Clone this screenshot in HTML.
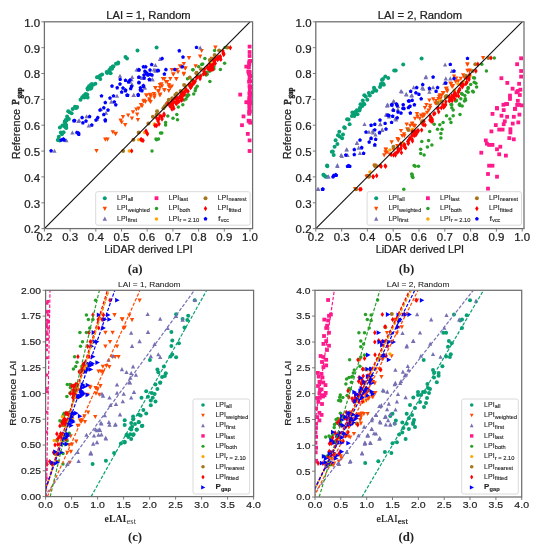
<!DOCTYPE html>
<html><head><meta charset="utf-8"><style>
html,body{margin:0;padding:0;background:#fff;}
body{width:535px;height:550px;overflow:hidden;}
svg{display:block;filter:grayscale(0%);}

</style></head><body>
<svg width="535" height="550" viewBox="0 0 535 550">
<rect width="535" height="550" fill="#fff"/>
<clipPath id="clipa"><rect x="44.4" y="21.8" width="208.2" height="206.8"/></clipPath>
<g clip-path="url(#clipa)">
<circle cx="57.8" cy="140.0" r="2.00" fill="#06a074"/>
<circle cx="60.8" cy="132.5" r="2.00" fill="#06a074"/>
<circle cx="61.9" cy="134.3" r="2.00" fill="#06a074"/>
<circle cx="66.1" cy="125.7" r="2.00" fill="#06a074"/>
<circle cx="65.7" cy="124.5" r="2.00" fill="#06a074"/>
<circle cx="64.9" cy="121.5" r="2.00" fill="#06a074"/>
<circle cx="125.5" cy="57.1" r="2.00" fill="#06a074"/>
<circle cx="127.0" cy="58.6" r="2.00" fill="#06a074"/>
<circle cx="137.5" cy="50.4" r="2.00" fill="#06a074"/>
<circle cx="156.6" cy="47.4" r="2.00" fill="#06a074"/>
<circle cx="118.0" cy="63.5" r="2.00" fill="#06a074"/>
<circle cx="116.0" cy="63.8" r="2.00" fill="#06a074"/>
<circle cx="91.3" cy="87.9" r="2.00" fill="#06a074"/>
<circle cx="100.2" cy="75.6" r="2.00" fill="#06a074"/>
<circle cx="69.6" cy="112.2" r="2.00" fill="#06a074"/>
<circle cx="59.8" cy="140.5" r="2.00" fill="#06a074"/>
<circle cx="102.1" cy="74.4" r="2.00" fill="#06a074"/>
<circle cx="71.6" cy="113.3" r="2.00" fill="#06a074"/>
<circle cx="67.1" cy="116.4" r="2.00" fill="#06a074"/>
<circle cx="84.3" cy="97.6" r="2.00" fill="#06a074"/>
<circle cx="118.2" cy="62.6" r="2.00" fill="#06a074"/>
<circle cx="89.0" cy="86.3" r="2.00" fill="#06a074"/>
<circle cx="66.6" cy="120.5" r="2.00" fill="#06a074"/>
<circle cx="90.4" cy="88.8" r="2.00" fill="#06a074"/>
<circle cx="58.8" cy="136.7" r="2.00" fill="#06a074"/>
<circle cx="80.5" cy="99.7" r="2.00" fill="#06a074"/>
<circle cx="91.3" cy="87.4" r="2.00" fill="#06a074"/>
<circle cx="82.2" cy="97.2" r="2.00" fill="#06a074"/>
<circle cx="64.8" cy="122.2" r="2.00" fill="#06a074"/>
<circle cx="65.1" cy="121.4" r="2.00" fill="#06a074"/>
<circle cx="59.0" cy="140.3" r="2.00" fill="#06a074"/>
<circle cx="64.2" cy="126.1" r="2.00" fill="#06a074"/>
<circle cx="109.3" cy="70.0" r="2.00" fill="#06a074"/>
<circle cx="106.7" cy="72.1" r="2.00" fill="#06a074"/>
<circle cx="97.0" cy="77.2" r="2.00" fill="#06a074"/>
<circle cx="85.6" cy="94.0" r="2.00" fill="#06a074"/>
<circle cx="110.6" cy="73.2" r="2.00" fill="#06a074"/>
<circle cx="87.6" cy="88.2" r="2.00" fill="#06a074"/>
<circle cx="77.1" cy="106.9" r="2.00" fill="#06a074"/>
<circle cx="65.3" cy="127.1" r="2.00" fill="#06a074"/>
<circle cx="76.6" cy="107.7" r="2.00" fill="#06a074"/>
<circle cx="87.7" cy="89.4" r="2.00" fill="#06a074"/>
<circle cx="91.2" cy="86.1" r="2.00" fill="#06a074"/>
<circle cx="62.4" cy="125.6" r="2.00" fill="#06a074"/>
<circle cx="67.6" cy="118.3" r="2.00" fill="#06a074"/>
<circle cx="63.6" cy="132.2" r="2.00" fill="#06a074"/>
<circle cx="65.7" cy="120.1" r="2.00" fill="#06a074"/>
<circle cx="68.2" cy="111.2" r="2.00" fill="#06a074"/>
<circle cx="93.2" cy="84.7" r="2.00" fill="#06a074"/>
<circle cx="107.2" cy="73.0" r="2.00" fill="#06a074"/>
<circle cx="110.7" cy="68.0" r="2.00" fill="#06a074"/>
<circle cx="66.3" cy="128.1" r="2.00" fill="#06a074"/>
<circle cx="112.7" cy="66.6" r="2.00" fill="#06a074"/>
<circle cx="65.3" cy="123.7" r="2.00" fill="#06a074"/>
<circle cx="90.6" cy="85.1" r="2.00" fill="#06a074"/>
<circle cx="75.0" cy="106.7" r="2.00" fill="#06a074"/>
<circle cx="68.9" cy="118.9" r="2.00" fill="#06a074"/>
<circle cx="109.6" cy="71.1" r="2.00" fill="#06a074"/>
<circle cx="87.2" cy="94.4" r="2.00" fill="#06a074"/>
<circle cx="100.3" cy="79.1" r="2.00" fill="#06a074"/>
<circle cx="75.8" cy="107.9" r="2.00" fill="#06a074"/>
<circle cx="59.9" cy="127.5" r="2.00" fill="#06a074"/>
<circle cx="91.9" cy="84.1" r="2.00" fill="#06a074"/>
<circle cx="87.6" cy="97.5" r="2.00" fill="#06a074"/>
<circle cx="72.7" cy="109.0" r="2.00" fill="#06a074"/>
<circle cx="95.4" cy="83.8" r="2.00" fill="#06a074"/>
<circle cx="83.9" cy="95.6" r="2.00" fill="#06a074"/>
<circle cx="112.1" cy="68.8" r="2.00" fill="#06a074"/>
<circle cx="113.4" cy="66.6" r="2.00" fill="#06a074"/>
<circle cx="98.4" cy="77.0" r="2.00" fill="#06a074"/>
<path d="M160.8 77.0H165.1L162.9 81.1Z" fill="#ff4a00"/>
<path d="M163.8 80.0H168.1L165.9 84.1Z" fill="#ff4a00"/>
<path d="M166.7 83.0H171.0L168.8 87.1Z" fill="#ff4a00"/>
<path d="M159.2 82.2H163.6L161.4 86.3Z" fill="#ff4a00"/>
<path d="M157.8 86.0H162.1L159.9 90.1Z" fill="#ff4a00"/>
<path d="M162.2 88.2H166.6L164.4 92.3Z" fill="#ff4a00"/>
<path d="M153.2 86.0H157.6L155.4 90.1Z" fill="#ff4a00"/>
<path d="M156.2 89.7H160.6L158.4 93.8Z" fill="#ff4a00"/>
<path d="M152.4 93.4H156.8L154.6 97.5Z" fill="#ff4a00"/>
<path d="M148.8 94.2H153.1L150.9 98.3Z" fill="#ff4a00"/>
<path d="M144.2 93.4H148.6L146.4 97.5Z" fill="#ff4a00"/>
<path d="M147.2 97.2H151.6L149.4 101.3Z" fill="#ff4a00"/>
<path d="M142.0 98.7H146.3L144.2 102.8Z" fill="#ff4a00"/>
<path d="M166.7 89.0H171.0L168.8 93.1Z" fill="#ff4a00"/>
<path d="M169.7 84.5H174.0L171.8 88.6Z" fill="#ff4a00"/>
<path d="M171.2 72.5H175.5L173.3 76.6Z" fill="#ff4a00"/>
<path d="M174.2 77.0H178.5L176.3 81.1Z" fill="#ff4a00"/>
<path d="M174.9 68.0H179.2L177.1 72.1Z" fill="#ff4a00"/>
<path d="M178.7 65.0H183.0L180.8 69.1Z" fill="#ff4a00"/>
<path d="M183.2 66.5H187.5L185.3 70.6Z" fill="#ff4a00"/>
<path d="M181.7 71.8H186.0L183.8 75.9Z" fill="#ff4a00"/>
<path d="M199.5 48.9H203.8L201.7 53.0Z" fill="#ff4a00"/>
<path d="M198.0 54.6H202.3L200.2 58.7Z" fill="#ff4a00"/>
<path d="M186.8 56.1H191.2L189.0 60.2Z" fill="#ff4a00"/>
<path d="M181.7 62.1H186.0L183.8 66.2Z" fill="#ff4a00"/>
<path d="M193.5 64.3H197.8L195.7 68.4Z" fill="#ff4a00"/>
<path d="M183.2 66.5H187.5L185.3 70.6Z" fill="#ff4a00"/>
<path d="M181.7 72.5H186.0L183.8 76.6Z" fill="#ff4a00"/>
<path d="M169.7 68.0H174.0L171.8 72.1Z" fill="#ff4a00"/>
<path d="M174.2 77.0H178.5L176.3 81.1Z" fill="#ff4a00"/>
<path d="M171.2 72.5H175.5L173.3 76.6Z" fill="#ff4a00"/>
<path d="M162.2 77.0H166.6L164.4 81.1Z" fill="#ff4a00"/>
<path d="M165.2 80.0H169.5L167.3 84.1Z" fill="#ff4a00"/>
<path d="M166.7 84.5H171.0L168.8 88.6Z" fill="#ff4a00"/>
<path d="M157.8 83.0H162.1L159.9 87.1Z" fill="#ff4a00"/>
<path d="M168.2 86.0H172.5L170.3 90.1Z" fill="#ff4a00"/>
<path d="M162.2 88.2H166.6L164.4 92.3Z" fill="#ff4a00"/>
<path d="M153.2 86.0H157.6L155.4 90.1Z" fill="#ff4a00"/>
<path d="M156.2 89.0H160.6L158.4 93.1Z" fill="#ff4a00"/>
<path d="M151.8 91.9H156.1L153.9 96.0Z" fill="#ff4a00"/>
<path d="M144.2 93.4H148.6L146.4 97.5Z" fill="#ff4a00"/>
<path d="M148.0 92.7H152.3L150.2 96.8Z" fill="#ff4a00"/>
<path d="M157.8 93.4H162.1L159.9 97.5Z" fill="#ff4a00"/>
<path d="M141.2 99.4H145.6L143.4 103.5Z" fill="#ff4a00"/>
<path d="M147.2 98.7H151.6L149.4 102.8Z" fill="#ff4a00"/>
<path d="M168.2 77.0H172.5L170.3 81.1Z" fill="#ff4a00"/>
<path d="M213.2 45.6H217.6L215.4 49.7Z" fill="#ff4a00"/>
<path d="M209.5 56.8H213.8L211.7 60.9Z" fill="#ff4a00"/>
<path d="M147.8 93.2H152.1L149.9 97.3Z" fill="#ff4a00"/>
<path d="M152.2 95.4H156.6L154.4 99.5Z" fill="#ff4a00"/>
<path d="M158.2 92.4H162.5L160.3 96.5Z" fill="#ff4a00"/>
<path d="M143.2 99.9H147.6L145.4 104.0Z" fill="#ff4a00"/>
<path d="M138.8 102.9H143.1L140.9 107.0Z" fill="#ff4a00"/>
<path d="M136.5 106.6H140.8L138.7 110.7Z" fill="#ff4a00"/>
<path d="M134.2 107.4H138.6L136.4 111.5Z" fill="#ff4a00"/>
<path d="M135.0 112.6H139.3L137.2 116.7Z" fill="#ff4a00"/>
<path d="M126.0 113.4H130.3L128.2 117.5Z" fill="#ff4a00"/>
<path d="M120.8 114.9H125.2L123.0 119.0Z" fill="#ff4a00"/>
<path d="M129.8 116.4H134.1L131.9 120.5Z" fill="#ff4a00"/>
<path d="M135.8 117.9H140.1L137.9 122.0Z" fill="#ff4a00"/>
<path d="M118.5 118.6H122.9L120.7 122.7Z" fill="#ff4a00"/>
<path d="M123.0 123.1H127.4L125.2 127.2Z" fill="#ff4a00"/>
<path d="M113.3 132.1H117.7L115.5 136.2Z" fill="#ff4a00"/>
<path d="M148.4 99.9H152.8L150.6 104.0Z" fill="#ff4a00"/>
<path d="M103.1 137.6H107.5L105.3 141.7Z" fill="#ff4a00"/>
<path d="M105.3 137.6H109.7L107.5 141.7Z" fill="#ff4a00"/>
<path d="M110.6 130.2H115.0L112.8 134.3Z" fill="#ff4a00"/>
<path d="M113.6 131.7H118.0L115.8 135.8Z" fill="#ff4a00"/>
<path d="M119.5 120.4H123.9L121.7 124.5Z" fill="#ff4a00"/>
<path d="M94.3 148.9H98.7L96.5 153.0Z" fill="#ff4a00"/>
<path d="M139.8 104.2H144.2L142.0 108.3Z" fill="#ff4a00"/>
<path d="M130.8 110.2H135.2L133.0 114.3Z" fill="#ff4a00"/>
<path d="M175.8 70.2H180.2L178.0 74.3Z" fill="#ff4a00"/>
<path d="M177.8 64.2H182.2L180.0 68.3Z" fill="#ff4a00"/>
<path d="M159.8 84.2H164.2L162.0 88.3Z" fill="#ff4a00"/>
<path d="M134.5 71.6H138.8L136.7 67.5Z" fill="#7570b3"/>
<path d="M151.8 71.6H156.1L153.9 67.5Z" fill="#7570b3"/>
<path d="M153.9 72.4H158.2L156.1 68.3Z" fill="#7570b3"/>
<path d="M139.8 79.9H144.1L141.9 75.8Z" fill="#7570b3"/>
<path d="M129.3 81.3H133.7L131.5 77.2Z" fill="#7570b3"/>
<path d="M127.8 83.6H132.2L130.0 79.5Z" fill="#7570b3"/>
<path d="M130.0 86.6H134.3L132.2 82.5Z" fill="#7570b3"/>
<path d="M142.0 89.6H146.3L144.2 85.5Z" fill="#7570b3"/>
<path d="M131.5 97.0H135.8L133.7 92.9Z" fill="#7570b3"/>
<path d="M150.2 81.3H154.6L152.4 77.2Z" fill="#7570b3"/>
<path d="M98.6 111.1H103.0L100.8 107.0Z" fill="#7570b3"/>
<path d="M109.1 103.7H113.5L111.3 99.6Z" fill="#7570b3"/>
<path d="M76.9 122.3H81.2L79.1 118.2Z" fill="#7570b3"/>
<path d="M84.4 118.3H88.8L86.6 114.2Z" fill="#7570b3"/>
<path d="M70.2 134.5H74.6L72.4 130.4Z" fill="#7570b3"/>
<path d="M94.9 120.8H99.2L97.1 116.7Z" fill="#7570b3"/>
<path d="M86.6 127.5H91.0L88.8 123.4Z" fill="#7570b3"/>
<path d="M52.4 152.8H56.6L54.5 148.7Z" fill="#7570b3"/>
<path d="M64.2 142.3H68.6L66.4 138.2Z" fill="#7570b3"/>
<path d="M76.2 123.0H80.6L78.4 118.9Z" fill="#7570b3"/>
<path d="M198.0 49.5H202.3L200.2 45.4Z" fill="#7570b3"/>
<path d="M157.8 60.9H162.1L159.9 56.8Z" fill="#7570b3"/>
<path d="M153.2 67.1H157.6L155.4 63.0Z" fill="#7570b3"/>
<path d="M136.0 71.6H140.3L138.2 67.5Z" fill="#7570b3"/>
<path d="M153.2 72.4H157.6L155.4 68.3Z" fill="#7570b3"/>
<path d="M150.2 81.3H154.6L152.4 77.2Z" fill="#7570b3"/>
<path d="M130.0 79.1H134.3L132.2 75.0Z" fill="#7570b3"/>
<path d="M141.2 79.8H145.6L143.4 75.7Z" fill="#7570b3"/>
<path d="M142.8 89.6H147.1L144.9 85.5Z" fill="#7570b3"/>
<path d="M131.5 97.0H135.8L133.7 92.9Z" fill="#7570b3"/>
<path d="M127.0 83.6H131.3L129.2 79.5Z" fill="#7570b3"/>
<path d="M114.8 97.8H119.2L117.0 93.7Z" fill="#7570b3"/>
<path d="M103.8 114.8H108.2L106.0 110.7Z" fill="#7570b3"/>
<path d="M117.8 77.8H122.2L120.0 73.7Z" fill="#7570b3"/>
<rect x="238.3" y="92.7" width="3.8" height="3.8" fill="#ff1a8c"/>
<rect x="241.6" y="114.5" width="3.8" height="3.8" fill="#ff1a8c"/>
<rect x="240.1" y="123.3" width="3.8" height="3.8" fill="#ff1a8c"/>
<rect x="244.4" y="64.7" width="3.8" height="3.8" fill="#ff1a8c"/>
<rect x="244.4" y="100.3" width="3.8" height="3.8" fill="#ff1a8c"/>
<rect x="245.9" y="132.0" width="3.8" height="3.8" fill="#ff1a8c"/>
<rect x="247.7" y="138.5" width="3.8" height="3.8" fill="#ff1a8c"/>
<rect x="247.7" y="149.1" width="3.8" height="3.8" fill="#ff1a8c"/>
<rect x="247.7" y="44.7" width="3.8" height="3.8" fill="#ff1a8c"/>
<rect x="247.7" y="50.1" width="3.8" height="3.8" fill="#ff1a8c"/>
<rect x="247.7" y="54.1" width="3.8" height="3.8" fill="#ff1a8c"/>
<rect x="247.9" y="84.9" width="3.8" height="3.8" fill="#ff1a8c"/>
<rect x="248.3" y="59.0" width="3.8" height="3.8" fill="#ff1a8c"/>
<rect x="247.8" y="108.9" width="3.8" height="3.8" fill="#ff1a8c"/>
<rect x="247.6" y="104.6" width="3.8" height="3.8" fill="#ff1a8c"/>
<rect x="247.0" y="70.8" width="3.8" height="3.8" fill="#ff1a8c"/>
<rect x="246.4" y="69.6" width="3.8" height="3.8" fill="#ff1a8c"/>
<rect x="246.7" y="118.8" width="3.8" height="3.8" fill="#ff1a8c"/>
<rect x="247.2" y="79.9" width="3.8" height="3.8" fill="#ff1a8c"/>
<rect x="247.8" y="119.0" width="3.8" height="3.8" fill="#ff1a8c"/>
<rect x="248.4" y="120.8" width="3.8" height="3.8" fill="#ff1a8c"/>
<rect x="247.7" y="91.5" width="3.8" height="3.8" fill="#ff1a8c"/>
<rect x="247.6" y="105.6" width="3.8" height="3.8" fill="#ff1a8c"/>
<rect x="248.4" y="85.4" width="3.8" height="3.8" fill="#ff1a8c"/>
<rect x="247.7" y="84.4" width="3.8" height="3.8" fill="#ff1a8c"/>
<rect x="247.3" y="62.5" width="3.8" height="3.8" fill="#ff1a8c"/>
<rect x="248.5" y="91.3" width="3.8" height="3.8" fill="#ff1a8c"/>
<rect x="248.3" y="74.2" width="3.8" height="3.8" fill="#ff1a8c"/>
<rect x="247.3" y="101.4" width="3.8" height="3.8" fill="#ff1a8c"/>
<rect x="247.4" y="98.4" width="3.8" height="3.8" fill="#ff1a8c"/>
<rect x="248.6" y="79.4" width="3.8" height="3.8" fill="#ff1a8c"/>
<rect x="247.5" y="71.1" width="3.8" height="3.8" fill="#ff1a8c"/>
<rect x="247.2" y="71.7" width="3.8" height="3.8" fill="#ff1a8c"/>
<rect x="247.3" y="111.9" width="3.8" height="3.8" fill="#ff1a8c"/>
<rect x="247.9" y="88.8" width="3.8" height="3.8" fill="#ff1a8c"/>
<rect x="246.8" y="100.3" width="3.8" height="3.8" fill="#ff1a8c"/>
<rect x="247.3" y="119.6" width="3.8" height="3.8" fill="#ff1a8c"/>
<rect x="248.1" y="98.3" width="3.8" height="3.8" fill="#ff1a8c"/>
<rect x="247.7" y="69.9" width="3.8" height="3.8" fill="#ff1a8c"/>
<rect x="248.0" y="84.4" width="3.8" height="3.8" fill="#ff1a8c"/>
<rect x="247.6" y="110.3" width="3.8" height="3.8" fill="#ff1a8c"/>
<rect x="247.0" y="65.3" width="3.8" height="3.8" fill="#ff1a8c"/>
<rect x="247.4" y="109.4" width="3.8" height="3.8" fill="#ff1a8c"/>
<rect x="247.7" y="91.6" width="3.8" height="3.8" fill="#ff1a8c"/>
<rect x="247.4" y="61.1" width="3.8" height="3.8" fill="#ff1a8c"/>
<rect x="247.5" y="59.4" width="3.8" height="3.8" fill="#ff1a8c"/>
<rect x="247.7" y="74.0" width="3.8" height="3.8" fill="#ff1a8c"/>
<rect x="248.1" y="94.4" width="3.8" height="3.8" fill="#ff1a8c"/>
<rect x="247.4" y="95.9" width="3.8" height="3.8" fill="#ff1a8c"/>
<rect x="248.3" y="101.5" width="3.8" height="3.8" fill="#ff1a8c"/>
<rect x="247.6" y="78.0" width="3.8" height="3.8" fill="#ff1a8c"/>
<circle cx="156.0" cy="139.0" r="1.75" fill="#28a028"/>
<circle cx="158.5" cy="139.0" r="1.75" fill="#28a028"/>
<circle cx="160.5" cy="133.0" r="1.75" fill="#28a028"/>
<circle cx="192.8" cy="69.8" r="1.75" fill="#28a028"/>
<circle cx="187.5" cy="78.8" r="1.75" fill="#28a028"/>
<circle cx="197.2" cy="86.3" r="1.75" fill="#28a028"/>
<circle cx="195.7" cy="88.5" r="1.75" fill="#28a028"/>
<circle cx="187.5" cy="95.2" r="1.75" fill="#28a028"/>
<circle cx="201.7" cy="64.6" r="1.75" fill="#28a028"/>
<circle cx="198.7" cy="66.8" r="1.75" fill="#28a028"/>
<circle cx="203.2" cy="74.3" r="1.75" fill="#28a028"/>
<circle cx="214.6" cy="50.4" r="1.75" fill="#28a028"/>
<circle cx="204.9" cy="58.6" r="1.75" fill="#28a028"/>
<circle cx="202.7" cy="63.9" r="1.75" fill="#28a028"/>
<circle cx="193.0" cy="69.8" r="1.75" fill="#28a028"/>
<circle cx="213.9" cy="66.8" r="1.75" fill="#28a028"/>
<circle cx="213.9" cy="69.1" r="1.75" fill="#28a028"/>
<circle cx="207.2" cy="74.3" r="1.75" fill="#28a028"/>
<circle cx="195.2" cy="90.8" r="1.75" fill="#28a028"/>
<circle cx="187.0" cy="95.2" r="1.75" fill="#28a028"/>
<circle cx="225.1" cy="47.4" r="1.75" fill="#28a028"/>
<circle cx="152.0" cy="150.9" r="1.75" fill="#28a028"/>
<circle cx="156.6" cy="139.8" r="1.75" fill="#28a028"/>
<circle cx="161.8" cy="133.1" r="1.75" fill="#28a028"/>
<circle cx="165.6" cy="124.9" r="1.75" fill="#28a028"/>
<circle cx="165.6" cy="122.6" r="1.75" fill="#28a028"/>
<circle cx="167.8" cy="115.9" r="1.75" fill="#28a028"/>
<circle cx="173.0" cy="118.2" r="1.75" fill="#28a028"/>
<circle cx="177.5" cy="119.7" r="1.75" fill="#28a028"/>
<circle cx="176.8" cy="114.4" r="1.75" fill="#28a028"/>
<circle cx="178.3" cy="107.0" r="1.75" fill="#28a028"/>
<circle cx="182.8" cy="104.7" r="1.75" fill="#28a028"/>
<circle cx="187.2" cy="96.5" r="1.75" fill="#28a028"/>
<circle cx="188.7" cy="95.0" r="1.75" fill="#28a028"/>
<circle cx="192.0" cy="80.0" r="1.75" fill="#28a028"/>
<circle cx="199.0" cy="76.0" r="1.75" fill="#28a028"/>
<circle cx="184.0" cy="100.0" r="1.75" fill="#28a028"/>
<circle cx="224.6" cy="63.3" r="1.75" fill="#28a028"/>
<circle cx="209.9" cy="81.6" r="1.75" fill="#28a028"/>
<circle cx="220.4" cy="69.6" r="1.75" fill="#28a028"/>
<circle cx="209.5" cy="71.3" r="1.75" fill="#28a028"/>
<circle cx="206.5" cy="72.3" r="1.75" fill="#28a028"/>
<circle cx="193.7" cy="94.1" r="1.75" fill="#28a028"/>
<circle cx="206.2" cy="75.0" r="1.75" fill="#28a028"/>
<circle cx="186.0" cy="98.9" r="1.75" fill="#28a028"/>
<circle cx="129.3" cy="150.9" r="1.75" fill="#ffa500"/>
<circle cx="138.7" cy="139.8" r="1.75" fill="#ffa500"/>
<circle cx="144.6" cy="132.4" r="1.75" fill="#ffa500"/>
<circle cx="154.4" cy="124.1" r="1.75" fill="#ffa500"/>
<circle cx="210.3" cy="60.7" r="1.75" fill="#ffa500"/>
<circle cx="191.4" cy="81.7" r="1.75" fill="#ffa500"/>
<circle cx="213.4" cy="58.4" r="1.75" fill="#ffa500"/>
<circle cx="210.2" cy="60.6" r="1.75" fill="#ffa500"/>
<circle cx="184.3" cy="89.8" r="1.75" fill="#ffa500"/>
<circle cx="210.1" cy="63.0" r="1.75" fill="#ffa500"/>
<circle cx="215.2" cy="58.5" r="1.75" fill="#ffa500"/>
<circle cx="186.0" cy="85.9" r="1.75" fill="#ffa500"/>
<circle cx="123.1" cy="150.9" r="2.00" fill="#a6761d"/>
<circle cx="133.4" cy="139.8" r="2.00" fill="#a6761d"/>
<circle cx="138.7" cy="132.4" r="2.00" fill="#a6761d"/>
<circle cx="148.4" cy="123.4" r="2.00" fill="#a6761d"/>
<circle cx="152.9" cy="116.7" r="2.00" fill="#a6761d"/>
<circle cx="156.6" cy="114.4" r="2.00" fill="#a6761d"/>
<circle cx="164.8" cy="106.2" r="2.00" fill="#a6761d"/>
<circle cx="167.8" cy="102.5" r="2.00" fill="#a6761d"/>
<circle cx="175.3" cy="95.0" r="2.00" fill="#a6761d"/>
<circle cx="219.1" cy="50.4" r="2.00" fill="#a6761d"/>
<circle cx="227.3" cy="47.4" r="2.00" fill="#a6761d"/>
<circle cx="176.7" cy="93.6" r="2.00" fill="#a6761d"/>
<circle cx="201.1" cy="69.2" r="2.00" fill="#a6761d"/>
<circle cx="209.9" cy="60.0" r="2.00" fill="#a6761d"/>
<circle cx="212.2" cy="59.1" r="2.00" fill="#a6761d"/>
<circle cx="166.5" cy="103.9" r="2.00" fill="#a6761d"/>
<circle cx="157.1" cy="111.2" r="2.00" fill="#a6761d"/>
<circle cx="196.4" cy="73.2" r="2.00" fill="#a6761d"/>
<circle cx="168.8" cy="99.7" r="2.00" fill="#a6761d"/>
<circle cx="189.7" cy="77.4" r="2.00" fill="#a6761d"/>
<circle cx="214.6" cy="55.1" r="2.00" fill="#a6761d"/>
<circle cx="180.6" cy="91.1" r="2.00" fill="#a6761d"/>
<circle cx="172.2" cy="98.3" r="2.00" fill="#a6761d"/>
<circle cx="184.1" cy="85.0" r="2.00" fill="#a6761d"/>
<circle cx="196.6" cy="72.7" r="2.00" fill="#a6761d"/>
<circle cx="163.4" cy="108.2" r="2.00" fill="#a6761d"/>
<path d="M156.5 115.3L158.2 118.0L156.5 120.7L154.8 118.0Z" fill="#ff0000"/>
<path d="M158.0 118.3L159.8 121.0L158.0 123.7L156.2 121.0Z" fill="#ff0000"/>
<path d="M160.0 113.3L161.8 116.0L160.0 118.7L158.2 116.0Z" fill="#ff0000"/>
<path d="M162.0 116.3L163.8 119.0L162.0 121.7L160.2 119.0Z" fill="#ff0000"/>
<path d="M164.0 111.3L165.8 114.0L164.0 116.7L162.2 114.0Z" fill="#ff0000"/>
<path d="M159.0 121.3L160.8 124.0L159.0 126.7L157.2 124.0Z" fill="#ff0000"/>
<path d="M155.0 122.8L156.8 125.5L155.0 128.2L153.2 125.5Z" fill="#ff0000"/>
<path d="M146.0 128.3L147.8 131.0L146.0 133.7L144.2 131.0Z" fill="#ff0000"/>
<path d="M147.5 131.3L149.2 134.0L147.5 136.7L145.8 134.0Z" fill="#ff0000"/>
<path d="M141.0 136.8L142.8 139.5L141.0 142.2L139.2 139.5Z" fill="#ff0000"/>
<path d="M143.0 137.8L144.8 140.5L143.0 143.2L141.2 140.5Z" fill="#ff0000"/>
<path d="M170.0 103.3L171.8 106.0L170.0 108.7L168.2 106.0Z" fill="#ff0000"/>
<path d="M172.0 106.3L173.8 109.0L172.0 111.7L170.2 109.0Z" fill="#ff0000"/>
<path d="M168.0 101.3L169.8 104.0L168.0 106.7L166.2 104.0Z" fill="#ff0000"/>
<path d="M230.3 45.1L232.1 47.7L230.3 50.4L228.6 47.7Z" fill="#ff0000"/>
<path d="M222.9 48.5L224.7 51.1L222.9 53.8L221.2 51.1Z" fill="#ff0000"/>
<path d="M219.9 54.5L221.7 57.1L219.9 59.8L218.2 57.1Z" fill="#ff0000"/>
<path d="M216.1 56.0L217.8 58.6L216.1 61.2L214.3 58.6Z" fill="#ff0000"/>
<path d="M131.7 148.2L133.4 150.9L131.7 153.6L129.9 150.9Z" fill="#ff0000"/>
<path d="M141.7 137.2L143.4 139.8L141.7 142.5L139.9 139.8Z" fill="#ff0000"/>
<path d="M146.9 130.4L148.7 133.1L146.9 135.8L145.2 133.1Z" fill="#ff0000"/>
<path d="M156.6 122.9L158.3 125.6L156.6 128.2L154.8 125.6Z" fill="#ff0000"/>
<path d="M158.8 116.2L160.6 118.9L158.8 121.6L157.1 118.9Z" fill="#ff0000"/>
<path d="M161.8 114.0L163.6 116.7L161.8 119.4L160.1 116.7Z" fill="#ff0000"/>
<path d="M164.1 112.5L165.8 115.2L164.1 117.9L162.3 115.2Z" fill="#ff0000"/>
<path d="M170.8 103.5L172.6 106.2L170.8 108.9L169.1 106.2Z" fill="#ff0000"/>
<path d="M173.8 105.8L175.6 108.4L173.8 111.1L172.1 108.4Z" fill="#ff0000"/>
<path d="M176.0 100.5L177.8 103.2L176.0 105.9L174.2 103.2Z" fill="#ff0000"/>
<path d="M181.3 97.5L183.1 100.2L181.3 102.9L179.6 100.2Z" fill="#ff0000"/>
<path d="M182.8 93.0L184.6 95.7L182.8 98.4L181.1 95.7Z" fill="#ff0000"/>
<path d="M184.3 91.5L186.1 94.2L184.3 96.9L182.6 94.2Z" fill="#ff0000"/>
<path d="M209.8 62.0L211.5 64.7L209.8 67.3L208.0 64.7Z" fill="#ff0000"/>
<path d="M177.4 97.4L179.1 100.1L177.4 102.7L175.6 100.1Z" fill="#ff0000"/>
<path d="M178.9 98.7L180.7 101.4L178.9 104.0L177.2 101.4Z" fill="#ff0000"/>
<path d="M178.3 98.3L180.0 101.0L178.3 103.6L176.5 101.0Z" fill="#ff0000"/>
<path d="M173.7 99.1L175.5 101.8L173.7 104.4L172.0 101.8Z" fill="#ff0000"/>
<path d="M217.9 54.8L219.7 57.5L217.9 60.1L216.2 57.5Z" fill="#ff0000"/>
<path d="M184.2 89.4L186.0 92.1L184.2 94.7L182.5 92.1Z" fill="#ff0000"/>
<path d="M187.0 88.2L188.7 90.9L187.0 93.5L185.2 90.9Z" fill="#ff0000"/>
<path d="M214.6 59.4L216.4 62.1L214.6 64.7L212.9 62.1Z" fill="#ff0000"/>
<path d="M203.7 71.3L205.4 73.9L203.7 76.6L201.9 73.9Z" fill="#ff0000"/>
<path d="M180.6 94.6L182.4 97.3L180.6 99.9L178.9 97.3Z" fill="#ff0000"/>
<path d="M193.3 80.7L195.0 83.4L193.3 86.0L191.5 83.4Z" fill="#ff0000"/>
<path d="M217.5 56.8L219.3 59.5L217.5 62.1L215.8 59.5Z" fill="#ff0000"/>
<path d="M190.6 84.4L192.3 87.1L190.6 89.7L188.8 87.1Z" fill="#ff0000"/>
<path d="M208.2 66.1L210.0 68.8L208.2 71.4L206.5 68.8Z" fill="#ff0000"/>
<path d="M176.0 99.7L177.7 102.4L176.0 105.0L174.2 102.4Z" fill="#ff0000"/>
<path d="M211.1 67.1L212.8 69.8L211.1 72.4L209.3 69.8Z" fill="#ff0000"/>
<path d="M212.4 63.2L214.2 65.9L212.4 68.5L210.7 65.9Z" fill="#ff0000"/>
<path d="M214.5 60.1L216.3 62.7L214.5 65.4L212.8 62.7Z" fill="#ff0000"/>
<path d="M204.7 66.5L206.4 69.1L204.7 71.8L202.9 69.1Z" fill="#ff0000"/>
<path d="M190.5 84.9L192.3 87.5L190.5 90.2L188.8 87.5Z" fill="#ff0000"/>
<path d="M171.8 99.0L173.6 101.7L171.8 104.3L170.1 101.7Z" fill="#ff0000"/>
<path d="M196.6 75.1L198.4 77.8L196.6 80.4L194.9 77.8Z" fill="#ff0000"/>
<path d="M211.7 64.5L213.4 67.2L211.7 69.8L209.9 67.2Z" fill="#ff0000"/>
<path d="M181.2 94.8L183.0 97.5L181.2 100.1L179.5 97.5Z" fill="#ff0000"/>
<path d="M184.4 89.9L186.1 92.6L184.4 95.2L182.6 92.6Z" fill="#ff0000"/>
<path d="M197.3 73.9L199.0 76.5L197.3 79.2L195.5 76.5Z" fill="#ff0000"/>
<path d="M209.9 63.8L211.7 66.5L209.9 69.1L208.2 66.5Z" fill="#ff0000"/>
<path d="M217.6 55.5L219.3 58.2L217.6 60.8L215.8 58.2Z" fill="#ff0000"/>
<path d="M177.7 98.3L179.4 100.9L177.7 103.6L175.9 100.9Z" fill="#ff0000"/>
<path d="M182.4 96.7L184.2 99.4L182.4 102.0L180.7 99.4Z" fill="#ff0000"/>
<path d="M213.3 61.6L215.0 64.3L213.3 66.9L211.5 64.3Z" fill="#ff0000"/>
<path d="M204.0 69.0L205.7 71.6L204.0 74.3L202.2 71.6Z" fill="#ff0000"/>
<path d="M207.7 64.5L209.4 67.1L207.7 69.8L205.9 67.1Z" fill="#ff0000"/>
<path d="M223.5 50.8L225.3 53.4L223.5 56.1L221.8 53.4Z" fill="#ff0000"/>
<path d="M220.3 53.7L222.1 56.4L220.3 59.0L218.6 56.4Z" fill="#ff0000"/>
<path d="M214.2 57.9L216.0 60.6L214.2 63.2L212.5 60.6Z" fill="#ff0000"/>
<path d="M212.0 62.7L213.7 65.4L212.0 68.0L210.2 65.4Z" fill="#ff0000"/>
<path d="M190.3 82.0L192.0 84.7L190.3 87.3L188.5 84.7Z" fill="#ff0000"/>
<path d="M205.7 71.0L207.4 73.7L205.7 76.3L203.9 73.7Z" fill="#ff0000"/>
<path d="M181.2 95.5L183.0 98.2L181.2 100.8L179.5 98.2Z" fill="#ff0000"/>
<path d="M212.0 64.6L213.7 67.3L212.0 69.9L210.2 67.3Z" fill="#ff0000"/>
<path d="M210.3 63.2L212.1 65.9L210.3 68.5L208.6 65.9Z" fill="#ff0000"/>
<path d="M209.4 66.1L211.1 68.8L209.4 71.4L207.6 68.8Z" fill="#ff0000"/>
<path d="M194.0 80.4L195.7 83.0L194.0 85.7L192.2 83.0Z" fill="#ff0000"/>
<path d="M190.1 83.7L191.9 86.3L190.1 89.0L188.4 86.3Z" fill="#ff0000"/>
<path d="M192.4 81.5L194.2 84.2L192.4 86.8L190.7 84.2Z" fill="#ff0000"/>
<path d="M170.8 101.3L172.6 104.0L170.8 106.6L169.1 104.0Z" fill="#ff0000"/>
<path d="M214.0 57.6L215.8 60.2L214.0 62.9L212.3 60.2Z" fill="#ff0000"/>
<path d="M200.1 76.0L201.8 78.7L200.1 81.3L198.3 78.7Z" fill="#ff0000"/>
<path d="M190.8 83.4L192.6 86.0L190.8 88.7L189.1 86.0Z" fill="#ff0000"/>
<path d="M199.8 75.2L201.6 77.8L199.8 80.5L198.1 77.8Z" fill="#ff0000"/>
<path d="M209.9 66.6L211.6 69.2L209.9 71.9L208.1 69.2Z" fill="#ff0000"/>
<path d="M189.0 82.2L190.7 84.8L189.0 87.5L187.2 84.8Z" fill="#ff0000"/>
<path d="M213.9 59.0L215.7 61.6L213.9 64.3L212.2 61.6Z" fill="#ff0000"/>
<path d="M219.6 55.1L221.4 57.8L219.6 60.4L217.9 57.8Z" fill="#ff0000"/>
<path d="M191.4 84.0L193.2 86.6L191.4 89.3L189.7 86.6Z" fill="#ff0000"/>
<path d="M177.3 96.6L179.1 99.3L177.3 101.9L175.6 99.3Z" fill="#ff0000"/>
<path d="M212.0 64.5L213.7 67.2L212.0 69.8L210.2 67.2Z" fill="#ff0000"/>
<path d="M223.6 51.2L225.4 53.9L223.6 56.5L221.9 53.9Z" fill="#ff0000"/>
<path d="M177.0 95.3L178.8 97.9L177.0 100.6L175.3 97.9Z" fill="#ff0000"/>
<path d="M207.5 65.2L209.2 67.8L207.5 70.5L205.7 67.8Z" fill="#ff0000"/>
<path d="M215.2 60.8L217.0 63.5L215.2 66.1L213.5 63.5Z" fill="#ff0000"/>
<path d="M220.0 55.4L221.7 58.0L220.0 60.7L218.2 58.0Z" fill="#ff0000"/>
<path d="M175.0 95.9L176.8 98.5L175.0 101.2L173.3 98.5Z" fill="#ff0000"/>
<path d="M176.6 100.8L178.3 103.5L176.6 106.1L174.8 103.5Z" fill="#ff0000"/>
<path d="M223.7 51.9L225.5 54.5L223.7 57.2L222.0 54.5Z" fill="#ff0000"/>
<path d="M177.9 99.5L179.6 102.1L177.9 104.8L176.1 102.1Z" fill="#ff0000"/>
<path d="M179.4 94.5L181.1 97.2L179.4 99.8L177.6 97.2Z" fill="#ff0000"/>
<path d="M200.8 73.2L202.5 75.9L200.8 78.5L199.0 75.9Z" fill="#ff0000"/>
<path d="M193.1 79.3L194.8 82.0L193.1 84.6L191.3 82.0Z" fill="#ff0000"/>
<path d="M212.9 66.6L214.7 69.2L212.9 71.9L211.2 69.2Z" fill="#ff0000"/>
<path d="M180.3 94.0L182.1 96.6L180.3 99.3L178.6 96.6Z" fill="#ff0000"/>
<path d="M220.8 56.8L222.5 59.5L220.8 62.1L219.0 59.5Z" fill="#ff0000"/>
<path d="M181.3 92.1L183.0 94.7L181.3 97.4L179.5 94.7Z" fill="#ff0000"/>
<path d="M211.6 63.2L213.3 65.9L211.6 68.5L209.8 65.9Z" fill="#ff0000"/>
<path d="M172.3 99.1L174.0 101.8L172.3 104.4L170.5 101.8Z" fill="#ff0000"/>
<path d="M195.2 78.6L197.0 81.2L195.2 83.9L193.5 81.2Z" fill="#ff0000"/>
<path d="M173.0 103.6L174.8 106.3L173.0 108.9L171.3 106.3Z" fill="#ff0000"/>
<path d="M185.8 86.3L187.6 88.9L185.8 91.6L184.1 88.9Z" fill="#ff0000"/>
<path d="M188.1 88.7L189.8 91.3L188.1 94.0L186.3 91.3Z" fill="#ff0000"/>
<path d="M209.1 66.0L210.9 68.7L209.1 71.3L207.4 68.7Z" fill="#ff0000"/>
<path d="M193.6 78.9L195.3 81.6L193.6 84.2L191.8 81.6Z" fill="#ff0000"/>
<path d="M172.8 100.9L174.6 103.5L172.8 106.2L171.1 103.5Z" fill="#ff0000"/>
<path d="M223.1 50.4L224.8 53.1L223.1 55.7L221.3 53.1Z" fill="#ff0000"/>
<path d="M217.8 56.6L219.5 59.2L217.8 61.9L216.0 59.2Z" fill="#ff0000"/>
<path d="M218.8 54.6L220.5 57.3L218.8 59.9L217.0 57.3Z" fill="#ff0000"/>
<path d="M182.7 90.3L184.4 93.0L182.7 95.6L180.9 93.0Z" fill="#ff0000"/>
<path d="M191.1 82.9L192.8 85.6L191.1 88.2L189.3 85.6Z" fill="#ff0000"/>
<path d="M181.4 91.2L183.2 93.8L181.4 96.5L179.7 93.8Z" fill="#ff0000"/>
<polygon points="138.9,67.8 140.8,69.2 140.1,71.5 137.7,71.5 137.0,69.2" fill="#0000ff"/>
<polygon points="143.4,64.8 145.3,66.2 144.6,68.5 142.2,68.5 141.5,66.2" fill="#0000ff"/>
<polygon points="144.9,69.2 146.8,70.7 146.1,73.0 143.7,73.0 143.0,70.7" fill="#0000ff"/>
<polygon points="146.4,71.5 148.3,73.0 147.6,75.3 145.2,75.3 144.5,73.0" fill="#0000ff"/>
<polygon points="147.9,73.0 149.8,74.5 149.1,76.8 146.7,76.8 146.0,74.5" fill="#0000ff"/>
<polygon points="150.2,72.2 152.1,73.7 151.4,76.0 149.0,76.0 148.3,73.7" fill="#0000ff"/>
<polygon points="157.6,68.5 159.5,70.0 158.8,72.3 156.4,72.3 155.7,70.0" fill="#0000ff"/>
<polygon points="144.2,76.0 146.1,77.5 145.4,79.8 143.0,79.8 142.3,77.5" fill="#0000ff"/>
<polygon points="138.9,75.2 140.8,76.7 140.1,79.0 137.7,79.0 137.0,76.7" fill="#0000ff"/>
<polygon points="128.5,79.8 130.4,81.2 129.7,83.5 127.3,83.5 126.6,81.2" fill="#0000ff"/>
<polygon points="130.7,86.5 132.6,87.9 131.9,90.2 129.5,90.2 128.8,87.9" fill="#0000ff"/>
<polygon points="138.9,80.5 140.8,81.9 140.1,84.2 137.7,84.2 137.0,81.9" fill="#0000ff"/>
<polygon points="140.4,85.8 142.3,87.2 141.6,89.5 139.2,89.5 138.5,87.2" fill="#0000ff"/>
<polygon points="141.9,88.8 143.8,90.2 143.1,92.5 140.7,92.5 140.0,90.2" fill="#0000ff"/>
<polygon points="143.4,83.5 145.3,84.9 144.6,87.2 142.2,87.2 141.5,84.9" fill="#0000ff"/>
<polygon points="125.5,88.0 127.4,89.4 126.7,91.7 124.3,91.7 123.6,89.4" fill="#0000ff"/>
<polygon points="127.0,93.2 128.9,94.6 128.2,96.9 125.8,96.9 125.1,94.6" fill="#0000ff"/>
<polygon points="138.2,92.5 140.1,93.9 139.4,96.2 137.0,96.2 136.3,93.9" fill="#0000ff"/>
<polygon points="149.4,77.5 151.3,78.9 150.6,81.2 148.2,81.2 147.5,78.9" fill="#0000ff"/>
<polygon points="120.2,77.4 122.1,78.8 121.4,81.1 119.0,81.1 118.3,78.8" fill="#0000ff"/>
<polygon points="117.2,85.7 119.1,87.1 118.4,89.4 116.0,89.4 115.3,87.1" fill="#0000ff"/>
<polygon points="121.7,90.0 123.6,91.5 122.9,93.8 120.5,93.8 119.8,91.5" fill="#0000ff"/>
<polygon points="113.5,93.9 115.4,95.3 114.7,97.6 112.3,97.6 111.6,95.3" fill="#0000ff"/>
<polygon points="101.5,93.9 103.4,95.3 102.7,97.6 100.3,97.6 99.6,95.3" fill="#0000ff"/>
<polygon points="105.3,100.5 107.2,102.0 106.5,104.3 104.1,104.3 103.4,102.0" fill="#0000ff"/>
<polygon points="114.3,99.9 116.2,101.3 115.5,103.6 113.1,103.6 112.4,101.3" fill="#0000ff"/>
<polygon points="115.8,102.8 117.7,104.2 117.0,106.5 114.6,106.5 113.9,104.2" fill="#0000ff"/>
<polygon points="103.8,105.8 105.7,107.2 105.0,109.5 102.6,109.5 101.9,107.2" fill="#0000ff"/>
<polygon points="103.8,112.5 105.7,114.0 105.0,116.3 102.6,116.3 101.9,114.0" fill="#0000ff"/>
<polygon points="105.3,117.8 107.2,119.2 106.5,121.5 104.1,121.5 103.4,119.2" fill="#0000ff"/>
<polygon points="97.8,115.5 99.7,116.9 99.0,119.2 96.6,119.2 95.9,116.9" fill="#0000ff"/>
<polygon points="89.6,114.5 91.5,115.9 90.8,118.2 88.4,118.2 87.7,115.9" fill="#0000ff"/>
<polygon points="82.1,115.5 84.0,116.9 83.3,119.2 80.9,119.2 80.2,116.9" fill="#0000ff"/>
<polygon points="74.6,118.5 76.5,119.9 75.8,122.2 73.4,122.2 72.7,119.9" fill="#0000ff"/>
<polygon points="82.9,120.8 84.8,122.2 84.1,124.5 81.7,124.5 81.0,122.2" fill="#0000ff"/>
<polygon points="91.8,123.0 93.7,124.4 93.0,126.7 90.6,126.7 89.9,124.4" fill="#0000ff"/>
<polygon points="78.4,131.1 80.3,132.6 79.6,134.9 77.2,134.9 76.5,132.6" fill="#0000ff"/>
<polygon points="63.4,137.1 65.3,138.6 64.6,140.9 62.2,140.9 61.5,138.6" fill="#0000ff"/>
<polygon points="61.2,137.9 63.1,139.4 62.4,141.7 60.0,141.7 59.3,139.4" fill="#0000ff"/>
<polygon points="64.2,137.9 66.1,139.4 65.4,141.7 63.0,141.7 62.3,139.4" fill="#0000ff"/>
<polygon points="51.1,148.8 53.0,150.2 52.3,152.5 49.9,152.5 49.2,150.2" fill="#0000ff"/>
<polygon points="76.9,130.4 78.8,131.9 78.1,134.2 75.7,134.2 75.0,131.9" fill="#0000ff"/>
<polygon points="78.8,132.2 80.7,133.7 80.0,136.0 77.6,136.0 76.9,133.7" fill="#0000ff"/>
<polygon points="73.9,118.7 75.8,120.1 75.1,122.4 72.7,122.4 72.0,120.1" fill="#0000ff"/>
<polygon points="105.3,118.7 107.2,120.1 106.5,122.4 104.1,122.4 103.4,120.1" fill="#0000ff"/>
<polygon points="179.3,48.7 181.2,50.1 180.5,52.4 178.1,52.4 177.4,50.1" fill="#0000ff"/>
<polygon points="183.0,55.1 184.9,56.5 184.2,58.8 181.8,58.8 181.1,56.5" fill="#0000ff"/>
<polygon points="196.5,45.4 198.4,46.8 197.7,49.1 195.3,49.1 194.6,46.8" fill="#0000ff"/>
<polygon points="162.1,56.6 164.0,58.0 163.3,60.3 160.9,60.3 160.2,58.0" fill="#0000ff"/>
<polygon points="151.7,62.5 153.6,64.0 152.9,66.3 150.5,66.3 149.8,64.0" fill="#0000ff"/>
<polygon points="145.7,64.8 147.6,66.2 146.9,68.5 144.5,68.5 143.8,66.2" fill="#0000ff"/>
<polygon points="165.9,67.5 167.8,68.9 167.1,71.2 164.7,71.2 164.0,68.9" fill="#0000ff"/>
<polygon points="164.4,72.0 166.3,73.4 165.6,75.7 163.2,75.7 162.5,73.4" fill="#0000ff"/>
<polygon points="182.3,64.8 184.2,66.2 183.5,68.5 181.1,68.5 180.4,66.2" fill="#0000ff"/>
<polygon points="174.8,67.5 176.7,68.9 176.0,71.2 173.6,71.2 172.9,68.9" fill="#0000ff"/>
<polygon points="146.4,70.8 148.3,72.2 147.6,74.5 145.2,74.5 144.5,72.2" fill="#0000ff"/>
<polygon points="147.9,72.2 149.8,73.7 149.1,76.0 146.7,76.0 146.0,73.7" fill="#0000ff"/>
<polygon points="139.0,67.8 140.9,69.2 140.2,71.5 137.8,71.5 137.1,69.2" fill="#0000ff"/>
<polygon points="158.4,68.5 160.3,70.0 159.6,72.3 157.2,72.3 156.5,70.0" fill="#0000ff"/>
<polygon points="149.4,77.5 151.3,78.9 150.6,81.2 148.2,81.2 147.5,78.9" fill="#0000ff"/>
<polygon points="139.0,75.2 140.9,76.7 140.2,79.0 137.8,79.0 137.1,76.7" fill="#0000ff"/>
<polygon points="125.5,78.2 127.4,79.7 126.7,82.0 124.3,82.0 123.6,79.7" fill="#0000ff"/>
<polygon points="131.5,84.2 133.4,85.7 132.7,88.0 130.3,88.0 129.6,85.7" fill="#0000ff"/>
<polygon points="139.0,80.5 140.9,81.9 140.2,84.2 137.8,84.2 137.1,81.9" fill="#0000ff"/>
<polygon points="143.4,84.2 145.3,85.7 144.6,88.0 142.2,88.0 141.5,85.7" fill="#0000ff"/>
<polygon points="140.4,88.0 142.3,89.4 141.6,91.7 139.2,91.7 138.5,89.4" fill="#0000ff"/>
<polygon points="125.5,88.8 127.4,90.2 126.7,92.5 124.3,92.5 123.6,90.2" fill="#0000ff"/>
<polygon points="127.7,93.2 129.6,94.6 128.9,96.9 126.5,96.9 125.8,94.6" fill="#0000ff"/>
<polygon points="138.2,93.2 140.1,94.6 139.4,96.9 137.0,96.9 136.3,94.6" fill="#0000ff"/>
<polygon points="150.0,68.0 151.9,69.4 151.2,71.7 148.8,71.7 148.1,69.4" fill="#0000ff"/>
<polygon points="152.0,73.0 153.9,74.4 153.2,76.7 150.8,76.7 150.1,74.4" fill="#0000ff"/>
<polygon points="144.0,73.0 145.9,74.4 145.2,76.7 142.8,76.7 142.1,74.4" fill="#0000ff"/>
<polygon points="130.0,78.0 131.9,79.4 131.2,81.7 128.8,81.7 128.1,79.4" fill="#0000ff"/>
<polygon points="120.0,82.0 121.9,83.4 121.2,85.7 118.8,85.7 118.1,83.4" fill="#0000ff"/>
<polygon points="110.0,96.0 111.9,97.4 111.2,99.7 108.8,99.7 108.1,97.4" fill="#0000ff"/>
<polygon points="123.0,86.0 124.9,87.4 124.2,89.7 121.8,89.7 121.1,87.4" fill="#0000ff"/>
<polygon points="108.0,108.0 109.9,109.4 109.2,111.7 106.8,111.7 106.1,109.4" fill="#0000ff"/>
<polygon points="96.0,118.0 97.9,119.4 97.2,121.7 94.8,121.7 94.1,119.4" fill="#0000ff"/>
<polygon points="86.0,119.0 87.9,120.4 87.2,122.7 84.8,122.7 84.1,120.4" fill="#0000ff"/>
<polygon points="100.0,108.0 101.9,109.4 101.2,111.7 98.8,111.7 98.1,109.4" fill="#0000ff"/>
<polygon points="112.0,84.0 113.9,85.4 113.2,87.7 110.8,87.7 110.1,85.4" fill="#0000ff"/>
<line x1="44.4" y1="228.6" x2="250.0" y2="21.8" stroke="#111" stroke-width="1.15"/>
</g>
<rect x="44.4" y="21.8" width="208.2" height="206.8" fill="none" stroke="#6e6e6e" stroke-width="1.25"/>
<line x1="44.4" y1="228.6" x2="44.4" y2="231.6" stroke="#6e6e6e" stroke-width="0.9"/>
<text x="44.4" y="241.1" font-family="Liberation Sans" font-size="10" text-anchor="middle" fill="#222" textLength="15.90" lengthAdjust="spacingAndGlyphs" stroke="#222" stroke-width="0.22">0.2</text>
<line x1="70.1" y1="228.6" x2="70.1" y2="231.6" stroke="#6e6e6e" stroke-width="0.9"/>
<text x="70.1" y="241.1" font-family="Liberation Sans" font-size="10" text-anchor="middle" fill="#222" textLength="15.90" lengthAdjust="spacingAndGlyphs" stroke="#222" stroke-width="0.22">0.3</text>
<line x1="95.8" y1="228.6" x2="95.8" y2="231.6" stroke="#6e6e6e" stroke-width="0.9"/>
<text x="95.8" y="241.1" font-family="Liberation Sans" font-size="10" text-anchor="middle" fill="#222" textLength="15.90" lengthAdjust="spacingAndGlyphs" stroke="#222" stroke-width="0.22">0.4</text>
<line x1="121.5" y1="228.6" x2="121.5" y2="231.6" stroke="#6e6e6e" stroke-width="0.9"/>
<text x="121.5" y="241.1" font-family="Liberation Sans" font-size="10" text-anchor="middle" fill="#222" textLength="15.90" lengthAdjust="spacingAndGlyphs" stroke="#222" stroke-width="0.22">0.5</text>
<line x1="147.2" y1="228.6" x2="147.2" y2="231.6" stroke="#6e6e6e" stroke-width="0.9"/>
<text x="147.2" y="241.1" font-family="Liberation Sans" font-size="10" text-anchor="middle" fill="#222" textLength="15.90" lengthAdjust="spacingAndGlyphs" stroke="#222" stroke-width="0.22">0.6</text>
<line x1="172.9" y1="228.6" x2="172.9" y2="231.6" stroke="#6e6e6e" stroke-width="0.9"/>
<text x="172.9" y="241.1" font-family="Liberation Sans" font-size="10" text-anchor="middle" fill="#222" textLength="15.90" lengthAdjust="spacingAndGlyphs" stroke="#222" stroke-width="0.22">0.7</text>
<line x1="198.6" y1="228.6" x2="198.6" y2="231.6" stroke="#6e6e6e" stroke-width="0.9"/>
<text x="198.6" y="241.1" font-family="Liberation Sans" font-size="10" text-anchor="middle" fill="#222" textLength="15.90" lengthAdjust="spacingAndGlyphs" stroke="#222" stroke-width="0.22">0.8</text>
<line x1="224.3" y1="228.6" x2="224.3" y2="231.6" stroke="#6e6e6e" stroke-width="0.9"/>
<text x="224.3" y="241.1" font-family="Liberation Sans" font-size="10" text-anchor="middle" fill="#222" textLength="15.90" lengthAdjust="spacingAndGlyphs" stroke="#222" stroke-width="0.22">0.9</text>
<line x1="250.0" y1="228.6" x2="250.0" y2="231.6" stroke="#6e6e6e" stroke-width="0.9"/>
<text x="250.0" y="241.1" font-family="Liberation Sans" font-size="10" text-anchor="middle" fill="#222" textLength="15.90" lengthAdjust="spacingAndGlyphs" stroke="#222" stroke-width="0.22">1.0</text>
<line x1="41.4" y1="228.6" x2="44.4" y2="228.6" stroke="#6e6e6e" stroke-width="0.9"/>
<text x="40.1" y="233.4" font-family="Liberation Sans" font-size="10" text-anchor="end" fill="#222" textLength="15.90" lengthAdjust="spacingAndGlyphs" stroke="#222" stroke-width="0.22">0.2</text>
<line x1="41.4" y1="202.8" x2="44.4" y2="202.8" stroke="#6e6e6e" stroke-width="0.9"/>
<text x="40.1" y="207.6" font-family="Liberation Sans" font-size="10" text-anchor="end" fill="#222" textLength="15.90" lengthAdjust="spacingAndGlyphs" stroke="#222" stroke-width="0.22">0.3</text>
<line x1="41.4" y1="176.9" x2="44.4" y2="176.9" stroke="#6e6e6e" stroke-width="0.9"/>
<text x="40.1" y="181.7" font-family="Liberation Sans" font-size="10" text-anchor="end" fill="#222" textLength="15.90" lengthAdjust="spacingAndGlyphs" stroke="#222" stroke-width="0.22">0.4</text>
<line x1="41.4" y1="151.1" x2="44.4" y2="151.1" stroke="#6e6e6e" stroke-width="0.9"/>
<text x="40.1" y="155.9" font-family="Liberation Sans" font-size="10" text-anchor="end" fill="#222" textLength="15.90" lengthAdjust="spacingAndGlyphs" stroke="#222" stroke-width="0.22">0.5</text>
<line x1="41.4" y1="125.2" x2="44.4" y2="125.2" stroke="#6e6e6e" stroke-width="0.9"/>
<text x="40.1" y="130.0" font-family="Liberation Sans" font-size="10" text-anchor="end" fill="#222" textLength="15.90" lengthAdjust="spacingAndGlyphs" stroke="#222" stroke-width="0.22">0.6</text>
<line x1="41.4" y1="99.4" x2="44.4" y2="99.4" stroke="#6e6e6e" stroke-width="0.9"/>
<text x="40.1" y="104.2" font-family="Liberation Sans" font-size="10" text-anchor="end" fill="#222" textLength="15.90" lengthAdjust="spacingAndGlyphs" stroke="#222" stroke-width="0.22">0.7</text>
<line x1="41.4" y1="73.5" x2="44.4" y2="73.5" stroke="#6e6e6e" stroke-width="0.9"/>
<text x="40.1" y="78.3" font-family="Liberation Sans" font-size="10" text-anchor="end" fill="#222" textLength="15.90" lengthAdjust="spacingAndGlyphs" stroke="#222" stroke-width="0.22">0.8</text>
<line x1="41.4" y1="47.7" x2="44.4" y2="47.7" stroke="#6e6e6e" stroke-width="0.9"/>
<text x="40.1" y="52.5" font-family="Liberation Sans" font-size="10" text-anchor="end" fill="#222" textLength="15.90" lengthAdjust="spacingAndGlyphs" stroke="#222" stroke-width="0.22">0.9</text>
<line x1="41.4" y1="21.8" x2="44.4" y2="21.8" stroke="#6e6e6e" stroke-width="0.9"/>
<text x="40.1" y="26.6" font-family="Liberation Sans" font-size="10" text-anchor="end" fill="#222" textLength="15.90" lengthAdjust="spacingAndGlyphs" stroke="#222" stroke-width="0.22">1.0</text>
<text x="148.5" y="18.5" font-family="Liberation Sans" font-size="10" text-anchor="middle" fill="#222" textLength="84.45" lengthAdjust="spacingAndGlyphs" stroke="#222" stroke-width="0.22">LAI = 1, Random</text>
<text x="148.5" y="253.0" font-family="Liberation Sans" font-size="10" text-anchor="middle" fill="#222" textLength="88.38" lengthAdjust="spacingAndGlyphs" stroke="#222" stroke-width="0.22">LiDAR derived LPI</text>
<g transform="translate(19.7,159.5) rotate(-90)">
<text x="0.3" y="0.0" font-family="Liberation Sans" font-size="10" fill="#222" textLength="50.36" lengthAdjust="spacingAndGlyphs" stroke="#222" stroke-width="0.22">Reference</text>
<text x="54.7" y="-0.3" font-family="Liberation Serif" font-weight="bold" font-size="10" fill="#222" stroke="#222" stroke-width="0.45" textLength="5.6" lengthAdjust="spacingAndGlyphs">P</text>
<text x="60.9" y="1.9" font-family="Liberation Serif" font-weight="bold" font-size="7.4" fill="#222" stroke="#222" stroke-width="0.35" textLength="11.1" lengthAdjust="spacingAndGlyphs">gap</text>
</g>
<text x="135.1" y="273.3" font-family="Liberation Serif" font-size="12.8" text-anchor="middle" font-weight="bold" fill="#222">(a)</text>
<rect x="95.7" y="191.7" width="154.4" height="33.5" rx="2" ry="2" fill="#fff" fill-opacity="0.85" stroke="#d0d0d0" stroke-width="0.8"/>
<circle cx="104.8" cy="198.2" r="2.00" fill="#06a074"/>
<text x="117.0" y="200.0" font-family="Liberation Sans" font-size="7.2" fill="#222" textLength="10.48" lengthAdjust="spacingAndGlyphs" stroke="#222" stroke-width="0.1">LPI</text>
<text x="127.7" y="201.4" font-family="Liberation Sans" font-size="4.8" fill="#222" textLength="5.61" lengthAdjust="spacingAndGlyphs" stroke="#222" stroke-width="0.1">all</text>
<path d="M102.6 206.8H107.0L104.8 210.9Z" fill="#ff4a00"/>
<text x="117.0" y="210.4" font-family="Liberation Sans" font-size="7.2" fill="#222" textLength="10.48" lengthAdjust="spacingAndGlyphs" stroke="#222" stroke-width="0.1">LPI</text>
<text x="127.7" y="211.8" font-family="Liberation Sans" font-size="4.8" fill="#222" textLength="22.18" lengthAdjust="spacingAndGlyphs" stroke="#222" stroke-width="0.1">weighted</text>
<path d="M102.6 220.7H107.0L104.8 216.6Z" fill="#7570b3"/>
<text x="117.0" y="220.7" font-family="Liberation Sans" font-size="7.2" fill="#222" textLength="10.48" lengthAdjust="spacingAndGlyphs" stroke="#222" stroke-width="0.1">LPI</text>
<text x="127.7" y="222.1" font-family="Liberation Sans" font-size="4.8" fill="#222" textLength="9.38" lengthAdjust="spacingAndGlyphs" stroke="#222" stroke-width="0.1">first</text>
<rect x="154.6" y="196.3" width="3.8" height="3.8" fill="#ff1a8c"/>
<text x="168.7" y="200.0" font-family="Liberation Sans" font-size="7.2" fill="#222" textLength="10.48" lengthAdjust="spacingAndGlyphs" stroke="#222" stroke-width="0.1">LPI</text>
<text x="179.4" y="201.4" font-family="Liberation Sans" font-size="4.8" fill="#222" textLength="8.66" lengthAdjust="spacingAndGlyphs" stroke="#222" stroke-width="0.1">last</text>
<circle cx="156.5" cy="208.6" r="1.75" fill="#28a028"/>
<text x="168.7" y="210.4" font-family="Liberation Sans" font-size="7.2" fill="#222" textLength="10.48" lengthAdjust="spacingAndGlyphs" stroke="#222" stroke-width="0.1">LPI</text>
<text x="179.4" y="211.8" font-family="Liberation Sans" font-size="4.8" fill="#222" textLength="10.91" lengthAdjust="spacingAndGlyphs" stroke="#222" stroke-width="0.1">both</text>
<circle cx="156.5" cy="218.9" r="1.75" fill="#ffa500"/>
<text x="168.7" y="220.7" font-family="Liberation Sans" font-size="7.2" fill="#222" textLength="10.48" lengthAdjust="spacingAndGlyphs" stroke="#222" stroke-width="0.1">LPI</text>
<text x="179.4" y="222.1" font-family="Liberation Sans" font-size="4.8" fill="#222" textLength="19.74" lengthAdjust="spacingAndGlyphs" stroke="#222" stroke-width="0.1">r = 2.10</text>
<circle cx="205.5" cy="198.2" r="2.00" fill="#a6761d"/>
<text x="217.7" y="200.0" font-family="Liberation Sans" font-size="7.2" fill="#222" textLength="10.48" lengthAdjust="spacingAndGlyphs" stroke="#222" stroke-width="0.1">LPI</text>
<text x="228.4" y="201.4" font-family="Liberation Sans" font-size="4.8" fill="#222" textLength="18.14" lengthAdjust="spacingAndGlyphs" stroke="#222" stroke-width="0.1">nearest</text>
<path d="M205.5 205.9L207.2 208.6L205.5 211.2L203.8 208.6Z" fill="#ff0000"/>
<text x="217.7" y="210.4" font-family="Liberation Sans" font-size="7.2" fill="#222" textLength="10.48" lengthAdjust="spacingAndGlyphs" stroke="#222" stroke-width="0.1">LPI</text>
<text x="228.4" y="211.8" font-family="Liberation Sans" font-size="4.8" fill="#222" textLength="12.79" lengthAdjust="spacingAndGlyphs" stroke="#222" stroke-width="0.1">fitted</text>
<polygon points="205.5,216.8 207.4,218.3 206.7,220.6 204.3,220.6 203.6,218.3" fill="#0000ff"/>
<text x="218.1" y="220.7" font-family="Liberation Sans" font-size="7.2" fill="#222" textLength="2.53" lengthAdjust="spacingAndGlyphs" stroke="#222" stroke-width="0.1">f</text>
<text x="220.8" y="222.1" font-family="Liberation Sans" font-size="4.8" fill="#222" textLength="8.12" lengthAdjust="spacingAndGlyphs" stroke="#222" stroke-width="0.1">vcc</text>
<clipPath id="clipb"><rect x="315.8" y="21.8" width="208.2" height="206.8"/></clipPath>
<g clip-path="url(#clipb)">
<circle cx="347.1" cy="119.2" r="2.00" fill="#06a074"/>
<circle cx="353.9" cy="114.7" r="2.00" fill="#06a074"/>
<circle cx="356.9" cy="110.3" r="2.00" fill="#06a074"/>
<circle cx="355.4" cy="113.2" r="2.00" fill="#06a074"/>
<circle cx="359.8" cy="108.0" r="2.00" fill="#06a074"/>
<circle cx="364.3" cy="104.3" r="2.00" fill="#06a074"/>
<circle cx="362.8" cy="100.5" r="2.00" fill="#06a074"/>
<circle cx="367.3" cy="99.8" r="2.00" fill="#06a074"/>
<circle cx="364.3" cy="95.3" r="2.00" fill="#06a074"/>
<circle cx="368.8" cy="93.1" r="2.00" fill="#06a074"/>
<circle cx="372.5" cy="92.3" r="2.00" fill="#06a074"/>
<circle cx="374.0" cy="87.8" r="2.00" fill="#06a074"/>
<circle cx="376.3" cy="90.8" r="2.00" fill="#06a074"/>
<circle cx="380.0" cy="87.1" r="2.00" fill="#06a074"/>
<circle cx="383.8" cy="84.8" r="2.00" fill="#06a074"/>
<circle cx="383.0" cy="78.9" r="2.00" fill="#06a074"/>
<circle cx="388.2" cy="78.1" r="2.00" fill="#06a074"/>
<circle cx="385.3" cy="76.6" r="2.00" fill="#06a074"/>
<circle cx="394.2" cy="70.6" r="2.00" fill="#06a074"/>
<circle cx="363.6" cy="103.7" r="2.00" fill="#06a074"/>
<circle cx="359.9" cy="108.4" r="2.00" fill="#06a074"/>
<circle cx="355.2" cy="112.1" r="2.00" fill="#06a074"/>
<circle cx="354.3" cy="115.9" r="2.00" fill="#06a074"/>
<circle cx="348.6" cy="119.6" r="2.00" fill="#06a074"/>
<circle cx="349.6" cy="124.3" r="2.00" fill="#06a074"/>
<circle cx="344.9" cy="128.0" r="2.00" fill="#06a074"/>
<circle cx="339.3" cy="131.8" r="2.00" fill="#06a074"/>
<circle cx="343.0" cy="134.6" r="2.00" fill="#06a074"/>
<circle cx="342.1" cy="138.3" r="2.00" fill="#06a074"/>
<circle cx="335.6" cy="140.2" r="2.00" fill="#06a074"/>
<circle cx="337.4" cy="143.9" r="2.00" fill="#06a074"/>
<circle cx="334.6" cy="146.7" r="2.00" fill="#06a074"/>
<circle cx="332.8" cy="151.4" r="2.00" fill="#06a074"/>
<circle cx="333.7" cy="155.1" r="2.00" fill="#06a074"/>
<circle cx="327.1" cy="165.4" r="2.00" fill="#06a074"/>
<circle cx="323.4" cy="174.8" r="2.00" fill="#06a074"/>
<circle cx="325.3" cy="176.6" r="2.00" fill="#06a074"/>
<circle cx="403.2" cy="64.4" r="2.00" fill="#06a074"/>
<circle cx="421.6" cy="58.4" r="2.00" fill="#06a074"/>
<circle cx="395.7" cy="70.4" r="2.00" fill="#06a074"/>
<circle cx="327.3" cy="166.3" r="2.00" fill="#06a074"/>
<circle cx="324.0" cy="175.3" r="2.00" fill="#06a074"/>
<circle cx="326.2" cy="176.8" r="2.00" fill="#06a074"/>
<circle cx="339.7" cy="136.6" r="2.00" fill="#06a074"/>
<circle cx="338.0" cy="135.3" r="2.00" fill="#06a074"/>
<circle cx="374.5" cy="89.0" r="2.00" fill="#06a074"/>
<circle cx="362.3" cy="105.9" r="2.00" fill="#06a074"/>
<circle cx="357.5" cy="114.2" r="2.00" fill="#06a074"/>
<circle cx="380.8" cy="85.0" r="2.00" fill="#06a074"/>
<circle cx="365.8" cy="96.6" r="2.00" fill="#06a074"/>
<circle cx="361.3" cy="104.6" r="2.00" fill="#06a074"/>
<circle cx="374.6" cy="90.1" r="2.00" fill="#06a074"/>
<circle cx="355.7" cy="112.6" r="2.00" fill="#06a074"/>
<circle cx="359.5" cy="110.4" r="2.00" fill="#06a074"/>
<circle cx="380.9" cy="84.0" r="2.00" fill="#06a074"/>
<circle cx="383.0" cy="83.4" r="2.00" fill="#06a074"/>
<circle cx="352.4" cy="112.6" r="2.00" fill="#06a074"/>
<circle cx="331.8" cy="151.8" r="2.00" fill="#06a074"/>
<circle cx="381.9" cy="79.9" r="2.00" fill="#06a074"/>
<circle cx="360.5" cy="104.2" r="2.00" fill="#06a074"/>
<circle cx="369.8" cy="95.4" r="2.00" fill="#06a074"/>
<circle cx="351.9" cy="115.9" r="2.00" fill="#06a074"/>
<circle cx="344.2" cy="127.2" r="2.00" fill="#06a074"/>
<path d="M383.9 147.7H388.1L386.0 151.8Z" fill="#ff4a00"/>
<path d="M382.1 153.3H386.3L384.2 157.4Z" fill="#ff4a00"/>
<path d="M389.5 140.3H393.8L391.6 144.4Z" fill="#ff4a00"/>
<path d="M387.7 152.4H391.9L389.8 156.5Z" fill="#ff4a00"/>
<path d="M398.9 129.0H403.1L401.0 133.1Z" fill="#ff4a00"/>
<path d="M404.5 122.5H408.8L406.6 126.6Z" fill="#ff4a00"/>
<path d="M410.1 121.6H414.3L412.2 125.7Z" fill="#ff4a00"/>
<path d="M395.1 144.0H399.3L397.2 148.1Z" fill="#ff4a00"/>
<path d="M391.4 147.7H395.6L393.5 151.8Z" fill="#ff4a00"/>
<path d="M372.7 163.6H376.9L374.8 167.7Z" fill="#ff4a00"/>
<path d="M365.2 173.9H369.4L367.3 178.0Z" fill="#ff4a00"/>
<path d="M353.1 187.0H357.3L355.2 191.1Z" fill="#ff4a00"/>
<path d="M465.4 62.6H469.6L467.5 66.7Z" fill="#ff4a00"/>
<path d="M467.6 68.6H471.8L469.7 72.7Z" fill="#ff4a00"/>
<path d="M451.9 74.5H456.1L454.0 78.6Z" fill="#ff4a00"/>
<path d="M458.7 76.8H462.9L460.8 80.9Z" fill="#ff4a00"/>
<path d="M462.4 76.0H466.6L464.5 80.1Z" fill="#ff4a00"/>
<path d="M449.0 82.0H453.2L451.1 86.1Z" fill="#ff4a00"/>
<path d="M444.5 86.5H448.8L446.6 90.6Z" fill="#ff4a00"/>
<path d="M445.2 89.5H449.4L447.3 93.6Z" fill="#ff4a00"/>
<path d="M440.7 91.0H444.9L442.8 95.1Z" fill="#ff4a00"/>
<path d="M437.7 93.2H441.9L439.8 97.3Z" fill="#ff4a00"/>
<path d="M436.2 97.0H440.4L438.3 101.1Z" fill="#ff4a00"/>
<path d="M427.2 98.5H431.5L429.4 102.6Z" fill="#ff4a00"/>
<path d="M424.2 102.9H428.5L426.4 107.0Z" fill="#ff4a00"/>
<path d="M428.0 105.9H432.2L430.1 110.0Z" fill="#ff4a00"/>
<path d="M433.2 101.4H437.5L435.4 105.5Z" fill="#ff4a00"/>
<path d="M422.8 105.9H427.0L424.9 110.0Z" fill="#ff4a00"/>
<path d="M481.0 56.1H485.2L483.1 60.2Z" fill="#ff4a00"/>
<path d="M465.2 62.4H469.5L467.4 66.5Z" fill="#ff4a00"/>
<path d="M467.2 69.2H471.5L469.4 73.3Z" fill="#ff4a00"/>
<path d="M372.2 164.5H376.5L374.4 168.6Z" fill="#ff4a00"/>
<path d="M364.5 175.0H368.8L366.6 179.1Z" fill="#ff4a00"/>
<path d="M353.2 187.4H357.5L355.4 191.5Z" fill="#ff4a00"/>
<path d="M419.7 121.7H424.0L421.9 125.8Z" fill="#ff4a00"/>
<path d="M465.3 68.7H469.6L467.4 72.8Z" fill="#ff4a00"/>
<path d="M408.1 123.7H412.4L410.2 127.8Z" fill="#ff4a00"/>
<path d="M417.6 116.7H421.9L419.7 120.8Z" fill="#ff4a00"/>
<path d="M410.0 122.3H414.3L412.2 126.4Z" fill="#ff4a00"/>
<path d="M428.0 103.8H432.3L430.1 107.9Z" fill="#ff4a00"/>
<path d="M461.0 73.3H465.3L463.1 77.3Z" fill="#ff4a00"/>
<path d="M454.1 76.6H458.4L456.2 80.7Z" fill="#ff4a00"/>
<path d="M412.7 124.1H417.0L414.9 128.1Z" fill="#ff4a00"/>
<path d="M401.9 132.3H406.2L404.0 136.4Z" fill="#ff4a00"/>
<path d="M456.1 79.3H460.4L458.2 83.4Z" fill="#ff4a00"/>
<path d="M421.4 112.5H425.7L423.6 116.6Z" fill="#ff4a00"/>
<path d="M437.0 94.8H441.3L439.2 98.9Z" fill="#ff4a00"/>
<path d="M383.5 147.6H387.8L385.7 151.7Z" fill="#ff4a00"/>
<path d="M453.6 80.0H457.9L455.8 84.1Z" fill="#ff4a00"/>
<path d="M405.1 127.5H409.4L407.2 131.6Z" fill="#ff4a00"/>
<path d="M422.2 113.2H426.5L424.4 117.3Z" fill="#ff4a00"/>
<path d="M396.1 138.5H400.4L398.2 142.6Z" fill="#ff4a00"/>
<path d="M412.9 116.7H417.2L415.0 120.8Z" fill="#ff4a00"/>
<path d="M450.8 83.9H455.1L453.0 88.0Z" fill="#ff4a00"/>
<path d="M448.2 81.4H452.5L450.4 85.4Z" fill="#ff4a00"/>
<path d="M418.9 113.4H423.2L421.0 117.5Z" fill="#ff4a00"/>
<path d="M445.0 88.5H449.3L447.1 92.5Z" fill="#ff4a00"/>
<path d="M414.8 112.1H419.1L417.0 116.2Z" fill="#ff4a00"/>
<path d="M411.5 123.4H415.8L413.6 127.5Z" fill="#ff4a00"/>
<path d="M426.5 108.6H430.8L428.7 112.7Z" fill="#ff4a00"/>
<path d="M396.1 137.9H400.4L398.2 142.0Z" fill="#ff4a00"/>
<path d="M405.6 127.4H409.9L407.7 131.5Z" fill="#ff4a00"/>
<path d="M439.5 93.7H443.8L441.6 97.7Z" fill="#ff4a00"/>
<path d="M443.9 87.0H448.2L446.1 91.1Z" fill="#ff4a00"/>
<path d="M383.4 150.3H387.7L385.5 154.4Z" fill="#ff4a00"/>
<path d="M441.4 91.0H445.7L443.6 95.1Z" fill="#ff4a00"/>
<path d="M450.0 84.9H454.3L452.1 89.0Z" fill="#ff4a00"/>
<path d="M415.3 114.8H419.6L417.5 118.9Z" fill="#ff4a00"/>
<path d="M384.8 150.7H389.1L386.9 154.8Z" fill="#ff4a00"/>
<path d="M438.4 96.7H442.7L440.5 100.7Z" fill="#ff4a00"/>
<path d="M400.0 134.1H404.3L402.2 138.1Z" fill="#ff4a00"/>
<path d="M433.9 99.0H438.2L436.0 103.1Z" fill="#ff4a00"/>
<path d="M412.6 124.0H416.9L414.7 128.1Z" fill="#ff4a00"/>
<path d="M431.1 97.3H435.4L433.3 101.4Z" fill="#ff4a00"/>
<path d="M402.2 134.1H406.5L404.3 138.2Z" fill="#ff4a00"/>
<path d="M420.7 114.8H425.0L422.8 118.8Z" fill="#ff4a00"/>
<path d="M424.9 110.7H429.2L427.1 114.7Z" fill="#ff4a00"/>
<path d="M434.3 101.6H438.6L436.5 105.7Z" fill="#ff4a00"/>
<path d="M395.3 136.9H399.6L397.5 140.9Z" fill="#ff4a00"/>
<path d="M385.6 106.7H389.8L387.7 102.6Z" fill="#7570b3"/>
<path d="M392.1 103.9H396.3L394.2 99.8Z" fill="#7570b3"/>
<path d="M391.2 111.3H395.4L393.3 107.2Z" fill="#7570b3"/>
<path d="M395.8 111.3H400.0L397.9 107.2Z" fill="#7570b3"/>
<path d="M384.6 116.9H388.8L386.7 112.8Z" fill="#7570b3"/>
<path d="M394.0 121.6H398.2L396.1 117.5Z" fill="#7570b3"/>
<path d="M366.9 133.8H371.1L369.0 129.7Z" fill="#7570b3"/>
<path d="M370.6 132.8H374.8L372.7 128.7Z" fill="#7570b3"/>
<path d="M373.4 136.6H377.6L375.5 132.5Z" fill="#7570b3"/>
<path d="M378.1 126.3H382.3L380.2 122.2Z" fill="#7570b3"/>
<path d="M379.9 131.9H384.1L382.0 127.8Z" fill="#7570b3"/>
<path d="M368.7 140.3H372.9L370.8 136.2Z" fill="#7570b3"/>
<path d="M354.7 145.0H358.9L356.8 140.9Z" fill="#7570b3"/>
<path d="M356.6 149.7H360.8L358.7 145.6Z" fill="#7570b3"/>
<path d="M344.4 151.5H348.6L346.5 147.4Z" fill="#7570b3"/>
<path d="M345.4 157.1H349.6L347.5 153.0Z" fill="#7570b3"/>
<path d="M339.8 158.1H344.0L341.9 154.0Z" fill="#7570b3"/>
<path d="M399.6 93.6H403.8L401.7 89.5Z" fill="#7570b3"/>
<path d="M404.2 96.4H408.5L406.4 92.3Z" fill="#7570b3"/>
<path d="M409.9 97.3H414.1L412.0 93.2Z" fill="#7570b3"/>
<path d="M420.1 89.8H424.3L422.2 85.7Z" fill="#7570b3"/>
<path d="M427.6 90.8H431.8L429.7 86.7Z" fill="#7570b3"/>
<path d="M423.9 78.6H428.1L426.0 74.5Z" fill="#7570b3"/>
<path d="M385.4 107.3H389.6L387.5 103.2Z" fill="#7570b3"/>
<path d="M391.4 103.1H395.6L393.5 99.0Z" fill="#7570b3"/>
<path d="M383.9 116.5H388.1L386.0 112.4Z" fill="#7570b3"/>
<path d="M390.6 111.3H394.8L392.7 107.2Z" fill="#7570b3"/>
<path d="M315.7 191.1H319.9L317.8 187.0Z" fill="#7570b3"/>
<path d="M326.0 178.4H330.2L328.1 174.3Z" fill="#7570b3"/>
<path d="M335.2 167.2H339.5L337.4 163.1Z" fill="#7570b3"/>
<path d="M339.1 156.9H343.3L341.2 152.8Z" fill="#7570b3"/>
<path d="M344.7 151.3H348.9L346.8 147.2Z" fill="#7570b3"/>
<path d="M355.0 144.8H359.2L357.1 140.7Z" fill="#7570b3"/>
<path d="M357.8 155.1H362.0L359.9 151.0Z" fill="#7570b3"/>
<path d="M362.4 126.1H366.6L364.5 122.0Z" fill="#7570b3"/>
<path d="M370.9 134.5H375.1L373.0 130.4Z" fill="#7570b3"/>
<path d="M378.2 126.1H382.5L380.4 122.0Z" fill="#7570b3"/>
<path d="M380.2 131.7H384.4L382.3 127.6Z" fill="#7570b3"/>
<path d="M386.7 118.6H390.9L388.8 114.5Z" fill="#7570b3"/>
<path d="M393.2 120.5H397.5L395.4 116.4Z" fill="#7570b3"/>
<path d="M391.4 103.7H395.6L393.5 99.6Z" fill="#7570b3"/>
<path d="M384.9 107.4H389.1L387.0 103.3Z" fill="#7570b3"/>
<path d="M372.7 146.7H376.9L374.8 142.6Z" fill="#7570b3"/>
<path d="M443.0 66.5H447.2L445.1 62.4Z" fill="#7570b3"/>
<path d="M449.7 72.9H453.9L451.8 68.8Z" fill="#7570b3"/>
<path d="M423.5 79.3H427.8L425.6 75.2Z" fill="#7570b3"/>
<path d="M443.7 80.4H447.9L445.8 76.3Z" fill="#7570b3"/>
<path d="M448.2 80.4H452.4L450.3 76.3Z" fill="#7570b3"/>
<path d="M442.2 84.9H446.4L444.3 80.8Z" fill="#7570b3"/>
<path d="M411.6 89.3H415.8L413.7 85.2Z" fill="#7570b3"/>
<path d="M421.2 90.8H425.5L423.4 86.7Z" fill="#7570b3"/>
<path d="M431.0 89.3H435.2L433.1 85.2Z" fill="#7570b3"/>
<path d="M398.9 93.1H403.1L401.0 89.0Z" fill="#7570b3"/>
<path d="M404.1 96.1H408.3L406.2 92.0Z" fill="#7570b3"/>
<path d="M409.2 97.6H413.5L411.4 93.5Z" fill="#7570b3"/>
<path d="M427.2 93.8H431.5L429.4 89.7Z" fill="#7570b3"/>
<path d="M395.9 108.0H400.1L398.0 103.9Z" fill="#7570b3"/>
<path d="M335.2 168.1H339.5L337.4 164.0Z" fill="#7570b3"/>
<path d="M326.4 178.6H330.6L328.5 174.5Z" fill="#7570b3"/>
<path d="M316.2 191.0H320.5L318.4 186.9Z" fill="#7570b3"/>
<rect x="519.2" y="56.4" width="3.8" height="3.8" fill="#ff1a8c"/>
<rect x="515.2" y="62.3" width="3.8" height="3.8" fill="#ff1a8c"/>
<rect x="519.2" y="69.1" width="3.8" height="3.8" fill="#ff1a8c"/>
<rect x="519.2" y="74.7" width="3.8" height="3.8" fill="#ff1a8c"/>
<rect x="499.5" y="76.3" width="3.8" height="3.8" fill="#ff1a8c"/>
<rect x="505.4" y="81.0" width="3.8" height="3.8" fill="#ff1a8c"/>
<rect x="517.2" y="81.9" width="3.8" height="3.8" fill="#ff1a8c"/>
<rect x="510.7" y="86.8" width="3.8" height="3.8" fill="#ff1a8c"/>
<rect x="515.9" y="89.1" width="3.8" height="3.8" fill="#ff1a8c"/>
<rect x="518.5" y="87.8" width="3.8" height="3.8" fill="#ff1a8c"/>
<rect x="514.6" y="90.4" width="3.8" height="3.8" fill="#ff1a8c"/>
<rect x="517.9" y="93.1" width="3.8" height="3.8" fill="#ff1a8c"/>
<rect x="508.1" y="93.7" width="3.8" height="3.8" fill="#ff1a8c"/>
<rect x="508.1" y="97.0" width="3.8" height="3.8" fill="#ff1a8c"/>
<rect x="515.9" y="98.9" width="3.8" height="3.8" fill="#ff1a8c"/>
<rect x="504.1" y="102.2" width="3.8" height="3.8" fill="#ff1a8c"/>
<rect x="501.5" y="102.9" width="3.8" height="3.8" fill="#ff1a8c"/>
<rect x="517.2" y="102.9" width="3.8" height="3.8" fill="#ff1a8c"/>
<rect x="519.8" y="103.5" width="3.8" height="3.8" fill="#ff1a8c"/>
<rect x="495.0" y="106.1" width="3.8" height="3.8" fill="#ff1a8c"/>
<rect x="513.3" y="106.8" width="3.8" height="3.8" fill="#ff1a8c"/>
<rect x="505.2" y="102.1" width="3.8" height="3.8" fill="#ff1a8c"/>
<rect x="515.3" y="103.0" width="3.8" height="3.8" fill="#ff1a8c"/>
<rect x="495.1" y="106.6" width="3.8" height="3.8" fill="#ff1a8c"/>
<rect x="501.8" y="108.2" width="3.8" height="3.8" fill="#ff1a8c"/>
<rect x="513.0" y="107.1" width="3.8" height="3.8" fill="#ff1a8c"/>
<rect x="490.6" y="112.0" width="3.8" height="3.8" fill="#ff1a8c"/>
<rect x="499.6" y="113.8" width="3.8" height="3.8" fill="#ff1a8c"/>
<rect x="505.2" y="114.9" width="3.8" height="3.8" fill="#ff1a8c"/>
<rect x="511.9" y="114.9" width="3.8" height="3.8" fill="#ff1a8c"/>
<rect x="517.5" y="112.7" width="3.8" height="3.8" fill="#ff1a8c"/>
<rect x="502.9" y="119.4" width="3.8" height="3.8" fill="#ff1a8c"/>
<rect x="493.9" y="123.2" width="3.8" height="3.8" fill="#ff1a8c"/>
<rect x="510.8" y="121.7" width="3.8" height="3.8" fill="#ff1a8c"/>
<rect x="516.4" y="120.5" width="3.8" height="3.8" fill="#ff1a8c"/>
<rect x="501.8" y="122.3" width="3.8" height="3.8" fill="#ff1a8c"/>
<rect x="497.3" y="127.7" width="3.8" height="3.8" fill="#ff1a8c"/>
<rect x="500.7" y="127.7" width="3.8" height="3.8" fill="#ff1a8c"/>
<rect x="508.5" y="127.3" width="3.8" height="3.8" fill="#ff1a8c"/>
<rect x="489.5" y="129.5" width="3.8" height="3.8" fill="#ff1a8c"/>
<rect x="508.5" y="130.6" width="3.8" height="3.8" fill="#ff1a8c"/>
<rect x="507.4" y="136.2" width="3.8" height="3.8" fill="#ff1a8c"/>
<rect x="511.9" y="137.4" width="3.8" height="3.8" fill="#ff1a8c"/>
<rect x="483.9" y="138.5" width="3.8" height="3.8" fill="#ff1a8c"/>
<rect x="485.0" y="141.8" width="3.8" height="3.8" fill="#ff1a8c"/>
<rect x="487.2" y="143.0" width="3.8" height="3.8" fill="#ff1a8c"/>
<rect x="490.6" y="143.0" width="3.8" height="3.8" fill="#ff1a8c"/>
<rect x="498.4" y="144.8" width="3.8" height="3.8" fill="#ff1a8c"/>
<rect x="495.1" y="147.4" width="3.8" height="3.8" fill="#ff1a8c"/>
<rect x="479.4" y="150.8" width="3.8" height="3.8" fill="#ff1a8c"/>
<rect x="497.3" y="152.4" width="3.8" height="3.8" fill="#ff1a8c"/>
<rect x="504.0" y="153.7" width="3.8" height="3.8" fill="#ff1a8c"/>
<rect x="487.2" y="163.8" width="3.8" height="3.8" fill="#ff1a8c"/>
<rect x="490.6" y="163.8" width="3.8" height="3.8" fill="#ff1a8c"/>
<rect x="486.1" y="172.1" width="3.8" height="3.8" fill="#ff1a8c"/>
<rect x="495.1" y="174.8" width="3.8" height="3.8" fill="#ff1a8c"/>
<rect x="486.1" y="186.7" width="3.8" height="3.8" fill="#ff1a8c"/>
<circle cx="403.8" cy="189.3" r="1.75" fill="#28a028"/>
<circle cx="412.2" cy="174.8" r="1.75" fill="#28a028"/>
<circle cx="412.2" cy="176.6" r="1.75" fill="#28a028"/>
<circle cx="414.1" cy="165.4" r="1.75" fill="#28a028"/>
<circle cx="473.5" cy="77.8" r="1.75" fill="#28a028"/>
<circle cx="468.2" cy="87.5" r="1.75" fill="#28a028"/>
<circle cx="472.7" cy="91.3" r="1.75" fill="#28a028"/>
<circle cx="466.7" cy="91.3" r="1.75" fill="#28a028"/>
<circle cx="462.3" cy="94.3" r="1.75" fill="#28a028"/>
<circle cx="460.8" cy="98.8" r="1.75" fill="#28a028"/>
<circle cx="456.3" cy="100.3" r="1.75" fill="#28a028"/>
<circle cx="465.3" cy="98.8" r="1.75" fill="#28a028"/>
<circle cx="451.8" cy="104.7" r="1.75" fill="#28a028"/>
<circle cx="459.3" cy="104.7" r="1.75" fill="#28a028"/>
<circle cx="451.8" cy="107.7" r="1.75" fill="#28a028"/>
<circle cx="474.2" cy="82.3" r="1.75" fill="#28a028"/>
<circle cx="494.3" cy="57.9" r="1.75" fill="#28a028"/>
<circle cx="481.8" cy="64.2" r="1.75" fill="#28a028"/>
<circle cx="486.4" cy="71.0" r="1.75" fill="#28a028"/>
<circle cx="474.6" cy="77.9" r="1.75" fill="#28a028"/>
<circle cx="475.9" cy="83.2" r="1.75" fill="#28a028"/>
<circle cx="470.7" cy="84.5" r="1.75" fill="#28a028"/>
<circle cx="476.6" cy="87.1" r="1.75" fill="#28a028"/>
<circle cx="468.1" cy="88.4" r="1.75" fill="#28a028"/>
<circle cx="473.3" cy="92.1" r="1.75" fill="#28a028"/>
<circle cx="468.1" cy="92.3" r="1.75" fill="#28a028"/>
<circle cx="461.5" cy="93.6" r="1.75" fill="#28a028"/>
<circle cx="464.8" cy="95.6" r="1.75" fill="#28a028"/>
<circle cx="465.5" cy="100.2" r="1.75" fill="#28a028"/>
<circle cx="456.3" cy="100.8" r="1.75" fill="#28a028"/>
<circle cx="459.6" cy="104.1" r="1.75" fill="#28a028"/>
<circle cx="462.2" cy="106.1" r="1.75" fill="#28a028"/>
<circle cx="455.5" cy="101.1" r="1.75" fill="#28a028"/>
<circle cx="464.4" cy="101.1" r="1.75" fill="#28a028"/>
<circle cx="451.0" cy="104.5" r="1.75" fill="#28a028"/>
<circle cx="460.0" cy="105.6" r="1.75" fill="#28a028"/>
<circle cx="453.2" cy="110.1" r="1.75" fill="#28a028"/>
<circle cx="446.5" cy="115.7" r="1.75" fill="#28a028"/>
<circle cx="453.2" cy="115.7" r="1.75" fill="#28a028"/>
<circle cx="460.0" cy="114.6" r="1.75" fill="#28a028"/>
<circle cx="449.9" cy="119.1" r="1.75" fill="#28a028"/>
<circle cx="451.0" cy="122.4" r="1.75" fill="#28a028"/>
<circle cx="443.1" cy="122.4" r="1.75" fill="#28a028"/>
<circle cx="434.2" cy="124.2" r="1.75" fill="#28a028"/>
<circle cx="439.8" cy="124.7" r="1.75" fill="#28a028"/>
<circle cx="437.5" cy="129.2" r="1.75" fill="#28a028"/>
<circle cx="442.0" cy="129.2" r="1.75" fill="#28a028"/>
<circle cx="429.7" cy="131.4" r="1.75" fill="#28a028"/>
<circle cx="440.9" cy="133.6" r="1.75" fill="#28a028"/>
<circle cx="440.9" cy="138.1" r="1.75" fill="#28a028"/>
<circle cx="428.6" cy="140.4" r="1.75" fill="#28a028"/>
<circle cx="421.8" cy="141.5" r="1.75" fill="#28a028"/>
<circle cx="431.9" cy="144.9" r="1.75" fill="#28a028"/>
<circle cx="427.4" cy="147.1" r="1.75" fill="#28a028"/>
<circle cx="420.7" cy="149.3" r="1.75" fill="#28a028"/>
<circle cx="420.7" cy="153.4" r="1.75" fill="#28a028"/>
<circle cx="424.1" cy="155.0" r="1.75" fill="#28a028"/>
<circle cx="415.1" cy="166.2" r="1.75" fill="#28a028"/>
<circle cx="418.5" cy="166.2" r="1.75" fill="#28a028"/>
<circle cx="411.7" cy="174.0" r="1.75" fill="#28a028"/>
<circle cx="412.9" cy="177.4" r="1.75" fill="#28a028"/>
<circle cx="370.0" cy="172.0" r="1.75" fill="#ffa500"/>
<circle cx="390.0" cy="150.0" r="1.75" fill="#ffa500"/>
<circle cx="412.0" cy="130.0" r="1.75" fill="#ffa500"/>
<circle cx="458.0" cy="84.0" r="1.75" fill="#ffa500"/>
<circle cx="470.0" cy="76.0" r="1.75" fill="#ffa500"/>
<circle cx="463.1" cy="81.4" r="1.75" fill="#ffa500"/>
<circle cx="445.5" cy="96.4" r="1.75" fill="#ffa500"/>
<circle cx="402.6" cy="143.0" r="1.75" fill="#ffa500"/>
<circle cx="446.2" cy="97.8" r="1.75" fill="#ffa500"/>
<circle cx="439.9" cy="100.6" r="1.75" fill="#ffa500"/>
<circle cx="454.4" cy="90.3" r="1.75" fill="#ffa500"/>
<circle cx="412.8" cy="129.3" r="1.75" fill="#ffa500"/>
<circle cx="466.3" cy="76.0" r="1.75" fill="#ffa500"/>
<circle cx="374.8" cy="165.4" r="2.00" fill="#a6761d"/>
<circle cx="369.2" cy="175.7" r="2.00" fill="#a6761d"/>
<circle cx="356.1" cy="189.3" r="2.00" fill="#a6761d"/>
<circle cx="393.5" cy="146.7" r="2.00" fill="#a6761d"/>
<circle cx="408.5" cy="129.9" r="2.00" fill="#a6761d"/>
<circle cx="488.4" cy="57.9" r="2.00" fill="#a6761d"/>
<circle cx="475.3" cy="64.2" r="2.00" fill="#a6761d"/>
<circle cx="472.7" cy="71.0" r="2.00" fill="#a6761d"/>
<circle cx="376.7" cy="166.3" r="2.00" fill="#a6761d"/>
<circle cx="368.8" cy="176.8" r="2.00" fill="#a6761d"/>
<circle cx="445.7" cy="96.9" r="2.00" fill="#a6761d"/>
<circle cx="446.5" cy="95.9" r="2.00" fill="#a6761d"/>
<circle cx="437.9" cy="103.0" r="2.00" fill="#a6761d"/>
<circle cx="466.0" cy="75.7" r="2.00" fill="#a6761d"/>
<circle cx="441.9" cy="101.5" r="2.00" fill="#a6761d"/>
<circle cx="422.2" cy="121.2" r="2.00" fill="#a6761d"/>
<path d="M359.9 186.7L361.6 189.3L359.9 192.0L358.1 189.3Z" fill="#ff0000"/>
<path d="M373.0 173.9L374.8 176.6L373.0 179.2L371.2 176.6Z" fill="#ff0000"/>
<path d="M376.7 173.0L378.4 175.7L376.7 178.3L374.9 175.7Z" fill="#ff0000"/>
<path d="M380.4 163.2L382.1 165.8L380.4 168.5L378.6 165.8Z" fill="#ff0000"/>
<path d="M385.1 163.2L386.9 165.8L385.1 168.5L383.4 165.8Z" fill="#ff0000"/>
<path d="M393.5 152.4L395.2 155.1L393.5 157.8L391.8 155.1Z" fill="#ff0000"/>
<path d="M397.2 149.7L398.9 152.3L397.2 155.0L395.4 152.3Z" fill="#ff0000"/>
<path d="M401.0 145.9L402.8 148.6L401.0 151.2L399.2 148.6Z" fill="#ff0000"/>
<path d="M404.7 142.2L406.4 144.9L404.7 147.6L402.9 144.9Z" fill="#ff0000"/>
<path d="M408.5 140.3L410.2 143.0L408.5 145.7L406.8 143.0Z" fill="#ff0000"/>
<path d="M412.2 136.7L413.9 139.3L412.2 142.0L410.4 139.3Z" fill="#ff0000"/>
<path d="M414.1 132.8L415.9 135.5L414.1 138.2L412.4 135.5Z" fill="#ff0000"/>
<path d="M466.7 79.6L468.4 82.3L466.7 85.0L464.9 82.3Z" fill="#ff0000"/>
<path d="M462.3 84.1L464.1 86.8L462.3 89.5L460.6 86.8Z" fill="#ff0000"/>
<path d="M459.3 87.1L461.1 89.8L459.3 92.5L457.6 89.8Z" fill="#ff0000"/>
<path d="M454.8 90.1L456.6 92.8L454.8 95.5L453.1 92.8Z" fill="#ff0000"/>
<path d="M451.8 93.1L453.6 95.8L451.8 98.5L450.1 95.8Z" fill="#ff0000"/>
<path d="M450.3 96.1L452.1 98.8L450.3 101.5L448.6 98.8Z" fill="#ff0000"/>
<path d="M445.8 99.0L447.6 101.7L445.8 104.4L444.1 101.7Z" fill="#ff0000"/>
<path d="M442.8 102.0L444.6 104.7L442.8 107.4L441.1 104.7Z" fill="#ff0000"/>
<path d="M441.3 105.0L443.1 107.7L441.3 110.4L439.6 107.7Z" fill="#ff0000"/>
<path d="M437.6 105.8L439.4 108.5L437.6 111.2L435.9 108.5Z" fill="#ff0000"/>
<path d="M491.0 55.2L492.8 57.9L491.0 60.5L489.2 57.9Z" fill="#ff0000"/>
<path d="M477.9 61.6L479.6 64.2L477.9 66.9L476.1 64.2Z" fill="#ff0000"/>
<path d="M475.9 68.3L477.6 71.0L475.9 73.7L474.1 71.0Z" fill="#ff0000"/>
<path d="M381.2 163.7L382.9 166.3L381.2 169.0L379.4 166.3Z" fill="#ff0000"/>
<path d="M385.7 163.7L387.4 166.3L385.7 169.0L383.9 166.3Z" fill="#ff0000"/>
<path d="M373.3 174.2L375.1 176.8L373.3 179.5L371.6 176.8Z" fill="#ff0000"/>
<path d="M361.0 186.5L362.8 189.2L361.0 191.8L359.2 189.2Z" fill="#ff0000"/>
<path d="M454.4 90.9L456.1 93.6L454.4 96.2L452.6 93.6Z" fill="#ff0000"/>
<path d="M421.7 127.4L423.4 130.1L421.7 132.7L419.9 130.1Z" fill="#ff0000"/>
<path d="M401.4 150.0L403.2 152.7L401.4 155.3L399.7 152.7Z" fill="#ff0000"/>
<path d="M405.7 145.2L407.4 147.9L405.7 150.5L403.9 147.9Z" fill="#ff0000"/>
<path d="M407.8 138.7L409.5 141.4L407.8 144.0L406.0 141.4Z" fill="#ff0000"/>
<path d="M417.8 129.0L419.6 131.7L417.8 134.3L416.1 131.7Z" fill="#ff0000"/>
<path d="M431.2 118.6L432.9 121.3L431.2 123.9L429.4 121.3Z" fill="#ff0000"/>
<path d="M469.0 77.0L470.7 79.6L469.0 82.3L467.2 79.6Z" fill="#ff0000"/>
<path d="M414.4 129.8L416.1 132.4L414.4 135.1L412.6 132.4Z" fill="#ff0000"/>
<path d="M466.8 79.7L468.6 82.4L466.8 85.0L465.1 82.4Z" fill="#ff0000"/>
<path d="M449.2 98.1L451.0 100.8L449.2 103.4L447.5 100.8Z" fill="#ff0000"/>
<path d="M462.0 82.4L463.8 85.0L462.0 87.7L460.3 85.0Z" fill="#ff0000"/>
<path d="M423.9 118.7L425.7 121.3L423.9 124.0L422.2 121.3Z" fill="#ff0000"/>
<path d="M391.2 152.0L392.9 154.7L391.2 157.3L389.4 154.7Z" fill="#ff0000"/>
<path d="M458.2 89.6L460.0 92.2L458.2 94.9L456.5 92.2Z" fill="#ff0000"/>
<path d="M411.9 132.7L413.7 135.4L411.9 138.0L410.2 135.4Z" fill="#ff0000"/>
<path d="M404.1 142.0L405.9 144.6L404.1 147.3L402.4 144.6Z" fill="#ff0000"/>
<path d="M458.8 88.0L460.5 90.7L458.8 93.3L457.0 90.7Z" fill="#ff0000"/>
<path d="M449.9 97.8L451.6 100.5L449.9 103.1L448.1 100.5Z" fill="#ff0000"/>
<path d="M409.7 136.0L411.4 138.6L409.7 141.3L407.9 138.6Z" fill="#ff0000"/>
<path d="M415.2 132.3L416.9 135.0L415.2 137.6L413.4 135.0Z" fill="#ff0000"/>
<path d="M469.0 75.2L470.8 77.9L469.0 80.5L467.3 77.9Z" fill="#ff0000"/>
<path d="M414.3 131.3L416.0 133.9L414.3 136.6L412.5 133.9Z" fill="#ff0000"/>
<path d="M449.3 94.6L451.1 97.3L449.3 99.9L447.6 97.3Z" fill="#ff0000"/>
<path d="M404.5 144.5L406.2 147.1L404.5 149.8L402.7 147.1Z" fill="#ff0000"/>
<path d="M459.8 86.5L461.5 89.1L459.8 91.8L458.0 89.1Z" fill="#ff0000"/>
<path d="M401.4 143.3L403.1 146.0L401.4 148.6L399.6 146.0Z" fill="#ff0000"/>
<path d="M434.7 110.8L436.5 113.5L434.7 116.1L433.0 113.5Z" fill="#ff0000"/>
<path d="M395.2 150.7L396.9 153.4L395.2 156.0L393.4 153.4Z" fill="#ff0000"/>
<path d="M438.7 109.2L440.5 111.8L438.7 114.5L437.0 111.8Z" fill="#ff0000"/>
<path d="M460.6 82.1L462.4 84.7L460.6 87.4L458.9 84.7Z" fill="#ff0000"/>
<path d="M398.3 145.8L400.1 148.4L398.3 151.1L396.6 148.4Z" fill="#ff0000"/>
<path d="M414.7 130.8L416.5 133.4L414.7 136.1L413.0 133.4Z" fill="#ff0000"/>
<path d="M458.5 93.5L460.3 96.2L458.5 98.8L456.8 96.2Z" fill="#ff0000"/>
<path d="M443.8 104.7L445.5 107.3L443.8 110.0L442.0 107.3Z" fill="#ff0000"/>
<path d="M418.2 127.9L420.0 130.6L418.2 133.2L416.5 130.6Z" fill="#ff0000"/>
<path d="M445.2 102.7L447.0 105.3L445.2 108.0L443.5 105.3Z" fill="#ff0000"/>
<path d="M432.4 118.6L434.1 121.3L432.4 123.9L430.6 121.3Z" fill="#ff0000"/>
<path d="M463.4 82.3L465.2 85.0L463.4 87.6L461.7 85.0Z" fill="#ff0000"/>
<path d="M416.3 129.3L418.0 131.9L416.3 134.6L414.5 131.9Z" fill="#ff0000"/>
<path d="M456.4 92.6L458.2 95.2L456.4 97.9L454.7 95.2Z" fill="#ff0000"/>
<path d="M445.6 101.9L447.3 104.5L445.6 107.2L443.8 104.5Z" fill="#ff0000"/>
<path d="M454.4 93.4L456.2 96.1L454.4 98.7L452.7 96.1Z" fill="#ff0000"/>
<path d="M423.2 122.0L424.9 124.7L423.2 127.3L421.4 124.7Z" fill="#ff0000"/>
<path d="M454.5 96.1L456.3 98.8L454.5 101.4L452.8 98.8Z" fill="#ff0000"/>
<path d="M452.1 98.1L453.9 100.7L452.1 103.4L450.4 100.7Z" fill="#ff0000"/>
<path d="M425.1 122.5L426.9 125.1L425.1 127.8L423.4 125.1Z" fill="#ff0000"/>
<path d="M395.5 152.5L397.2 155.1L395.5 157.8L393.7 155.1Z" fill="#ff0000"/>
<path d="M469.7 72.0L471.5 74.6L469.7 77.3L468.0 74.6Z" fill="#ff0000"/>
<path d="M452.1 95.6L453.9 98.2L452.1 100.9L450.4 98.2Z" fill="#ff0000"/>
<path d="M409.2 136.7L410.9 139.4L409.2 142.0L407.4 139.4Z" fill="#ff0000"/>
<path d="M453.3 93.9L455.1 96.6L453.3 99.2L451.6 96.6Z" fill="#ff0000"/>
<path d="M416.3 131.6L418.0 134.3L416.3 136.9L414.5 134.3Z" fill="#ff0000"/>
<path d="M430.9 114.7L432.6 117.3L430.9 120.0L429.1 117.3Z" fill="#ff0000"/>
<path d="M461.6 80.9L463.3 83.5L461.6 86.2L459.8 83.5Z" fill="#ff0000"/>
<path d="M429.9 117.3L431.7 119.9L429.9 122.6L428.2 119.9Z" fill="#ff0000"/>
<path d="M415.4 129.2L417.2 131.9L415.4 134.5L413.7 131.9Z" fill="#ff0000"/>
<path d="M417.4 128.3L419.1 130.9L417.4 133.6L415.6 130.9Z" fill="#ff0000"/>
<path d="M398.2 146.8L399.9 149.5L398.2 152.1L396.4 149.5Z" fill="#ff0000"/>
<path d="M410.2 135.4L412.0 138.0L410.2 140.7L408.5 138.0Z" fill="#ff0000"/>
<path d="M412.3 128.9L414.0 131.5L412.3 134.2L410.5 131.5Z" fill="#ff0000"/>
<path d="M408.2 141.0L409.9 143.6L408.2 146.3L406.4 143.6Z" fill="#ff0000"/>
<path d="M398.0 149.0L399.8 151.6L398.0 154.3L396.3 151.6Z" fill="#ff0000"/>
<path d="M432.2 116.6L434.0 119.3L432.2 121.9L430.5 119.3Z" fill="#ff0000"/>
<path d="M412.5 138.4L414.2 141.1L412.5 143.7L410.7 141.1Z" fill="#ff0000"/>
<path d="M453.5 92.8L455.3 95.5L453.5 98.1L451.8 95.5Z" fill="#ff0000"/>
<path d="M466.6 75.6L468.4 78.2L466.6 80.9L464.9 78.2Z" fill="#ff0000"/>
<path d="M414.0 130.3L415.8 133.0L414.0 135.6L412.3 133.0Z" fill="#ff0000"/>
<path d="M438.4 105.2L440.1 107.9L438.4 110.5L436.6 107.9Z" fill="#ff0000"/>
<path d="M433.8 111.4L435.5 114.1L433.8 116.7L432.0 114.1Z" fill="#ff0000"/>
<path d="M398.8 147.8L400.6 150.4L398.8 153.1L397.1 150.4Z" fill="#ff0000"/>
<path d="M400.6 141.3L402.3 144.0L400.6 146.6L398.8 144.0Z" fill="#ff0000"/>
<path d="M465.9 81.1L467.7 83.8L465.9 86.4L464.2 83.8Z" fill="#ff0000"/>
<path d="M429.9 113.0L431.7 115.6L429.9 118.3L428.2 115.6Z" fill="#ff0000"/>
<path d="M459.3 87.7L461.0 90.3L459.3 93.0L457.5 90.3Z" fill="#ff0000"/>
<polygon points="392.0,103.0 393.9,104.4 393.2,106.7 390.8,106.7 390.1,104.4" fill="#0000ff"/>
<polygon points="389.0,113.5 390.9,114.9 390.2,117.2 387.8,117.2 387.1,114.9" fill="#0000ff"/>
<polygon points="392.7,114.2 394.6,115.6 393.9,117.9 391.5,117.9 390.8,115.6" fill="#0000ff"/>
<polygon points="322.5,187.2 324.4,188.7 323.7,191.0 321.3,191.0 320.6,188.7" fill="#0000ff"/>
<polygon points="333.7,173.6 335.6,175.1 334.9,177.4 332.5,177.4 331.8,175.1" fill="#0000ff"/>
<polygon points="335.6,172.8 337.5,174.2 336.8,176.5 334.4,176.5 333.7,174.2" fill="#0000ff"/>
<polygon points="348.6,163.8 350.5,165.2 349.8,167.5 347.4,167.5 346.7,165.2" fill="#0000ff"/>
<polygon points="354.3,152.5 356.2,154.0 355.5,156.3 353.1,156.3 352.4,154.0" fill="#0000ff"/>
<polygon points="354.3,147.4 356.2,148.9 355.5,151.2 353.1,151.2 352.4,148.9" fill="#0000ff"/>
<polygon points="361.7,145.6 363.6,147.1 362.9,149.4 360.5,149.4 359.8,147.1" fill="#0000ff"/>
<polygon points="363.6,151.2 365.5,152.7 364.8,155.0 362.4,155.0 361.7,152.7" fill="#0000ff"/>
<polygon points="345.8,153.0 347.7,154.5 347.0,156.8 344.6,156.8 343.9,154.5" fill="#0000ff"/>
<polygon points="369.2,140.0 371.1,141.5 370.4,143.8 368.0,143.8 367.3,141.5" fill="#0000ff"/>
<polygon points="374.8,142.8 376.7,144.3 376.0,146.6 373.6,146.6 372.9,144.3" fill="#0000ff"/>
<polygon points="371.1,136.2 373.0,137.7 372.3,140.0 369.9,140.0 369.2,137.7" fill="#0000ff"/>
<polygon points="375.7,137.2 377.6,138.7 376.9,141.0 374.5,141.0 373.8,138.7" fill="#0000ff"/>
<polygon points="374.8,127.9 376.7,129.3 376.0,131.6 373.6,131.6 372.9,129.3" fill="#0000ff"/>
<polygon points="371.1,123.2 373.0,124.6 372.3,126.9 369.9,126.9 369.2,124.6" fill="#0000ff"/>
<polygon points="374.8,122.2 376.7,123.7 376.0,126.0 373.6,126.0 372.9,123.7" fill="#0000ff"/>
<polygon points="379.5,130.6 381.4,132.1 380.7,134.4 378.3,134.4 377.6,132.1" fill="#0000ff"/>
<polygon points="386.0,127.0 387.9,128.4 387.2,130.7 384.8,130.7 384.1,128.4" fill="#0000ff"/>
<polygon points="385.1,121.4 387.0,122.8 386.3,125.1 383.9,125.1 383.2,122.8" fill="#0000ff"/>
<polygon points="387.9,113.0 389.8,114.4 389.1,116.7 386.7,116.7 386.0,114.4" fill="#0000ff"/>
<polygon points="391.6,120.4 393.5,121.8 392.8,124.1 390.4,124.1 389.7,121.8" fill="#0000ff"/>
<polygon points="397.2,115.8 399.1,117.2 398.4,119.5 396.0,119.5 395.3,117.2" fill="#0000ff"/>
<polygon points="401.0,111.0 402.9,112.5 402.2,114.8 399.8,114.8 399.1,112.5" fill="#0000ff"/>
<polygon points="393.5,108.2 395.4,109.7 394.7,112.0 392.3,112.0 391.6,109.7" fill="#0000ff"/>
<polygon points="402.9,106.4 404.8,107.8 404.1,110.1 401.7,110.1 401.0,107.8" fill="#0000ff"/>
<polygon points="408.5,105.5 410.4,106.9 409.7,109.2 407.3,109.2 406.6,106.9" fill="#0000ff"/>
<polygon points="410.3,111.0 412.2,112.5 411.5,114.8 409.1,114.8 408.4,112.5" fill="#0000ff"/>
<polygon points="391.6,102.7 393.5,104.1 392.8,106.4 390.4,106.4 389.7,104.1" fill="#0000ff"/>
<polygon points="397.2,103.5 399.1,105.0 398.4,107.3 396.0,107.3 395.3,105.0" fill="#0000ff"/>
<polygon points="408.5,98.9 410.4,100.3 409.7,102.6 407.3,102.6 406.6,100.3" fill="#0000ff"/>
<polygon points="467.5,56.4 469.4,57.8 468.7,60.1 466.3,60.1 465.6,57.8" fill="#0000ff"/>
<polygon points="450.3,62.4 452.2,63.8 451.5,66.1 449.1,66.1 448.4,63.8" fill="#0000ff"/>
<polygon points="454.0,69.0 455.9,70.5 455.2,72.8 452.8,72.8 452.1,70.5" fill="#0000ff"/>
<polygon points="454.0,76.5 455.9,78.0 455.2,80.3 452.8,80.3 452.1,78.0" fill="#0000ff"/>
<polygon points="433.1,75.0 435.0,76.5 434.3,78.8 431.9,78.8 431.2,76.5" fill="#0000ff"/>
<polygon points="422.7,82.5 424.6,84.0 423.9,86.3 421.5,86.3 420.8,84.0" fill="#0000ff"/>
<polygon points="416.7,85.5 418.6,86.9 417.9,89.2 415.5,89.2 414.8,86.9" fill="#0000ff"/>
<polygon points="429.4,86.2 431.3,87.7 430.6,90.0 428.2,90.0 427.5,87.7" fill="#0000ff"/>
<polygon points="437.6,85.5 439.5,86.9 438.8,89.2 436.4,89.2 435.7,86.9" fill="#0000ff"/>
<polygon points="445.8,81.0 447.7,82.5 447.0,84.8 444.6,84.8 443.9,82.5" fill="#0000ff"/>
<polygon points="436.1,89.2 438.0,90.7 437.3,93.0 434.9,93.0 434.2,90.7" fill="#0000ff"/>
<polygon points="410.7,89.2 412.6,90.7 411.9,93.0 409.5,93.0 408.8,90.7" fill="#0000ff"/>
<polygon points="415.9,90.8 417.8,92.2 417.1,94.5 414.7,94.5 414.0,92.2" fill="#0000ff"/>
<polygon points="418.9,92.2 420.8,93.7 420.1,96.0 417.7,96.0 417.0,93.7" fill="#0000ff"/>
<polygon points="421.2,96.8 423.1,98.2 422.4,100.5 420.0,100.5 419.3,98.2" fill="#0000ff"/>
<polygon points="409.2,99.0 411.1,100.4 410.4,102.7 408.0,102.7 407.3,100.4" fill="#0000ff"/>
<polygon points="412.2,98.2 414.1,99.7 413.4,102.0 411.0,102.0 410.3,99.7" fill="#0000ff"/>
<polygon points="414.4,102.7 416.3,104.1 415.6,106.4 413.2,106.4 412.5,104.1" fill="#0000ff"/>
<polygon points="396.5,102.0 398.4,103.4 397.7,105.7 395.3,105.7 394.6,103.4" fill="#0000ff"/>
<polygon points="403.2,102.7 405.1,104.1 404.4,106.4 402.0,106.4 401.3,104.1" fill="#0000ff"/>
<polygon points="410.0,104.2 411.9,105.6 411.2,107.9 408.8,107.9 408.1,105.6" fill="#0000ff"/>
<polygon points="404.0,106.5 405.9,107.9 405.2,110.2 402.8,110.2 402.1,107.9" fill="#0000ff"/>
<polygon points="347.5,164.2 349.4,165.7 348.7,168.0 346.3,168.0 345.6,165.7" fill="#0000ff"/>
<polygon points="349.8,164.2 351.7,165.7 351.0,168.0 348.6,168.0 347.9,165.7" fill="#0000ff"/>
<polygon points="333.0,174.8 334.9,176.2 334.2,178.5 331.8,178.5 331.1,176.2" fill="#0000ff"/>
<polygon points="336.3,173.2 338.2,174.7 337.5,177.0 335.1,177.0 334.4,174.7" fill="#0000ff"/>
<polygon points="322.9,187.1 324.8,188.6 324.1,190.9 321.7,190.9 321.0,188.6" fill="#0000ff"/>
<polygon points="380.0,118.0 381.9,119.4 381.2,121.7 378.8,121.7 378.1,119.4" fill="#0000ff"/>
<polygon points="398.0,110.0 399.9,111.4 399.2,113.7 396.8,113.7 396.1,111.4" fill="#0000ff"/>
<polygon points="366.0,129.9 367.9,131.4 367.2,133.7 364.8,133.7 364.1,131.4" fill="#0000ff"/>
<polygon points="360.0,137.9 361.9,139.4 361.2,141.7 358.8,141.7 358.1,139.4" fill="#0000ff"/>
<line x1="315.8" y1="228.6" x2="522.2" y2="21.8" stroke="#111" stroke-width="1.15"/>
</g>
<rect x="315.8" y="21.8" width="208.2" height="206.8" fill="none" stroke="#6e6e6e" stroke-width="1.25"/>
<line x1="315.8" y1="228.6" x2="315.8" y2="231.6" stroke="#6e6e6e" stroke-width="0.9"/>
<text x="315.8" y="241.1" font-family="Liberation Sans" font-size="10" text-anchor="middle" fill="#222" textLength="15.90" lengthAdjust="spacingAndGlyphs" stroke="#222" stroke-width="0.22">0.2</text>
<line x1="341.6" y1="228.6" x2="341.6" y2="231.6" stroke="#6e6e6e" stroke-width="0.9"/>
<text x="341.6" y="241.1" font-family="Liberation Sans" font-size="10" text-anchor="middle" fill="#222" textLength="15.90" lengthAdjust="spacingAndGlyphs" stroke="#222" stroke-width="0.22">0.3</text>
<line x1="367.4" y1="228.6" x2="367.4" y2="231.6" stroke="#6e6e6e" stroke-width="0.9"/>
<text x="367.4" y="241.1" font-family="Liberation Sans" font-size="10" text-anchor="middle" fill="#222" textLength="15.90" lengthAdjust="spacingAndGlyphs" stroke="#222" stroke-width="0.22">0.4</text>
<line x1="393.2" y1="228.6" x2="393.2" y2="231.6" stroke="#6e6e6e" stroke-width="0.9"/>
<text x="393.2" y="241.1" font-family="Liberation Sans" font-size="10" text-anchor="middle" fill="#222" textLength="15.90" lengthAdjust="spacingAndGlyphs" stroke="#222" stroke-width="0.22">0.5</text>
<line x1="419.0" y1="228.6" x2="419.0" y2="231.6" stroke="#6e6e6e" stroke-width="0.9"/>
<text x="419.0" y="241.1" font-family="Liberation Sans" font-size="10" text-anchor="middle" fill="#222" textLength="15.90" lengthAdjust="spacingAndGlyphs" stroke="#222" stroke-width="0.22">0.6</text>
<line x1="444.8" y1="228.6" x2="444.8" y2="231.6" stroke="#6e6e6e" stroke-width="0.9"/>
<text x="444.8" y="241.1" font-family="Liberation Sans" font-size="10" text-anchor="middle" fill="#222" textLength="15.90" lengthAdjust="spacingAndGlyphs" stroke="#222" stroke-width="0.22">0.7</text>
<line x1="470.6" y1="228.6" x2="470.6" y2="231.6" stroke="#6e6e6e" stroke-width="0.9"/>
<text x="470.6" y="241.1" font-family="Liberation Sans" font-size="10" text-anchor="middle" fill="#222" textLength="15.90" lengthAdjust="spacingAndGlyphs" stroke="#222" stroke-width="0.22">0.8</text>
<line x1="496.4" y1="228.6" x2="496.4" y2="231.6" stroke="#6e6e6e" stroke-width="0.9"/>
<text x="496.4" y="241.1" font-family="Liberation Sans" font-size="10" text-anchor="middle" fill="#222" textLength="15.90" lengthAdjust="spacingAndGlyphs" stroke="#222" stroke-width="0.22">0.9</text>
<line x1="522.2" y1="228.6" x2="522.2" y2="231.6" stroke="#6e6e6e" stroke-width="0.9"/>
<text x="522.2" y="241.1" font-family="Liberation Sans" font-size="10" text-anchor="middle" fill="#222" textLength="15.90" lengthAdjust="spacingAndGlyphs" stroke="#222" stroke-width="0.22">1.0</text>
<line x1="312.8" y1="228.6" x2="315.8" y2="228.6" stroke="#6e6e6e" stroke-width="0.9"/>
<text x="311.5" y="233.4" font-family="Liberation Sans" font-size="10" text-anchor="end" fill="#222" textLength="15.90" lengthAdjust="spacingAndGlyphs" stroke="#222" stroke-width="0.22">0.2</text>
<line x1="312.8" y1="202.8" x2="315.8" y2="202.8" stroke="#6e6e6e" stroke-width="0.9"/>
<text x="311.5" y="207.6" font-family="Liberation Sans" font-size="10" text-anchor="end" fill="#222" textLength="15.90" lengthAdjust="spacingAndGlyphs" stroke="#222" stroke-width="0.22">0.3</text>
<line x1="312.8" y1="176.9" x2="315.8" y2="176.9" stroke="#6e6e6e" stroke-width="0.9"/>
<text x="311.5" y="181.7" font-family="Liberation Sans" font-size="10" text-anchor="end" fill="#222" textLength="15.90" lengthAdjust="spacingAndGlyphs" stroke="#222" stroke-width="0.22">0.4</text>
<line x1="312.8" y1="151.1" x2="315.8" y2="151.1" stroke="#6e6e6e" stroke-width="0.9"/>
<text x="311.5" y="155.9" font-family="Liberation Sans" font-size="10" text-anchor="end" fill="#222" textLength="15.90" lengthAdjust="spacingAndGlyphs" stroke="#222" stroke-width="0.22">0.5</text>
<line x1="312.8" y1="125.2" x2="315.8" y2="125.2" stroke="#6e6e6e" stroke-width="0.9"/>
<text x="311.5" y="130.0" font-family="Liberation Sans" font-size="10" text-anchor="end" fill="#222" textLength="15.90" lengthAdjust="spacingAndGlyphs" stroke="#222" stroke-width="0.22">0.6</text>
<line x1="312.8" y1="99.4" x2="315.8" y2="99.4" stroke="#6e6e6e" stroke-width="0.9"/>
<text x="311.5" y="104.2" font-family="Liberation Sans" font-size="10" text-anchor="end" fill="#222" textLength="15.90" lengthAdjust="spacingAndGlyphs" stroke="#222" stroke-width="0.22">0.7</text>
<line x1="312.8" y1="73.5" x2="315.8" y2="73.5" stroke="#6e6e6e" stroke-width="0.9"/>
<text x="311.5" y="78.3" font-family="Liberation Sans" font-size="10" text-anchor="end" fill="#222" textLength="15.90" lengthAdjust="spacingAndGlyphs" stroke="#222" stroke-width="0.22">0.8</text>
<line x1="312.8" y1="47.7" x2="315.8" y2="47.7" stroke="#6e6e6e" stroke-width="0.9"/>
<text x="311.5" y="52.5" font-family="Liberation Sans" font-size="10" text-anchor="end" fill="#222" textLength="15.90" lengthAdjust="spacingAndGlyphs" stroke="#222" stroke-width="0.22">0.9</text>
<line x1="312.8" y1="21.8" x2="315.8" y2="21.8" stroke="#6e6e6e" stroke-width="0.9"/>
<text x="311.5" y="26.6" font-family="Liberation Sans" font-size="10" text-anchor="end" fill="#222" textLength="15.90" lengthAdjust="spacingAndGlyphs" stroke="#222" stroke-width="0.22">1.0</text>
<text x="419.9" y="18.5" font-family="Liberation Sans" font-size="10" text-anchor="middle" fill="#222" textLength="84.45" lengthAdjust="spacingAndGlyphs" stroke="#222" stroke-width="0.22">LAI = 2, Random</text>
<text x="419.9" y="253.0" font-family="Liberation Sans" font-size="10" text-anchor="middle" fill="#222" textLength="88.38" lengthAdjust="spacingAndGlyphs" stroke="#222" stroke-width="0.22">LiDAR derived LPI</text>
<g transform="translate(291.1,159.5) rotate(-90)">
<text x="0.3" y="0.0" font-family="Liberation Sans" font-size="10" fill="#222" textLength="50.36" lengthAdjust="spacingAndGlyphs" stroke="#222" stroke-width="0.22">Reference</text>
<text x="54.7" y="-0.3" font-family="Liberation Serif" font-weight="bold" font-size="10" fill="#222" stroke="#222" stroke-width="0.45" textLength="5.6" lengthAdjust="spacingAndGlyphs">P</text>
<text x="60.9" y="1.9" font-family="Liberation Serif" font-weight="bold" font-size="7.4" fill="#222" stroke="#222" stroke-width="0.35" textLength="11.1" lengthAdjust="spacingAndGlyphs">gap</text>
</g>
<text x="406.5" y="273.3" font-family="Liberation Serif" font-size="12.8" text-anchor="middle" font-weight="bold" fill="#222">(b)</text>
<rect x="367.1" y="191.7" width="154.4" height="33.5" rx="2" ry="2" fill="#fff" fill-opacity="0.85" stroke="#d0d0d0" stroke-width="0.8"/>
<circle cx="376.2" cy="198.2" r="2.00" fill="#06a074"/>
<text x="388.4" y="200.0" font-family="Liberation Sans" font-size="7.2" fill="#222" textLength="10.48" lengthAdjust="spacingAndGlyphs" stroke="#222" stroke-width="0.1">LPI</text>
<text x="399.1" y="201.4" font-family="Liberation Sans" font-size="4.8" fill="#222" textLength="5.61" lengthAdjust="spacingAndGlyphs" stroke="#222" stroke-width="0.1">all</text>
<path d="M374.1 206.8H378.3L376.2 210.9Z" fill="#ff4a00"/>
<text x="388.4" y="210.4" font-family="Liberation Sans" font-size="7.2" fill="#222" textLength="10.48" lengthAdjust="spacingAndGlyphs" stroke="#222" stroke-width="0.1">LPI</text>
<text x="399.1" y="211.8" font-family="Liberation Sans" font-size="4.8" fill="#222" textLength="22.18" lengthAdjust="spacingAndGlyphs" stroke="#222" stroke-width="0.1">weighted</text>
<path d="M374.1 220.7H378.3L376.2 216.6Z" fill="#7570b3"/>
<text x="388.4" y="220.7" font-family="Liberation Sans" font-size="7.2" fill="#222" textLength="10.48" lengthAdjust="spacingAndGlyphs" stroke="#222" stroke-width="0.1">LPI</text>
<text x="399.1" y="222.1" font-family="Liberation Sans" font-size="4.8" fill="#222" textLength="9.38" lengthAdjust="spacingAndGlyphs" stroke="#222" stroke-width="0.1">first</text>
<rect x="426.0" y="196.3" width="3.8" height="3.8" fill="#ff1a8c"/>
<text x="440.1" y="200.0" font-family="Liberation Sans" font-size="7.2" fill="#222" textLength="10.48" lengthAdjust="spacingAndGlyphs" stroke="#222" stroke-width="0.1">LPI</text>
<text x="450.8" y="201.4" font-family="Liberation Sans" font-size="4.8" fill="#222" textLength="8.66" lengthAdjust="spacingAndGlyphs" stroke="#222" stroke-width="0.1">last</text>
<circle cx="427.9" cy="208.6" r="1.75" fill="#28a028"/>
<text x="440.1" y="210.4" font-family="Liberation Sans" font-size="7.2" fill="#222" textLength="10.48" lengthAdjust="spacingAndGlyphs" stroke="#222" stroke-width="0.1">LPI</text>
<text x="450.8" y="211.8" font-family="Liberation Sans" font-size="4.8" fill="#222" textLength="10.91" lengthAdjust="spacingAndGlyphs" stroke="#222" stroke-width="0.1">both</text>
<circle cx="427.9" cy="218.9" r="1.75" fill="#ffa500"/>
<text x="440.1" y="220.7" font-family="Liberation Sans" font-size="7.2" fill="#222" textLength="10.48" lengthAdjust="spacingAndGlyphs" stroke="#222" stroke-width="0.1">LPI</text>
<text x="450.8" y="222.1" font-family="Liberation Sans" font-size="4.8" fill="#222" textLength="19.74" lengthAdjust="spacingAndGlyphs" stroke="#222" stroke-width="0.1">r = 2.10</text>
<circle cx="476.9" cy="198.2" r="2.00" fill="#a6761d"/>
<text x="489.1" y="200.0" font-family="Liberation Sans" font-size="7.2" fill="#222" textLength="10.48" lengthAdjust="spacingAndGlyphs" stroke="#222" stroke-width="0.1">LPI</text>
<text x="499.8" y="201.4" font-family="Liberation Sans" font-size="4.8" fill="#222" textLength="18.14" lengthAdjust="spacingAndGlyphs" stroke="#222" stroke-width="0.1">nearest</text>
<path d="M476.9 205.9L478.6 208.6L476.9 211.2L475.1 208.6Z" fill="#ff0000"/>
<text x="489.1" y="210.4" font-family="Liberation Sans" font-size="7.2" fill="#222" textLength="10.48" lengthAdjust="spacingAndGlyphs" stroke="#222" stroke-width="0.1">LPI</text>
<text x="499.8" y="211.8" font-family="Liberation Sans" font-size="4.8" fill="#222" textLength="12.79" lengthAdjust="spacingAndGlyphs" stroke="#222" stroke-width="0.1">fitted</text>
<polygon points="476.9,216.8 478.8,218.3 478.1,220.6 475.7,220.6 475.0,218.3" fill="#0000ff"/>
<text x="489.5" y="220.7" font-family="Liberation Sans" font-size="7.2" fill="#222" textLength="2.53" lengthAdjust="spacingAndGlyphs" stroke="#222" stroke-width="0.1">f</text>
<text x="492.2" y="222.1" font-family="Liberation Sans" font-size="4.8" fill="#222" textLength="8.12" lengthAdjust="spacingAndGlyphs" stroke="#222" stroke-width="0.1">vcc</text>
<clipPath id="clipc"><rect x="45.6" y="290.3" width="208.0" height="206.3"/></clipPath>
<g clip-path="url(#clipc)">
<circle cx="194.8" cy="300.3" r="2.00" fill="#06a074"/>
<circle cx="176.1" cy="314.3" r="2.00" fill="#06a074"/>
<circle cx="188.2" cy="315.8" r="2.00" fill="#06a074"/>
<circle cx="182.6" cy="319.0" r="2.00" fill="#06a074"/>
<circle cx="187.3" cy="319.9" r="2.00" fill="#06a074"/>
<circle cx="184.5" cy="327.4" r="2.00" fill="#06a074"/>
<circle cx="171.4" cy="332.1" r="2.00" fill="#06a074"/>
<circle cx="172.3" cy="340.5" r="2.00" fill="#06a074"/>
<circle cx="171.4" cy="346.1" r="2.00" fill="#06a074"/>
<circle cx="178.9" cy="343.3" r="2.00" fill="#06a074"/>
<circle cx="172.3" cy="354.5" r="2.00" fill="#06a074"/>
<circle cx="170.5" cy="356.4" r="2.00" fill="#06a074"/>
<circle cx="176.1" cy="357.3" r="2.00" fill="#06a074"/>
<circle cx="149.9" cy="360.1" r="2.00" fill="#06a074"/>
<circle cx="163.9" cy="366.6" r="2.00" fill="#06a074"/>
<circle cx="157.4" cy="369.4" r="2.00" fill="#06a074"/>
<circle cx="158.3" cy="372.2" r="2.00" fill="#06a074"/>
<circle cx="165.8" cy="373.2" r="2.00" fill="#06a074"/>
<circle cx="164.9" cy="376.0" r="2.00" fill="#06a074"/>
<circle cx="162.1" cy="376.9" r="2.00" fill="#06a074"/>
<circle cx="160.2" cy="382.5" r="2.00" fill="#06a074"/>
<circle cx="155.5" cy="384.4" r="2.00" fill="#06a074"/>
<circle cx="157.4" cy="389.1" r="2.00" fill="#06a074"/>
<circle cx="160.2" cy="382.8" r="2.00" fill="#06a074"/>
<circle cx="146.2" cy="391.2" r="2.00" fill="#06a074"/>
<circle cx="151.8" cy="393.1" r="2.00" fill="#06a074"/>
<circle cx="154.6" cy="394.0" r="2.00" fill="#06a074"/>
<circle cx="148.0" cy="396.8" r="2.00" fill="#06a074"/>
<circle cx="141.5" cy="397.8" r="2.00" fill="#06a074"/>
<circle cx="152.7" cy="397.8" r="2.00" fill="#06a074"/>
<circle cx="150.8" cy="400.6" r="2.00" fill="#06a074"/>
<circle cx="155.5" cy="401.5" r="2.00" fill="#06a074"/>
<circle cx="150.8" cy="405.2" r="2.00" fill="#06a074"/>
<circle cx="143.4" cy="409.9" r="2.00" fill="#06a074"/>
<circle cx="146.2" cy="413.6" r="2.00" fill="#06a074"/>
<circle cx="138.7" cy="414.6" r="2.00" fill="#06a074"/>
<circle cx="140.6" cy="415.5" r="2.00" fill="#06a074"/>
<circle cx="133.1" cy="416.4" r="2.00" fill="#06a074"/>
<circle cx="124.7" cy="420.2" r="2.00" fill="#06a074"/>
<circle cx="133.1" cy="419.3" r="2.00" fill="#06a074"/>
<circle cx="138.7" cy="422.1" r="2.00" fill="#06a074"/>
<circle cx="131.2" cy="423.0" r="2.00" fill="#06a074"/>
<circle cx="135.0" cy="423.9" r="2.00" fill="#06a074"/>
<circle cx="124.7" cy="424.9" r="2.00" fill="#06a074"/>
<circle cx="142.4" cy="425.8" r="2.00" fill="#06a074"/>
<circle cx="132.1" cy="426.7" r="2.00" fill="#06a074"/>
<circle cx="131.2" cy="429.5" r="2.00" fill="#06a074"/>
<circle cx="136.8" cy="429.5" r="2.00" fill="#06a074"/>
<circle cx="130.3" cy="434.2" r="2.00" fill="#06a074"/>
<circle cx="133.1" cy="435.1" r="2.00" fill="#06a074"/>
<circle cx="126.5" cy="435.1" r="2.00" fill="#06a074"/>
<circle cx="128.4" cy="437.0" r="2.00" fill="#06a074"/>
<circle cx="131.2" cy="438.9" r="2.00" fill="#06a074"/>
<circle cx="124.7" cy="441.7" r="2.00" fill="#06a074"/>
<circle cx="120.9" cy="443.6" r="2.00" fill="#06a074"/>
<circle cx="124.6" cy="442.4" r="2.00" fill="#06a074"/>
<circle cx="114.1" cy="452.9" r="2.00" fill="#06a074"/>
<circle cx="105.9" cy="460.7" r="2.00" fill="#06a074"/>
<circle cx="92.6" cy="464.1" r="2.00" fill="#06a074"/>
<circle cx="126.9" cy="435.0" r="2.00" fill="#06a074"/>
<circle cx="133.6" cy="434.2" r="2.00" fill="#06a074"/>
<circle cx="130.6" cy="428.2" r="2.00" fill="#06a074"/>
<circle cx="136.6" cy="429.7" r="2.00" fill="#06a074"/>
<circle cx="141.8" cy="426.0" r="2.00" fill="#06a074"/>
<circle cx="138.8" cy="422.2" r="2.00" fill="#06a074"/>
<path d="M137.4 298.5H141.8L139.6 302.6Z" fill="#ff4a00"/>
<path d="M127.2 313.4H131.5L129.3 317.5Z" fill="#ff4a00"/>
<path d="M119.8 317.2H124.1L121.9 321.3Z" fill="#ff4a00"/>
<path d="M129.9 318.1H134.2L132.1 322.2Z" fill="#ff4a00"/>
<path d="M122.5 325.6H126.9L124.7 329.7Z" fill="#ff4a00"/>
<path d="M112.3 313.1H116.7L114.5 317.2Z" fill="#ff4a00"/>
<path d="M120.2 317.6H124.6L122.4 321.7Z" fill="#ff4a00"/>
<path d="M121.5 326.2H125.9L123.7 330.3Z" fill="#ff4a00"/>
<path d="M103.2 330.7H107.6L105.4 334.8Z" fill="#ff4a00"/>
<path d="M110.4 330.7H114.8L112.6 334.8Z" fill="#ff4a00"/>
<path d="M107.8 339.9H112.2L110.0 344.0Z" fill="#ff4a00"/>
<path d="M103.2 344.5H107.6L105.4 348.6Z" fill="#ff4a00"/>
<path d="M114.9 344.5H119.2L117.1 348.6Z" fill="#ff4a00"/>
<path d="M110.4 354.9H114.8L112.6 359.0Z" fill="#ff4a00"/>
<path d="M113.0 354.9H117.4L115.2 359.0Z" fill="#ff4a00"/>
<path d="M116.3 354.9H120.7L118.5 359.0Z" fill="#ff4a00"/>
<path d="M100.8 370.1H105.1L103.0 374.2Z" fill="#ff4a00"/>
<path d="M100.7 364.7H105.0L102.9 368.8Z" fill="#ff4a00"/>
<path d="M96.4 369.6H100.7L98.6 373.7Z" fill="#ff4a00"/>
<path d="M99.0 369.6H103.3L101.2 373.7Z" fill="#ff4a00"/>
<path d="M104.3 363.9H108.6L106.4 368.0Z" fill="#ff4a00"/>
<path d="M107.2 364.9H111.5L109.3 369.0Z" fill="#ff4a00"/>
<path d="M95.5 387.6H99.8L97.6 391.7Z" fill="#ff4a00"/>
<path d="M98.3 384.1H102.6L100.4 388.2Z" fill="#ff4a00"/>
<path d="M97.1 392.7H101.4L99.3 396.8Z" fill="#ff4a00"/>
<path d="M93.8 391.6H98.1L96.0 395.7Z" fill="#ff4a00"/>
<path d="M88.3 385.4H92.6L90.4 389.5Z" fill="#ff4a00"/>
<path d="M93.4 386.1H97.7L95.5 390.1Z" fill="#ff4a00"/>
<path d="M85.4 392.8H89.7L87.5 396.9Z" fill="#ff4a00"/>
<path d="M94.7 386.7H99.0L96.9 390.8Z" fill="#ff4a00"/>
<path d="M87.4 384.8H91.7L89.6 388.9Z" fill="#ff4a00"/>
<path d="M78.9 419.9H83.2L81.1 424.0Z" fill="#ff4a00"/>
<path d="M82.3 414.3H86.6L84.4 418.4Z" fill="#ff4a00"/>
<path d="M86.0 410.6H90.3L88.1 414.7Z" fill="#ff4a00"/>
<path d="M79.9 418.3H84.2L82.1 422.3Z" fill="#ff4a00"/>
<path d="M93.1 415.0H97.4L95.3 419.1Z" fill="#ff4a00"/>
<path d="M77.9 418.4H82.2L80.1 422.5Z" fill="#ff4a00"/>
<path d="M82.8 420.1H87.1L85.0 424.1Z" fill="#ff4a00"/>
<path d="M75.5 423.7H79.8L77.6 427.8Z" fill="#ff4a00"/>
<path d="M68.5 434.2H72.8L70.7 438.3Z" fill="#ff4a00"/>
<path d="M66.8 443.1H71.1L69.0 447.2Z" fill="#ff4a00"/>
<path d="M64.5 438.4H68.8L66.7 442.5Z" fill="#ff4a00"/>
<path d="M69.8 442.6H74.1L72.0 446.7Z" fill="#ff4a00"/>
<path d="M63.5 437.4H67.8L65.7 441.5Z" fill="#ff4a00"/>
<path d="M74.1 439.6H78.4L76.3 443.7Z" fill="#ff4a00"/>
<path d="M65.2 450.7H69.5L67.3 454.7Z" fill="#ff4a00"/>
<path d="M68.8 449.8H73.1L70.9 453.9Z" fill="#ff4a00"/>
<path d="M56.1 459.9H60.4L58.3 464.0Z" fill="#ff4a00"/>
<path d="M67.6 460.7H71.9L69.7 464.8Z" fill="#ff4a00"/>
<path d="M106.3 361.8H110.7L108.5 357.7Z" fill="#7570b3"/>
<path d="M110.8 357.8H115.2L113.0 353.7Z" fill="#7570b3"/>
<path d="M192.7 302.1H197.0L194.8 298.0Z" fill="#7570b3"/>
<path d="M145.5 316.1H149.8L147.7 312.0Z" fill="#7570b3"/>
<path d="M158.0 320.8H162.3L160.2 316.7Z" fill="#7570b3"/>
<path d="M173.9 318.0H178.2L176.1 313.9Z" fill="#7570b3"/>
<path d="M180.4 321.7H184.8L182.6 317.6Z" fill="#7570b3"/>
<path d="M165.5 330.1H169.8L167.7 326.0Z" fill="#7570b3"/>
<path d="M129.0 334.8H133.3L131.2 330.7Z" fill="#7570b3"/>
<path d="M145.8 333.9H150.2L148.0 329.8Z" fill="#7570b3"/>
<path d="M137.4 343.2H141.8L139.6 339.1Z" fill="#7570b3"/>
<path d="M129.9 347.9H134.2L132.1 343.8Z" fill="#7570b3"/>
<path d="M152.4 346.0H156.8L154.6 341.9Z" fill="#7570b3"/>
<path d="M148.7 358.2H153.0L150.8 354.1Z" fill="#7570b3"/>
<path d="M156.2 356.3H160.5L158.3 352.2Z" fill="#7570b3"/>
<path d="M158.0 359.1H162.3L160.2 355.0Z" fill="#7570b3"/>
<path d="M130.9 368.4H135.2L133.1 364.3Z" fill="#7570b3"/>
<path d="M119.8 371.2H124.1L121.9 367.1Z" fill="#7570b3"/>
<path d="M124.3 374.0H128.7L126.5 369.9Z" fill="#7570b3"/>
<path d="M129.0 375.0H133.3L131.2 370.9Z" fill="#7570b3"/>
<path d="M133.8 376.8H138.1L135.9 372.7Z" fill="#7570b3"/>
<path d="M128.2 379.7H132.5L130.3 375.6Z" fill="#7570b3"/>
<path d="M127.2 384.3H131.5L129.3 380.2Z" fill="#7570b3"/>
<path d="M121.5 395.8H125.9L123.7 391.7Z" fill="#7570b3"/>
<path d="M131.8 393.9H136.2L134.0 389.8Z" fill="#7570b3"/>
<path d="M129.0 399.6H133.3L131.2 395.5Z" fill="#7570b3"/>
<path d="M120.6 403.3H125.0L122.8 399.2Z" fill="#7570b3"/>
<path d="M117.8 416.4H122.2L120.0 412.3Z" fill="#7570b3"/>
<path d="M88.8 455.4H93.2L91.0 451.3Z" fill="#7570b3"/>
<path d="M91.0 445.7H95.4L93.2 441.6Z" fill="#7570b3"/>
<path d="M94.8 444.2H99.2L97.0 440.1Z" fill="#7570b3"/>
<path d="M91.8 437.5H96.2L94.0 433.4Z" fill="#7570b3"/>
<path d="M96.3 436.8H100.7L98.5 432.7Z" fill="#7570b3"/>
<path d="M99.2 436.4H103.6L101.4 432.3Z" fill="#7570b3"/>
<path d="M103.8 440.5H108.1L105.9 436.4Z" fill="#7570b3"/>
<path d="M94.8 432.3H99.2L97.0 428.2Z" fill="#7570b3"/>
<path d="M97.8 432.0H102.2L100.0 427.9Z" fill="#7570b3"/>
<path d="M106.8 424.0H111.1L108.9 419.9Z" fill="#7570b3"/>
<path d="M113.4 426.3H117.8L115.6 422.2Z" fill="#7570b3"/>
<path d="M99.2 425.5H103.6L101.4 421.4Z" fill="#7570b3"/>
<path d="M84.3 436.8H88.7L86.5 432.7Z" fill="#7570b3"/>
<path d="M114.8 386.5H119.2L117.0 382.4Z" fill="#7570b3"/>
<path d="M127.8 384.6H132.2L130.0 380.5Z" fill="#7570b3"/>
<path d="M99.8 395.8H104.2L102.0 391.7Z" fill="#7570b3"/>
<path d="M107.3 399.6H111.7L109.5 395.5Z" fill="#7570b3"/>
<path d="M114.8 394.8H119.2L117.0 390.7Z" fill="#7570b3"/>
<path d="M108.2 407.0H112.6L110.4 402.9Z" fill="#7570b3"/>
<path d="M113.8 406.1H118.2L116.0 402.0Z" fill="#7570b3"/>
<path d="M102.6 417.3H107.0L104.8 413.2Z" fill="#7570b3"/>
<path d="M98.8 424.8H103.2L101.0 420.7Z" fill="#7570b3"/>
<path d="M107.3 426.7H111.7L109.5 422.6Z" fill="#7570b3"/>
<path d="M112.9 426.7H117.2L115.1 422.6Z" fill="#7570b3"/>
<path d="M93.3 431.3H97.7L95.5 427.2Z" fill="#7570b3"/>
<path d="M97.0 431.3H101.4L99.2 427.2Z" fill="#7570b3"/>
<path d="M103.5 439.8H107.9L105.7 435.7Z" fill="#7570b3"/>
<path d="M88.6 454.7H93.0L90.8 450.6Z" fill="#7570b3"/>
<path d="M76.4 463.1H80.8L78.6 459.0Z" fill="#7570b3"/>
<path d="M65.2 465.9H69.6L67.4 461.8Z" fill="#7570b3"/>
<path d="M100.8 397.7H105.2L103.0 393.6Z" fill="#7570b3"/>
<path d="M75.4 454.1H79.8L77.6 450.0Z" fill="#7570b3"/>
<path d="M88.3 455.3H92.7L90.5 451.2Z" fill="#7570b3"/>
<rect x="45.2" y="348.4" width="2.8" height="2.8" fill="#ff1a8c"/>
<rect x="46.7" y="313.4" width="2.8" height="2.8" fill="#ff1a8c"/>
<rect x="45.3" y="310.8" width="2.8" height="2.8" fill="#ff1a8c"/>
<rect x="45.2" y="325.6" width="2.8" height="2.8" fill="#ff1a8c"/>
<rect x="45.7" y="301.9" width="2.8" height="2.8" fill="#ff1a8c"/>
<rect x="45.8" y="318.7" width="2.8" height="2.8" fill="#ff1a8c"/>
<rect x="44.7" y="309.8" width="2.8" height="2.8" fill="#ff1a8c"/>
<rect x="45.3" y="344.0" width="2.8" height="2.8" fill="#ff1a8c"/>
<rect x="45.9" y="332.9" width="2.8" height="2.8" fill="#ff1a8c"/>
<rect x="45.5" y="356.4" width="2.8" height="2.8" fill="#ff1a8c"/>
<rect x="45.4" y="325.2" width="2.8" height="2.8" fill="#ff1a8c"/>
<rect x="46.3" y="300.0" width="2.8" height="2.8" fill="#ff1a8c"/>
<rect x="45.0" y="330.3" width="2.8" height="2.8" fill="#ff1a8c"/>
<rect x="45.4" y="373.6" width="2.8" height="2.8" fill="#ff1a8c"/>
<rect x="45.1" y="322.7" width="2.8" height="2.8" fill="#ff1a8c"/>
<rect x="46.3" y="337.8" width="2.8" height="2.8" fill="#ff1a8c"/>
<rect x="44.2" y="373.6" width="2.8" height="2.8" fill="#ff1a8c"/>
<rect x="45.0" y="338.1" width="2.8" height="2.8" fill="#ff1a8c"/>
<rect x="45.1" y="387.1" width="2.8" height="2.8" fill="#ff1a8c"/>
<rect x="45.8" y="390.2" width="2.8" height="2.8" fill="#ff1a8c"/>
<rect x="46.9" y="326.9" width="2.8" height="2.8" fill="#ff1a8c"/>
<rect x="46.7" y="320.8" width="2.8" height="2.8" fill="#ff1a8c"/>
<rect x="47.3" y="309.9" width="2.8" height="2.8" fill="#ff1a8c"/>
<rect x="46.6" y="319.9" width="2.8" height="2.8" fill="#ff1a8c"/>
<rect x="44.9" y="476.4" width="2.8" height="2.8" fill="#ff1a8c"/>
<rect x="44.9" y="410.8" width="2.8" height="2.8" fill="#ff1a8c"/>
<rect x="44.9" y="462.0" width="2.8" height="2.8" fill="#ff1a8c"/>
<rect x="44.9" y="430.6" width="2.8" height="2.8" fill="#ff1a8c"/>
<rect x="44.9" y="459.7" width="2.8" height="2.8" fill="#ff1a8c"/>
<rect x="44.9" y="468.1" width="2.8" height="2.8" fill="#ff1a8c"/>
<circle cx="95.6" cy="300.2" r="1.75" fill="#28a028"/>
<circle cx="86.4" cy="314.9" r="1.75" fill="#28a028"/>
<circle cx="88.4" cy="319.4" r="1.75" fill="#28a028"/>
<circle cx="92.9" cy="319.4" r="1.75" fill="#28a028"/>
<circle cx="89.7" cy="328.0" r="1.75" fill="#28a028"/>
<circle cx="79.9" cy="332.5" r="1.75" fill="#28a028"/>
<circle cx="86.4" cy="332.5" r="1.75" fill="#28a028"/>
<circle cx="82.5" cy="341.7" r="1.75" fill="#28a028"/>
<circle cx="80.5" cy="346.3" r="1.75" fill="#28a028"/>
<circle cx="74.6" cy="356.7" r="1.75" fill="#28a028"/>
<circle cx="77.0" cy="362.3" r="1.75" fill="#28a028"/>
<circle cx="75.7" cy="366.4" r="1.75" fill="#28a028"/>
<circle cx="73.4" cy="369.1" r="1.75" fill="#28a028"/>
<circle cx="70.4" cy="387.4" r="1.75" fill="#28a028"/>
<circle cx="66.9" cy="396.6" r="1.75" fill="#28a028"/>
<circle cx="71.6" cy="385.3" r="1.75" fill="#28a028"/>
<circle cx="67.3" cy="384.4" r="1.75" fill="#28a028"/>
<circle cx="70.0" cy="384.4" r="1.75" fill="#28a028"/>
<circle cx="69.9" cy="392.9" r="1.75" fill="#28a028"/>
<circle cx="64.1" cy="414.2" r="1.75" fill="#28a028"/>
<circle cx="63.6" cy="416.7" r="1.75" fill="#28a028"/>
<circle cx="64.2" cy="413.2" r="1.75" fill="#28a028"/>
<circle cx="61.3" cy="421.5" r="1.75" fill="#28a028"/>
<circle cx="59.9" cy="420.7" r="1.75" fill="#28a028"/>
<circle cx="63.2" cy="415.6" r="1.75" fill="#28a028"/>
<circle cx="66.0" cy="444.4" r="1.75" fill="#28a028"/>
<circle cx="67.1" cy="440.7" r="1.75" fill="#28a028"/>
<circle cx="69.1" cy="433.2" r="1.75" fill="#28a028"/>
<circle cx="69.1" cy="433.8" r="1.75" fill="#28a028"/>
<circle cx="63.0" cy="453.6" r="1.75" fill="#28a028"/>
<circle cx="63.0" cy="463.9" r="1.75" fill="#28a028"/>
<circle cx="86.1" cy="366.7" r="1.75" fill="#ffa500"/>
<circle cx="83.9" cy="367.4" r="1.75" fill="#ffa500"/>
<circle cx="81.6" cy="366.3" r="1.75" fill="#ffa500"/>
<circle cx="77.4" cy="384.8" r="1.75" fill="#ffa500"/>
<circle cx="76.4" cy="384.3" r="1.75" fill="#ffa500"/>
<circle cx="76.1" cy="389.3" r="1.75" fill="#ffa500"/>
<circle cx="75.3" cy="388.1" r="1.75" fill="#ffa500"/>
<circle cx="77.5" cy="386.4" r="1.75" fill="#ffa500"/>
<circle cx="76.5" cy="397.4" r="1.75" fill="#ffa500"/>
<circle cx="72.5" cy="418.5" r="1.75" fill="#ffa500"/>
<circle cx="69.6" cy="416.1" r="1.75" fill="#ffa500"/>
<circle cx="72.3" cy="416.0" r="1.75" fill="#ffa500"/>
<circle cx="62.5" cy="416.7" r="1.75" fill="#ffa500"/>
<circle cx="66.5" cy="425.0" r="1.75" fill="#ffa500"/>
<circle cx="67.2" cy="423.3" r="1.75" fill="#ffa500"/>
<circle cx="62.0" cy="437.5" r="1.75" fill="#ffa500"/>
<circle cx="61.9" cy="433.8" r="1.75" fill="#ffa500"/>
<circle cx="54.3" cy="440.5" r="1.75" fill="#ffa500"/>
<circle cx="57.2" cy="441.0" r="1.75" fill="#ffa500"/>
<circle cx="84.6" cy="363.8" r="2.00" fill="#a6761d"/>
<circle cx="84.9" cy="370.5" r="2.00" fill="#a6761d"/>
<circle cx="89.0" cy="364.4" r="2.00" fill="#a6761d"/>
<circle cx="77.8" cy="389.6" r="2.00" fill="#a6761d"/>
<circle cx="75.8" cy="391.1" r="2.00" fill="#a6761d"/>
<circle cx="72.5" cy="390.2" r="2.00" fill="#a6761d"/>
<circle cx="74.5" cy="394.0" r="2.00" fill="#a6761d"/>
<circle cx="74.4" cy="396.2" r="2.00" fill="#a6761d"/>
<circle cx="77.0" cy="388.4" r="2.00" fill="#a6761d"/>
<circle cx="64.8" cy="425.1" r="2.00" fill="#a6761d"/>
<circle cx="67.1" cy="413.4" r="2.00" fill="#a6761d"/>
<circle cx="66.7" cy="425.9" r="2.00" fill="#a6761d"/>
<circle cx="69.0" cy="412.8" r="2.00" fill="#a6761d"/>
<circle cx="69.2" cy="419.1" r="2.00" fill="#a6761d"/>
<circle cx="62.9" cy="425.3" r="2.00" fill="#a6761d"/>
<circle cx="62.5" cy="434.5" r="2.00" fill="#a6761d"/>
<circle cx="63.6" cy="437.9" r="2.00" fill="#a6761d"/>
<circle cx="62.8" cy="440.5" r="2.00" fill="#a6761d"/>
<circle cx="57.2" cy="439.9" r="2.00" fill="#a6761d"/>
<circle cx="55.3" cy="454.0" r="2.00" fill="#a6761d"/>
<circle cx="51.6" cy="463.6" r="2.00" fill="#a6761d"/>
<path d="M110.0 297.6L111.8 300.2L110.0 302.8L108.2 300.2Z" fill="#ff0000"/>
<path d="M92.9 312.2L94.7 314.9L92.9 317.5L91.2 314.9Z" fill="#ff0000"/>
<path d="M103.4 312.2L105.2 314.9L103.4 317.5L101.7 314.9Z" fill="#ff0000"/>
<path d="M98.2 316.8L100.0 319.4L98.2 322.0L96.5 319.4Z" fill="#ff0000"/>
<path d="M102.1 316.8L103.8 319.4L102.1 322.0L100.3 319.4Z" fill="#ff0000"/>
<path d="M98.8 325.4L100.5 328.0L98.8 330.6L97.0 328.0Z" fill="#ff0000"/>
<path d="M89.0 329.9L90.8 332.5L89.0 335.1L87.2 332.5Z" fill="#ff0000"/>
<path d="M90.3 339.1L92.0 341.7L90.3 344.3L88.5 341.7Z" fill="#ff0000"/>
<path d="M87.7 343.7L89.5 346.3L87.7 348.9L86.0 346.3Z" fill="#ff0000"/>
<path d="M77.9 354.1L79.7 356.7L77.9 359.3L76.2 356.7Z" fill="#ff0000"/>
<path d="M89.0 354.1L90.8 356.7L89.0 359.3L87.2 356.7Z" fill="#ff0000"/>
<path d="M80.8 369.2L82.5 371.8L80.8 374.5L79.0 371.8Z" fill="#ff0000"/>
<path d="M82.7 367.4L84.4 370.1L82.7 372.7L80.9 370.1Z" fill="#ff0000"/>
<path d="M79.2 369.1L81.0 371.7L79.2 374.4L77.5 371.7Z" fill="#ff0000"/>
<path d="M81.6 368.0L83.3 370.7L81.6 373.3L79.8 370.7Z" fill="#ff0000"/>
<path d="M82.0 365.6L83.8 368.2L82.0 370.9L80.3 368.2Z" fill="#ff0000"/>
<path d="M83.4 361.4L85.1 364.0L83.4 366.7L81.6 364.0Z" fill="#ff0000"/>
<path d="M83.5 362.3L85.2 364.9L83.5 367.6L81.7 364.9Z" fill="#ff0000"/>
<path d="M85.3 360.6L87.0 363.3L85.3 365.9L83.5 363.3Z" fill="#ff0000"/>
<path d="M80.7 368.6L82.4 371.2L80.7 373.9L78.9 371.2Z" fill="#ff0000"/>
<path d="M77.1 381.5L78.8 384.2L77.1 386.8L75.3 384.2Z" fill="#ff0000"/>
<path d="M74.8 383.2L76.6 385.9L74.8 388.5L73.1 385.9Z" fill="#ff0000"/>
<path d="M74.0 389.5L75.8 392.2L74.0 394.8L72.3 392.2Z" fill="#ff0000"/>
<path d="M73.7 387.4L75.5 390.0L73.7 392.7L72.0 390.0Z" fill="#ff0000"/>
<path d="M75.5 390.7L77.3 393.3L75.5 396.0L73.8 393.3Z" fill="#ff0000"/>
<path d="M80.4 386.9L82.2 389.6L80.4 392.2L78.7 389.6Z" fill="#ff0000"/>
<path d="M77.7 394.0L79.4 396.7L77.7 399.3L75.9 396.7Z" fill="#ff0000"/>
<path d="M72.9 391.4L74.6 394.1L72.9 396.7L71.1 394.1Z" fill="#ff0000"/>
<path d="M74.6 393.9L76.4 396.5L74.6 399.2L72.9 396.5Z" fill="#ff0000"/>
<path d="M75.4 388.4L77.2 391.1L75.4 393.7L73.7 391.1Z" fill="#ff0000"/>
<path d="M70.4 390.8L72.2 393.4L70.4 396.1L68.7 393.4Z" fill="#ff0000"/>
<path d="M71.8 383.3L73.6 385.9L71.8 388.6L70.1 385.9Z" fill="#ff0000"/>
<path d="M75.7 381.8L77.5 384.4L75.7 387.1L74.0 384.4Z" fill="#ff0000"/>
<path d="M72.8 394.8L74.6 397.4L72.8 400.1L71.1 397.4Z" fill="#ff0000"/>
<path d="M73.5 383.6L75.3 386.3L73.5 388.9L71.8 386.3Z" fill="#ff0000"/>
<path d="M66.0 410.6L67.7 413.2L66.0 415.9L64.2 413.2Z" fill="#ff0000"/>
<path d="M64.0 417.6L65.8 420.3L64.0 422.9L62.3 420.3Z" fill="#ff0000"/>
<path d="M65.9 410.9L67.7 413.5L65.9 416.2L64.2 413.5Z" fill="#ff0000"/>
<path d="M62.2 420.6L63.9 423.3L62.2 425.9L60.4 423.3Z" fill="#ff0000"/>
<path d="M67.5 411.3L69.2 413.9L67.5 416.6L65.7 413.9Z" fill="#ff0000"/>
<path d="M67.4 418.2L69.1 420.8L67.4 423.5L65.6 420.8Z" fill="#ff0000"/>
<path d="M65.5 421.4L67.2 424.1L65.5 426.7L63.7 424.1Z" fill="#ff0000"/>
<path d="M64.3 416.5L66.1 419.2L64.3 421.8L62.6 419.2Z" fill="#ff0000"/>
<path d="M65.8 417.2L67.5 419.9L65.8 422.5L64.0 419.9Z" fill="#ff0000"/>
<path d="M65.5 419.6L67.3 422.2L65.5 424.9L63.8 422.2Z" fill="#ff0000"/>
<path d="M59.9 423.2L61.7 425.9L59.9 428.5L58.2 425.9Z" fill="#ff0000"/>
<path d="M69.0 415.3L70.7 417.9L69.0 420.6L67.2 417.9Z" fill="#ff0000"/>
<path d="M63.6 420.3L65.3 422.9L63.6 425.6L61.8 422.9Z" fill="#ff0000"/>
<path d="M62.9 418.3L64.6 421.0L62.9 423.6L61.1 421.0Z" fill="#ff0000"/>
<path d="M66.0 436.5L67.7 439.2L66.0 441.8L64.2 439.2Z" fill="#ff0000"/>
<path d="M58.0 436.0L59.7 438.6L58.0 441.3L56.2 438.6Z" fill="#ff0000"/>
<path d="M60.3 433.8L62.0 436.4L60.3 439.1L58.5 436.4Z" fill="#ff0000"/>
<path d="M59.2 434.1L61.0 436.8L59.2 439.4L57.5 436.8Z" fill="#ff0000"/>
<path d="M62.8 435.3L64.5 437.9L62.8 440.6L61.0 437.9Z" fill="#ff0000"/>
<path d="M57.9 441.7L59.6 444.4L57.9 447.0L56.1 444.4Z" fill="#ff0000"/>
<path d="M55.0 442.3L56.8 444.9L55.0 447.6L53.3 444.9Z" fill="#ff0000"/>
<path d="M56.9 431.2L58.6 433.9L56.9 436.5L55.1 433.9Z" fill="#ff0000"/>
<path d="M60.7 430.9L62.4 433.6L60.7 436.2L58.9 433.6Z" fill="#ff0000"/>
<path d="M65.9 432.6L67.6 435.2L65.9 437.9L64.1 435.2Z" fill="#ff0000"/>
<path d="M53.6 449.8L55.4 452.4L53.6 455.1L51.9 452.4Z" fill="#ff0000"/>
<path d="M58.4 451.3L60.2 454.0L58.4 456.6L56.7 454.0Z" fill="#ff0000"/>
<path d="M54.0 449.8L55.8 452.5L54.0 455.1L52.3 452.5Z" fill="#ff0000"/>
<path d="M49.7 458.9L51.5 461.5L49.7 464.2L48.0 461.5Z" fill="#ff0000"/>
<path d="M47.0 461.7L48.8 464.4L47.0 467.0L45.3 464.4Z" fill="#ff0000"/>
<path d="M52.0 461.5L53.8 464.1L52.0 466.8L50.3 464.1Z" fill="#ff0000"/>
<path d="M115.1 297.8V302.6L119.6 300.2Z" fill="#0000ff"/>
<path d="M96.8 312.5V317.3L101.3 314.9Z" fill="#0000ff"/>
<path d="M106.0 312.5V317.3L110.5 314.9Z" fill="#0000ff"/>
<path d="M102.7 317.0V321.8L107.2 319.4Z" fill="#0000ff"/>
<path d="M107.3 317.0V321.8L111.8 319.4Z" fill="#0000ff"/>
<path d="M101.4 325.6V330.4L105.9 328.0Z" fill="#0000ff"/>
<path d="M91.6 330.1V334.9L96.1 332.5Z" fill="#0000ff"/>
<path d="M92.3 339.3V344.1L96.8 341.7Z" fill="#0000ff"/>
<path d="M94.9 339.3V344.1L99.4 341.7Z" fill="#0000ff"/>
<path d="M89.6 343.9V348.7L94.1 346.3Z" fill="#0000ff"/>
<path d="M91.0 354.3V359.1L95.5 356.7Z" fill="#0000ff"/>
<path d="M89.7 362.5V367.3L94.3 364.9Z" fill="#0000ff"/>
<path d="M88.8 362.5V367.3L93.3 364.9Z" fill="#0000ff"/>
<path d="M84.5 360.4V365.2L89.0 362.8Z" fill="#0000ff"/>
<path d="M85.9 367.1V371.9L90.4 369.5Z" fill="#0000ff"/>
<path d="M90.4 361.1V365.9L94.9 363.5Z" fill="#0000ff"/>
<path d="M87.6 362.6V367.4L92.2 365.0Z" fill="#0000ff"/>
<path d="M88.6 367.0V371.8L93.2 369.4Z" fill="#0000ff"/>
<path d="M95.4 360.2V365.0L100.0 362.6Z" fill="#0000ff"/>
<path d="M83.1 369.4V374.2L87.7 371.8Z" fill="#0000ff"/>
<path d="M85.5 392.4V397.2L90.0 394.8Z" fill="#0000ff"/>
<path d="M75.3 393.8V398.6L79.9 396.2Z" fill="#0000ff"/>
<path d="M77.8 394.0V398.8L82.4 396.4Z" fill="#0000ff"/>
<path d="M77.9 393.8V398.6L82.5 396.2Z" fill="#0000ff"/>
<path d="M81.1 391.6V396.4L85.7 394.0Z" fill="#0000ff"/>
<path d="M80.2 385.3V390.1L84.8 387.7Z" fill="#0000ff"/>
<path d="M79.7 389.9V394.7L84.2 392.3Z" fill="#0000ff"/>
<path d="M77.7 394.6V399.4L82.2 397.0Z" fill="#0000ff"/>
<path d="M82.7 384.3V389.1L87.2 386.7Z" fill="#0000ff"/>
<path d="M79.6 393.1V397.9L84.2 395.5Z" fill="#0000ff"/>
<path d="M79.9 388.8V393.6L84.4 391.2Z" fill="#0000ff"/>
<path d="M81.5 390.8V395.6L86.0 393.2Z" fill="#0000ff"/>
<path d="M85.7 382.8V387.6L90.3 385.2Z" fill="#0000ff"/>
<path d="M76.4 393.9V398.7L81.0 396.3Z" fill="#0000ff"/>
<path d="M80.7 382.3V387.1L85.2 384.7Z" fill="#0000ff"/>
<path d="M69.2 415.0V419.8L73.8 417.4Z" fill="#0000ff"/>
<path d="M68.0 417.8V422.6L72.6 420.2Z" fill="#0000ff"/>
<path d="M69.4 414.3V419.1L74.0 416.7Z" fill="#0000ff"/>
<path d="M69.8 418.2V423.0L74.4 420.6Z" fill="#0000ff"/>
<path d="M71.2 419.5V424.3L75.7 421.9Z" fill="#0000ff"/>
<path d="M67.0 421.0V425.8L71.6 423.4Z" fill="#0000ff"/>
<path d="M69.1 423.1V427.9L73.6 425.5Z" fill="#0000ff"/>
<path d="M71.0 411.4V416.2L75.6 413.8Z" fill="#0000ff"/>
<path d="M77.9 413.8V418.6L82.4 416.2Z" fill="#0000ff"/>
<path d="M70.3 418.1V422.9L74.9 420.5Z" fill="#0000ff"/>
<path d="M74.1 410.8V415.6L78.7 413.2Z" fill="#0000ff"/>
<path d="M69.9 410.5V415.3L74.4 412.9Z" fill="#0000ff"/>
<path d="M66.2 421.9V426.7L70.8 424.3Z" fill="#0000ff"/>
<path d="M72.6 411.4V416.2L77.1 413.8Z" fill="#0000ff"/>
<path d="M61.4 436.4V441.2L66.0 438.8Z" fill="#0000ff"/>
<path d="M63.5 435.5V440.3L68.1 437.9Z" fill="#0000ff"/>
<path d="M64.5 441.6V446.4L69.1 444.0Z" fill="#0000ff"/>
<path d="M62.8 432.5V437.3L67.4 434.9Z" fill="#0000ff"/>
<path d="M61.2 436.5V441.3L65.7 438.9Z" fill="#0000ff"/>
<path d="M65.4 431.6V436.4L70.0 434.0Z" fill="#0000ff"/>
<path d="M60.9 441.6V446.4L65.4 444.0Z" fill="#0000ff"/>
<path d="M65.9 433.7V438.5L70.4 436.1Z" fill="#0000ff"/>
<path d="M63.7 434.4V439.2L68.2 436.8Z" fill="#0000ff"/>
<path d="M62.3 431.6V436.4L66.9 434.0Z" fill="#0000ff"/>
<path d="M53.4 449.4V454.2L58.0 451.8Z" fill="#0000ff"/>
<path d="M59.5 450.0V454.8L64.0 452.4Z" fill="#0000ff"/>
<path d="M56.2 451.8V456.6L60.7 454.2Z" fill="#0000ff"/>
<path d="M55.4 459.9V464.7L60.0 462.3Z" fill="#0000ff"/>
<path d="M50.4 460.3V465.1L55.0 462.7Z" fill="#0000ff"/>
<path d="M52.7 461.4V466.2L57.3 463.8Z" fill="#0000ff"/>
<line x1="46.4" y1="496.6" x2="50.0" y2="290.3" stroke="#ff1a8c" stroke-width="1.2" stroke-dasharray="3.4 1.7"/>
<line x1="91.1" y1="496.6" x2="206.7" y2="290.3" stroke="#06a074" stroke-width="1.2" stroke-dasharray="3.4 1.7"/>
<line x1="44.5" y1="496.6" x2="194.4" y2="290.3" stroke="#7570b3" stroke-width="1.2" stroke-dasharray="3.4 1.7"/>
<line x1="47.4" y1="496.6" x2="140.0" y2="290.3" stroke="#ff4a00" stroke-width="1.2" stroke-dasharray="3.4 1.7"/>
<line x1="50.2" y1="496.6" x2="99.4" y2="290.3" stroke="#28a028" stroke-width="1.2" stroke-dasharray="3.4 1.7"/>
<line x1="45.6" y1="490.0" x2="109.0" y2="290.3" stroke="#a6761d" stroke-width="1.2" stroke-dasharray="3.4 1.7"/>
<line x1="45.6" y1="491.0" x2="108.6" y2="290.3" stroke="#ffa500" stroke-width="1.2" stroke-dasharray="3.4 1.7"/>
<line x1="45.6" y1="489.3" x2="107.4" y2="290.3" stroke="#ff0000" stroke-width="1.2" stroke-dasharray="3.4 1.7"/>
<line x1="45.6" y1="489.3" x2="114.8" y2="290.3" stroke="#0000ff" stroke-width="1.2" stroke-dasharray="3.4 1.7"/>
</g>
<rect x="45.6" y="290.3" width="208.0" height="206.3" fill="none" stroke="#6e6e6e" stroke-width="1.25"/>
<line x1="45.6" y1="496.6" x2="45.6" y2="499.6" stroke="#6e6e6e" stroke-width="0.9"/>
<text x="45.6" y="507.8" font-family="Liberation Sans" font-size="9.2" text-anchor="middle" fill="#222" textLength="14.63" lengthAdjust="spacingAndGlyphs" stroke="#222" stroke-width="0.18">0.0</text>
<line x1="71.6" y1="496.6" x2="71.6" y2="499.6" stroke="#6e6e6e" stroke-width="0.9"/>
<text x="71.6" y="507.8" font-family="Liberation Sans" font-size="9.2" text-anchor="middle" fill="#222" textLength="14.63" lengthAdjust="spacingAndGlyphs" stroke="#222" stroke-width="0.18">0.5</text>
<line x1="97.6" y1="496.6" x2="97.6" y2="499.6" stroke="#6e6e6e" stroke-width="0.9"/>
<text x="97.6" y="507.8" font-family="Liberation Sans" font-size="9.2" text-anchor="middle" fill="#222" textLength="14.63" lengthAdjust="spacingAndGlyphs" stroke="#222" stroke-width="0.18">1.0</text>
<line x1="123.6" y1="496.6" x2="123.6" y2="499.6" stroke="#6e6e6e" stroke-width="0.9"/>
<text x="123.6" y="507.8" font-family="Liberation Sans" font-size="9.2" text-anchor="middle" fill="#222" textLength="14.63" lengthAdjust="spacingAndGlyphs" stroke="#222" stroke-width="0.18">1.5</text>
<line x1="149.6" y1="496.6" x2="149.6" y2="499.6" stroke="#6e6e6e" stroke-width="0.9"/>
<text x="149.6" y="507.8" font-family="Liberation Sans" font-size="9.2" text-anchor="middle" fill="#222" textLength="14.63" lengthAdjust="spacingAndGlyphs" stroke="#222" stroke-width="0.18">2.0</text>
<line x1="175.6" y1="496.6" x2="175.6" y2="499.6" stroke="#6e6e6e" stroke-width="0.9"/>
<text x="175.6" y="507.8" font-family="Liberation Sans" font-size="9.2" text-anchor="middle" fill="#222" textLength="14.63" lengthAdjust="spacingAndGlyphs" stroke="#222" stroke-width="0.18">2.5</text>
<line x1="201.6" y1="496.6" x2="201.6" y2="499.6" stroke="#6e6e6e" stroke-width="0.9"/>
<text x="201.6" y="507.8" font-family="Liberation Sans" font-size="9.2" text-anchor="middle" fill="#222" textLength="14.63" lengthAdjust="spacingAndGlyphs" stroke="#222" stroke-width="0.18">3.0</text>
<line x1="227.6" y1="496.6" x2="227.6" y2="499.6" stroke="#6e6e6e" stroke-width="0.9"/>
<text x="227.6" y="507.8" font-family="Liberation Sans" font-size="9.2" text-anchor="middle" fill="#222" textLength="14.63" lengthAdjust="spacingAndGlyphs" stroke="#222" stroke-width="0.18">3.5</text>
<line x1="253.6" y1="496.6" x2="253.6" y2="499.6" stroke="#6e6e6e" stroke-width="0.9"/>
<text x="253.6" y="507.8" font-family="Liberation Sans" font-size="9.2" text-anchor="middle" fill="#222" textLength="14.63" lengthAdjust="spacingAndGlyphs" stroke="#222" stroke-width="0.18">4.0</text>
<line x1="42.6" y1="496.6" x2="45.6" y2="496.6" stroke="#6e6e6e" stroke-width="0.9"/>
<text x="41.1" y="499.9" font-family="Liberation Sans" font-size="9.0" text-anchor="end" fill="#222" textLength="20.04" lengthAdjust="spacingAndGlyphs" stroke="#222" stroke-width="0.18">0.00</text>
<line x1="42.6" y1="470.8" x2="45.6" y2="470.8" stroke="#6e6e6e" stroke-width="0.9"/>
<text x="41.1" y="474.1" font-family="Liberation Sans" font-size="9.0" text-anchor="end" fill="#222" textLength="20.04" lengthAdjust="spacingAndGlyphs" stroke="#222" stroke-width="0.18">0.25</text>
<line x1="42.6" y1="445.0" x2="45.6" y2="445.0" stroke="#6e6e6e" stroke-width="0.9"/>
<text x="41.1" y="448.3" font-family="Liberation Sans" font-size="9.0" text-anchor="end" fill="#222" textLength="20.04" lengthAdjust="spacingAndGlyphs" stroke="#222" stroke-width="0.18">0.50</text>
<line x1="42.6" y1="419.2" x2="45.6" y2="419.2" stroke="#6e6e6e" stroke-width="0.9"/>
<text x="41.1" y="422.5" font-family="Liberation Sans" font-size="9.0" text-anchor="end" fill="#222" textLength="20.04" lengthAdjust="spacingAndGlyphs" stroke="#222" stroke-width="0.18">0.75</text>
<line x1="42.6" y1="393.5" x2="45.6" y2="393.5" stroke="#6e6e6e" stroke-width="0.9"/>
<text x="41.1" y="396.8" font-family="Liberation Sans" font-size="9.0" text-anchor="end" fill="#222" textLength="20.04" lengthAdjust="spacingAndGlyphs" stroke="#222" stroke-width="0.18">1.00</text>
<line x1="42.6" y1="367.7" x2="45.6" y2="367.7" stroke="#6e6e6e" stroke-width="0.9"/>
<text x="41.1" y="371.0" font-family="Liberation Sans" font-size="9.0" text-anchor="end" fill="#222" textLength="20.04" lengthAdjust="spacingAndGlyphs" stroke="#222" stroke-width="0.18">1.25</text>
<line x1="42.6" y1="341.9" x2="45.6" y2="341.9" stroke="#6e6e6e" stroke-width="0.9"/>
<text x="41.1" y="345.2" font-family="Liberation Sans" font-size="9.0" text-anchor="end" fill="#222" textLength="20.04" lengthAdjust="spacingAndGlyphs" stroke="#222" stroke-width="0.18">1.50</text>
<line x1="42.6" y1="316.1" x2="45.6" y2="316.1" stroke="#6e6e6e" stroke-width="0.9"/>
<text x="41.1" y="319.4" font-family="Liberation Sans" font-size="9.0" text-anchor="end" fill="#222" textLength="20.04" lengthAdjust="spacingAndGlyphs" stroke="#222" stroke-width="0.18">1.75</text>
<line x1="42.6" y1="290.3" x2="45.6" y2="290.3" stroke="#6e6e6e" stroke-width="0.9"/>
<text x="41.1" y="293.6" font-family="Liberation Sans" font-size="9.0" text-anchor="end" fill="#222" textLength="20.04" lengthAdjust="spacingAndGlyphs" stroke="#222" stroke-width="0.18">2.00</text>
<text x="149.3" y="286.9" font-family="Liberation Sans" font-size="7.4" text-anchor="middle" fill="#222" textLength="62.49" lengthAdjust="spacingAndGlyphs" stroke="#222" stroke-width="0.08">LAI = 1, Random</text>
<g transform="translate(16.2,393.2) rotate(-90)">
<text x="0.0" y="0.0" font-family="Liberation Sans" font-size="9.4" text-anchor="middle" fill="#222" textLength="64.98" lengthAdjust="spacingAndGlyphs" stroke="#222" stroke-width="0.18">Reference LAI</text>
</g>
<text x="104.6" y="522.3" font-family="Liberation Serif" font-weight="bold" font-size="9.8" fill="#222" textLength="21.8" lengthAdjust="spacingAndGlyphs">eLAI</text>
<text x="126.6" y="523.6" font-family="Liberation Serif" font-size="7.4" fill="#333" textLength="9.4" lengthAdjust="spacingAndGlyphs">est</text>
<text x="135.0" y="541.2" font-family="Liberation Serif" font-size="12.8" text-anchor="middle" font-weight="bold" fill="#222">(c)</text>
<rect x="193.0" y="399.0" width="56.6" height="95.0" rx="2" ry="2" fill="#fff" fill-opacity="0.85" stroke="#d0d0d0" stroke-width="0.8"/>
<circle cx="203.0" cy="405.0" r="1.80" fill="#06a074"/>
<text x="215.4" y="406.8" font-family="Liberation Sans" font-size="7.2" fill="#222" textLength="10.48" lengthAdjust="spacingAndGlyphs" stroke="#222" stroke-width="0.1">LPI</text>
<text x="226.1" y="408.2" font-family="Liberation Sans" font-size="4.8" fill="#222" textLength="5.61" lengthAdjust="spacingAndGlyphs" stroke="#222" stroke-width="0.1">all</text>
<path d="M201.1 413.7H204.9L203.0 417.3Z" fill="#ff4a00"/>
<text x="215.4" y="417.1" font-family="Liberation Sans" font-size="7.2" fill="#222" textLength="10.48" lengthAdjust="spacingAndGlyphs" stroke="#222" stroke-width="0.1">LPI</text>
<text x="226.1" y="418.5" font-family="Liberation Sans" font-size="4.8" fill="#222" textLength="22.18" lengthAdjust="spacingAndGlyphs" stroke="#222" stroke-width="0.1">weighted</text>
<path d="M201.1 427.2H204.9L203.0 423.6Z" fill="#7570b3"/>
<text x="215.4" y="427.4" font-family="Liberation Sans" font-size="7.2" fill="#222" textLength="10.48" lengthAdjust="spacingAndGlyphs" stroke="#222" stroke-width="0.1">LPI</text>
<text x="226.1" y="428.8" font-family="Liberation Sans" font-size="4.8" fill="#222" textLength="9.38" lengthAdjust="spacingAndGlyphs" stroke="#222" stroke-width="0.1">first</text>
<rect x="201.3" y="434.2" width="3.4" height="3.4" fill="#ff1a8c"/>
<text x="215.4" y="437.7" font-family="Liberation Sans" font-size="7.2" fill="#222" textLength="10.48" lengthAdjust="spacingAndGlyphs" stroke="#222" stroke-width="0.1">LPI</text>
<text x="226.1" y="439.1" font-family="Liberation Sans" font-size="4.8" fill="#222" textLength="8.66" lengthAdjust="spacingAndGlyphs" stroke="#222" stroke-width="0.1">last</text>
<circle cx="203.0" cy="446.2" r="1.57" fill="#28a028"/>
<text x="215.4" y="448.0" font-family="Liberation Sans" font-size="7.2" fill="#222" textLength="10.48" lengthAdjust="spacingAndGlyphs" stroke="#222" stroke-width="0.1">LPI</text>
<text x="226.1" y="449.4" font-family="Liberation Sans" font-size="4.8" fill="#222" textLength="10.91" lengthAdjust="spacingAndGlyphs" stroke="#222" stroke-width="0.1">both</text>
<circle cx="203.0" cy="456.5" r="1.57" fill="#ffa500"/>
<text x="215.4" y="458.3" font-family="Liberation Sans" font-size="7.2" fill="#222" textLength="10.48" lengthAdjust="spacingAndGlyphs" stroke="#222" stroke-width="0.1">LPI</text>
<text x="226.1" y="459.7" font-family="Liberation Sans" font-size="4.8" fill="#222" textLength="19.74" lengthAdjust="spacingAndGlyphs" stroke="#222" stroke-width="0.1">r = 2.10</text>
<circle cx="203.0" cy="466.8" r="1.80" fill="#a6761d"/>
<text x="215.4" y="468.6" font-family="Liberation Sans" font-size="7.2" fill="#222" textLength="10.48" lengthAdjust="spacingAndGlyphs" stroke="#222" stroke-width="0.1">LPI</text>
<text x="226.1" y="470.0" font-family="Liberation Sans" font-size="4.8" fill="#222" textLength="18.14" lengthAdjust="spacingAndGlyphs" stroke="#222" stroke-width="0.1">nearest</text>
<path d="M203.0 474.7L204.6 477.1L203.0 479.5L201.4 477.1Z" fill="#ff0000"/>
<text x="215.4" y="478.9" font-family="Liberation Sans" font-size="7.2" fill="#222" textLength="10.48" lengthAdjust="spacingAndGlyphs" stroke="#222" stroke-width="0.1">LPI</text>
<text x="226.1" y="480.3" font-family="Liberation Sans" font-size="4.8" fill="#222" textLength="12.79" lengthAdjust="spacingAndGlyphs" stroke="#222" stroke-width="0.1">fitted</text>
<path d="M201.2 485.2V489.6L205.3 487.4Z" fill="#0000ff"/>
<text x="215.4" y="489.2" font-family="Liberation Sans" font-size="7.2" font-weight="bold" fill="#222" textLength="5.28" lengthAdjust="spacingAndGlyphs" stroke="#222" stroke-width="0.1">P</text>
<text x="220.9" y="490.6" font-family="Liberation Sans" font-size="4.8" font-weight="bold" fill="#222" textLength="10.11" lengthAdjust="spacingAndGlyphs" stroke="#222" stroke-width="0.1">gap</text>
<clipPath id="clipd"><rect x="315.0" y="290.3" width="206.7" height="206.7"/></clipPath>
<g clip-path="url(#clipd)">
<circle cx="470.0" cy="300.3" r="2.00" fill="#06a074"/>
<circle cx="454.0" cy="314.5" r="2.00" fill="#06a074"/>
<circle cx="466.7" cy="315.3" r="2.00" fill="#06a074"/>
<circle cx="462.0" cy="319.6" r="2.00" fill="#06a074"/>
<circle cx="460.1" cy="320.5" r="2.00" fill="#06a074"/>
<circle cx="462.0" cy="328.0" r="2.00" fill="#06a074"/>
<circle cx="443.3" cy="332.7" r="2.00" fill="#06a074"/>
<circle cx="446.1" cy="332.7" r="2.00" fill="#06a074"/>
<circle cx="448.9" cy="341.1" r="2.00" fill="#06a074"/>
<circle cx="451.7" cy="343.3" r="2.00" fill="#06a074"/>
<circle cx="448.0" cy="346.7" r="2.00" fill="#06a074"/>
<circle cx="450.8" cy="354.2" r="2.00" fill="#06a074"/>
<circle cx="446.1" cy="356.4" r="2.00" fill="#06a074"/>
<circle cx="449.9" cy="357.0" r="2.00" fill="#06a074"/>
<circle cx="423.7" cy="360.1" r="2.00" fill="#06a074"/>
<circle cx="442.4" cy="366.3" r="2.00" fill="#06a074"/>
<circle cx="433.0" cy="370.0" r="2.00" fill="#06a074"/>
<circle cx="434.0" cy="372.9" r="2.00" fill="#06a074"/>
<circle cx="438.6" cy="372.9" r="2.00" fill="#06a074"/>
<circle cx="438.6" cy="375.7" r="2.00" fill="#06a074"/>
<circle cx="434.0" cy="377.5" r="2.00" fill="#06a074"/>
<circle cx="436.8" cy="382.2" r="2.00" fill="#06a074"/>
<circle cx="427.4" cy="384.1" r="2.00" fill="#06a074"/>
<circle cx="365.2" cy="463.0" r="2.00" fill="#06a074"/>
<circle cx="378.3" cy="461.2" r="2.00" fill="#06a074"/>
<circle cx="384.9" cy="452.0" r="2.00" fill="#06a074"/>
<circle cx="391.4" cy="453.1" r="2.00" fill="#06a074"/>
<circle cx="392.5" cy="443.3" r="2.00" fill="#06a074"/>
<circle cx="396.9" cy="442.2" r="2.00" fill="#06a074"/>
<circle cx="399.1" cy="434.6" r="2.00" fill="#06a074"/>
<circle cx="402.3" cy="432.4" r="2.00" fill="#06a074"/>
<circle cx="405.6" cy="439.0" r="2.00" fill="#06a074"/>
<circle cx="403.4" cy="428.0" r="2.00" fill="#06a074"/>
<circle cx="406.7" cy="423.7" r="2.00" fill="#06a074"/>
<circle cx="408.9" cy="429.1" r="2.00" fill="#06a074"/>
<circle cx="390.3" cy="416.0" r="2.00" fill="#06a074"/>
<circle cx="392.5" cy="413.8" r="2.00" fill="#06a074"/>
<circle cx="395.8" cy="420.4" r="2.00" fill="#06a074"/>
<circle cx="394.7" cy="423.7" r="2.00" fill="#06a074"/>
<circle cx="402.3" cy="422.6" r="2.00" fill="#06a074"/>
<circle cx="406.7" cy="413.8" r="2.00" fill="#06a074"/>
<circle cx="408.9" cy="418.2" r="2.00" fill="#06a074"/>
<circle cx="413.3" cy="422.6" r="2.00" fill="#06a074"/>
<circle cx="413.3" cy="397.5" r="2.00" fill="#06a074"/>
<circle cx="418.0" cy="395.0" r="2.00" fill="#06a074"/>
<circle cx="420.0" cy="402.0" r="2.00" fill="#06a074"/>
<circle cx="425.0" cy="392.0" r="2.00" fill="#06a074"/>
<circle cx="415.0" cy="408.0" r="2.00" fill="#06a074"/>
<circle cx="410.0" cy="405.0" r="2.00" fill="#06a074"/>
<circle cx="428.0" cy="388.0" r="2.00" fill="#06a074"/>
<circle cx="421.0" cy="395.0" r="2.00" fill="#06a074"/>
<circle cx="423.0" cy="392.0" r="2.00" fill="#06a074"/>
<circle cx="427.0" cy="398.0" r="2.00" fill="#06a074"/>
<circle cx="429.0" cy="393.0" r="2.00" fill="#06a074"/>
<circle cx="426.0" cy="403.0" r="2.00" fill="#06a074"/>
<circle cx="424.0" cy="407.0" r="2.00" fill="#06a074"/>
<circle cx="418.0" cy="392.0" r="2.00" fill="#06a074"/>
<circle cx="412.0" cy="415.0" r="2.00" fill="#06a074"/>
<circle cx="414.0" cy="420.0" r="2.00" fill="#06a074"/>
<circle cx="413.0" cy="424.0" r="2.00" fill="#06a074"/>
<circle cx="415.0" cy="427.0" r="2.00" fill="#06a074"/>
<circle cx="430.0" cy="389.0" r="2.00" fill="#06a074"/>
<path d="M400.8 312.7H405.0L402.9 316.8Z" fill="#ff4a00"/>
<path d="M393.2 317.8H397.5L395.4 321.9Z" fill="#ff4a00"/>
<path d="M399.8 325.2H404.0L401.9 329.3Z" fill="#ff4a00"/>
<path d="M384.9 330.9H389.1L387.0 335.0Z" fill="#ff4a00"/>
<path d="M383.0 340.2H387.2L385.1 344.3Z" fill="#ff4a00"/>
<path d="M389.5 340.2H393.8L391.6 344.3Z" fill="#ff4a00"/>
<path d="M378.2 354.2H382.5L380.4 358.3Z" fill="#ff4a00"/>
<path d="M389.5 354.2H393.8L391.6 358.3Z" fill="#ff4a00"/>
<path d="M357.8 358.0H362.0L359.9 362.1Z" fill="#ff4a00"/>
<path d="M373.6 367.3H377.8L375.7 371.4Z" fill="#ff4a00"/>
<path d="M372.7 381.3H376.9L374.8 385.4Z" fill="#ff4a00"/>
<path d="M415.0 298.5H419.2L417.1 302.6Z" fill="#ff4a00"/>
<path d="M336.6 459.4H340.8L338.7 463.5Z" fill="#ff4a00"/>
<path d="M394.7 331.5H399.0L396.9 335.6Z" fill="#ff4a00"/>
<path d="M383.1 339.7H387.4L385.3 343.8Z" fill="#ff4a00"/>
<path d="M380.1 357.4H384.4L382.3 361.5Z" fill="#ff4a00"/>
<path d="M377.5 367.4H381.8L379.7 371.5Z" fill="#ff4a00"/>
<path d="M369.5 377.7H373.8L371.7 381.8Z" fill="#ff4a00"/>
<path d="M368.6 380.0H372.9L370.8 384.1Z" fill="#ff4a00"/>
<path d="M370.9 380.1H375.2L373.0 384.2Z" fill="#ff4a00"/>
<path d="M379.3 374.9H383.6L381.4 379.0Z" fill="#ff4a00"/>
<path d="M370.9 394.9H375.2L373.0 399.0Z" fill="#ff4a00"/>
<path d="M364.2 398.6H368.5L366.3 402.7Z" fill="#ff4a00"/>
<path d="M366.5 397.0H370.8L368.7 401.1Z" fill="#ff4a00"/>
<path d="M366.2 395.9H370.5L368.3 400.0Z" fill="#ff4a00"/>
<path d="M362.2 390.7H366.5L364.3 394.8Z" fill="#ff4a00"/>
<path d="M363.9 393.6H368.2L366.0 397.7Z" fill="#ff4a00"/>
<path d="M370.1 395.1H374.4L372.3 399.2Z" fill="#ff4a00"/>
<path d="M371.6 391.5H375.9L373.8 395.6Z" fill="#ff4a00"/>
<path d="M373.2 391.0H377.5L375.4 395.1Z" fill="#ff4a00"/>
<path d="M370.5 392.6H374.8L372.6 396.7Z" fill="#ff4a00"/>
<path d="M348.7 410.5H353.0L350.8 414.5Z" fill="#ff4a00"/>
<path d="M358.3 413.7H362.6L360.4 417.8Z" fill="#ff4a00"/>
<path d="M359.7 411.4H364.0L361.9 415.4Z" fill="#ff4a00"/>
<path d="M346.3 424.5H350.6L348.5 428.6Z" fill="#ff4a00"/>
<path d="M365.5 411.9H369.8L367.7 415.9Z" fill="#ff4a00"/>
<path d="M357.3 412.2H361.6L359.4 416.3Z" fill="#ff4a00"/>
<path d="M361.7 412.1H366.0L363.9 416.2Z" fill="#ff4a00"/>
<path d="M358.0 418.1H362.3L360.2 422.2Z" fill="#ff4a00"/>
<path d="M358.8 415.3H363.1L360.9 419.4Z" fill="#ff4a00"/>
<path d="M358.8 421.6H363.1L360.9 425.7Z" fill="#ff4a00"/>
<path d="M346.1 434.5H350.4L348.2 438.6Z" fill="#ff4a00"/>
<path d="M351.8 431.9H356.1L353.9 435.9Z" fill="#ff4a00"/>
<path d="M348.0 435.4H352.3L350.2 439.5Z" fill="#ff4a00"/>
<path d="M339.0 440.0H343.3L341.1 444.1Z" fill="#ff4a00"/>
<path d="M345.4 431.8H349.7L347.6 435.9Z" fill="#ff4a00"/>
<path d="M339.1 440.0H343.4L341.2 444.1Z" fill="#ff4a00"/>
<path d="M338.0 437.5H342.3L340.1 441.6Z" fill="#ff4a00"/>
<path d="M329.0 457.0H333.3L331.2 461.1Z" fill="#ff4a00"/>
<path d="M338.6 454.3H342.9L340.7 458.4Z" fill="#ff4a00"/>
<path d="M332.0 452.1H336.3L334.2 456.2Z" fill="#ff4a00"/>
<path d="M339.4 456.6H343.7L341.6 460.7Z" fill="#ff4a00"/>
<path d="M332.0 461.5H336.3L334.1 465.6Z" fill="#ff4a00"/>
<path d="M331.0 463.4H335.3L333.2 467.4Z" fill="#ff4a00"/>
<path d="M380.7 392.2H384.9L382.8 388.1Z" fill="#7570b3"/>
<path d="M385.2 393.7H389.4L387.3 389.6Z" fill="#7570b3"/>
<path d="M379.2 407.2H383.4L381.3 403.1Z" fill="#7570b3"/>
<path d="M386.7 405.7H390.9L388.8 401.6Z" fill="#7570b3"/>
<path d="M373.9 416.9H378.1L376.0 412.8Z" fill="#7570b3"/>
<path d="M383.7 418.4H387.9L385.8 414.3Z" fill="#7570b3"/>
<path d="M388.2 416.1H392.4L390.3 412.0Z" fill="#7570b3"/>
<path d="M393.4 411.6H397.6L395.5 407.5Z" fill="#7570b3"/>
<path d="M370.2 420.6H374.4L372.3 416.5Z" fill="#7570b3"/>
<path d="M377.7 423.6H381.9L379.8 419.5Z" fill="#7570b3"/>
<path d="M383.7 426.6H387.9L385.8 422.5Z" fill="#7570b3"/>
<path d="M388.2 426.6H392.4L390.3 422.5Z" fill="#7570b3"/>
<path d="M392.6 425.1H396.8L394.7 421.0Z" fill="#7570b3"/>
<path d="M369.5 431.1H373.8L371.6 427.0Z" fill="#7570b3"/>
<path d="M373.9 435.6H378.1L376.0 431.5Z" fill="#7570b3"/>
<path d="M365.7 437.1H369.9L367.8 433.0Z" fill="#7570b3"/>
<path d="M362.7 444.5H366.9L364.8 440.4Z" fill="#7570b3"/>
<path d="M368.0 444.5H372.2L370.1 440.4Z" fill="#7570b3"/>
<path d="M377.7 440.0H381.9L379.8 435.9Z" fill="#7570b3"/>
<path d="M473.9 302.7H478.1L476.0 298.6Z" fill="#7570b3"/>
<path d="M415.0 316.3H419.2L417.1 312.2Z" fill="#7570b3"/>
<path d="M444.4 317.1H448.6L446.5 313.0Z" fill="#7570b3"/>
<path d="M429.1 321.4H433.3L431.2 317.3Z" fill="#7570b3"/>
<path d="M457.1 321.4H461.3L459.2 317.3Z" fill="#7570b3"/>
<path d="M442.2 329.8H446.4L444.3 325.7Z" fill="#7570b3"/>
<path d="M417.9 334.5H422.1L420.0 330.4Z" fill="#7570b3"/>
<path d="M411.2 342.9H415.5L413.4 338.8Z" fill="#7570b3"/>
<path d="M404.8 347.5H409.0L406.9 343.4Z" fill="#7570b3"/>
<path d="M428.1 345.7H432.3L430.2 341.6Z" fill="#7570b3"/>
<path d="M430.9 356.0H435.1L433.0 351.9Z" fill="#7570b3"/>
<path d="M418.8 357.8H423.0L420.9 353.7Z" fill="#7570b3"/>
<path d="M438.4 358.8H442.6L440.5 354.7Z" fill="#7570b3"/>
<path d="M405.7 368.1H409.9L407.8 364.0Z" fill="#7570b3"/>
<path d="M403.8 376.5H408.0L405.9 372.4Z" fill="#7570b3"/>
<path d="M400.4 335.0H404.6L402.5 330.9Z" fill="#7570b3"/>
<path d="M411.0 342.9H415.2L413.1 338.8Z" fill="#7570b3"/>
<path d="M404.5 348.5H408.8L406.6 344.4Z" fill="#7570b3"/>
<path d="M393.2 371.8H397.5L395.4 367.7Z" fill="#7570b3"/>
<path d="M400.8 373.7H405.0L402.9 369.6Z" fill="#7570b3"/>
<path d="M402.6 377.5H406.8L404.7 373.4Z" fill="#7570b3"/>
<path d="M406.4 371.8H410.6L408.5 367.7Z" fill="#7570b3"/>
<path d="M393.2 384.9H397.5L395.4 380.8Z" fill="#7570b3"/>
<path d="M398.9 383.1H403.1L401.0 379.0Z" fill="#7570b3"/>
<path d="M398.1 385.1H402.3L400.2 381.0Z" fill="#7570b3"/>
<path d="M392.6 386.2H396.8L394.7 382.1Z" fill="#7570b3"/>
<path d="M381.7 392.7H385.9L383.8 388.6Z" fill="#7570b3"/>
<path d="M395.9 396.0H400.1L398.0 391.9Z" fill="#7570b3"/>
<path d="M403.5 399.3H407.8L405.6 395.2Z" fill="#7570b3"/>
<path d="M394.8 403.6H399.0L396.9 399.5Z" fill="#7570b3"/>
<path d="M377.2 408.0H381.5L379.4 403.9Z" fill="#7570b3"/>
<path d="M385.0 411.3H389.2L387.1 407.2Z" fill="#7570b3"/>
<path d="M374.0 416.7H378.2L376.1 412.6Z" fill="#7570b3"/>
<path d="M382.8 418.9H387.0L384.9 414.8Z" fill="#7570b3"/>
<path d="M386.0 422.2H390.2L388.1 418.1Z" fill="#7570b3"/>
<path d="M388.2 426.6H392.4L390.3 422.5Z" fill="#7570b3"/>
<path d="M369.7 422.2H373.9L371.8 418.1Z" fill="#7570b3"/>
<path d="M378.4 424.4H382.6L380.5 420.3Z" fill="#7570b3"/>
<path d="M362.0 428.7H366.2L364.1 424.6Z" fill="#7570b3"/>
<path d="M369.7 430.9H373.9L371.8 426.8Z" fill="#7570b3"/>
<path d="M371.9 435.3H376.1L374.0 431.2Z" fill="#7570b3"/>
<path d="M365.2 437.5H369.5L367.4 433.4Z" fill="#7570b3"/>
<path d="M377.2 440.8H381.5L379.4 436.7Z" fill="#7570b3"/>
<path d="M363.1 445.1H367.3L365.2 441.0Z" fill="#7570b3"/>
<path d="M368.6 445.1H372.8L370.7 441.0Z" fill="#7570b3"/>
<path d="M359.9 454.9H364.1L362.0 450.8Z" fill="#7570b3"/>
<path d="M347.8 463.7H352.0L349.9 459.6Z" fill="#7570b3"/>
<path d="M336.9 465.9H341.1L339.0 461.8Z" fill="#7570b3"/>
<path d="M344.6 453.8H348.8L346.7 449.7Z" fill="#7570b3"/>
<path d="M336.6 465.6H340.8L338.7 461.5Z" fill="#7570b3"/>
<path d="M348.4 463.0H352.6L350.5 458.9Z" fill="#7570b3"/>
<path d="M344.8 454.1H349.0L346.9 450.0Z" fill="#7570b3"/>
<path d="M360.1 455.4H364.3L362.2 451.3Z" fill="#7570b3"/>
<path d="M362.7 445.8H366.9L364.8 441.7Z" fill="#7570b3"/>
<path d="M356.2 437.5H360.5L358.4 433.4Z" fill="#7570b3"/>
<path d="M365.9 437.5H370.1L368.0 433.4Z" fill="#7570b3"/>
<rect x="326.2" y="298.1" width="3.8" height="3.8" fill="#ff1a8c"/>
<rect x="329.0" y="312.6" width="3.8" height="3.8" fill="#ff1a8c"/>
<rect x="327.1" y="313.9" width="3.8" height="3.8" fill="#ff1a8c"/>
<rect x="322.4" y="317.7" width="3.8" height="3.8" fill="#ff1a8c"/>
<rect x="326.2" y="318.6" width="3.8" height="3.8" fill="#ff1a8c"/>
<rect x="325.2" y="323.8" width="3.8" height="3.8" fill="#ff1a8c"/>
<rect x="324.3" y="326.1" width="3.8" height="3.8" fill="#ff1a8c"/>
<rect x="327.1" y="330.8" width="3.8" height="3.8" fill="#ff1a8c"/>
<rect x="324.3" y="339.2" width="3.8" height="3.8" fill="#ff1a8c"/>
<rect x="321.5" y="342.0" width="3.8" height="3.8" fill="#ff1a8c"/>
<rect x="327.1" y="343.8" width="3.8" height="3.8" fill="#ff1a8c"/>
<rect x="318.7" y="354.1" width="3.8" height="3.8" fill="#ff1a8c"/>
<rect x="321.5" y="355.1" width="3.8" height="3.8" fill="#ff1a8c"/>
<rect x="324.3" y="357.9" width="3.8" height="3.8" fill="#ff1a8c"/>
<rect x="324.3" y="363.5" width="3.8" height="3.8" fill="#ff1a8c"/>
<rect x="321.5" y="365.3" width="3.8" height="3.8" fill="#ff1a8c"/>
<rect x="315.9" y="371.0" width="3.8" height="3.8" fill="#ff1a8c"/>
<rect x="319.6" y="371.9" width="3.8" height="3.8" fill="#ff1a8c"/>
<rect x="316.8" y="374.7" width="3.8" height="3.8" fill="#ff1a8c"/>
<rect x="320.6" y="375.6" width="3.8" height="3.8" fill="#ff1a8c"/>
<rect x="317.8" y="380.3" width="3.8" height="3.8" fill="#ff1a8c"/>
<rect x="317.5" y="391.2" width="3.8" height="3.8" fill="#ff1a8c"/>
<rect x="319.7" y="393.4" width="3.8" height="3.8" fill="#ff1a8c"/>
<rect x="316.4" y="399.9" width="3.8" height="3.8" fill="#ff1a8c"/>
<rect x="314.2" y="406.5" width="3.8" height="3.8" fill="#ff1a8c"/>
<rect x="317.5" y="410.9" width="3.8" height="3.8" fill="#ff1a8c"/>
<rect x="319.7" y="413.0" width="3.8" height="3.8" fill="#ff1a8c"/>
<rect x="315.3" y="415.2" width="3.8" height="3.8" fill="#ff1a8c"/>
<rect x="317.5" y="418.5" width="3.8" height="3.8" fill="#ff1a8c"/>
<rect x="314.2" y="421.8" width="3.8" height="3.8" fill="#ff1a8c"/>
<rect x="314.2" y="434.9" width="3.8" height="3.8" fill="#ff1a8c"/>
<rect x="314.2" y="445.8" width="3.8" height="3.8" fill="#ff1a8c"/>
<rect x="314.2" y="458.9" width="3.8" height="3.8" fill="#ff1a8c"/>
<rect x="313.8" y="459.3" width="3.8" height="3.8" fill="#ff1a8c"/>
<rect x="313.8" y="450.4" width="3.8" height="3.8" fill="#ff1a8c"/>
<rect x="313.6" y="440.8" width="3.8" height="3.8" fill="#ff1a8c"/>
<rect x="313.6" y="430.6" width="3.8" height="3.8" fill="#ff1a8c"/>
<rect x="322.1" y="334.1" width="3.8" height="3.8" fill="#ff1a8c"/>
<rect x="325.1" y="348.1" width="3.8" height="3.8" fill="#ff1a8c"/>
<rect x="320.1" y="360.1" width="3.8" height="3.8" fill="#ff1a8c"/>
<rect x="316.1" y="384.1" width="3.8" height="3.8" fill="#ff1a8c"/>
<rect x="318.1" y="388.1" width="3.8" height="3.8" fill="#ff1a8c"/>
<rect x="315.1" y="396.1" width="3.8" height="3.8" fill="#ff1a8c"/>
<rect x="320.1" y="402.1" width="3.8" height="3.8" fill="#ff1a8c"/>
<rect x="314.1" y="426.1" width="3.8" height="3.8" fill="#ff1a8c"/>
<rect x="321.1" y="394.6" width="3.8" height="3.8" fill="#ff1a8c"/>
<rect x="323.8" y="391.0" width="3.8" height="3.8" fill="#ff1a8c"/>
<rect x="322.7" y="393.3" width="3.8" height="3.8" fill="#ff1a8c"/>
<rect x="317.7" y="379.9" width="3.8" height="3.8" fill="#ff1a8c"/>
<rect x="321.4" y="380.6" width="3.8" height="3.8" fill="#ff1a8c"/>
<rect x="317.9" y="396.0" width="3.8" height="3.8" fill="#ff1a8c"/>
<rect x="319.7" y="387.5" width="3.8" height="3.8" fill="#ff1a8c"/>
<rect x="323.6" y="383.2" width="3.8" height="3.8" fill="#ff1a8c"/>
<circle cx="377.6" cy="300.0" r="1.75" fill="#28a028"/>
<circle cx="365.5" cy="314.5" r="1.75" fill="#28a028"/>
<circle cx="371.1" cy="314.9" r="1.75" fill="#28a028"/>
<circle cx="367.3" cy="319.6" r="1.75" fill="#28a028"/>
<circle cx="371.1" cy="320.5" r="1.75" fill="#28a028"/>
<circle cx="369.2" cy="328.0" r="1.75" fill="#28a028"/>
<circle cx="358.9" cy="332.7" r="1.75" fill="#28a028"/>
<circle cx="364.5" cy="332.7" r="1.75" fill="#28a028"/>
<circle cx="360.8" cy="341.1" r="1.75" fill="#28a028"/>
<circle cx="363.6" cy="343.9" r="1.75" fill="#28a028"/>
<circle cx="360.8" cy="346.7" r="1.75" fill="#28a028"/>
<circle cx="364.5" cy="355.1" r="1.75" fill="#28a028"/>
<circle cx="360.8" cy="357.0" r="1.75" fill="#28a028"/>
<circle cx="349.6" cy="359.8" r="1.75" fill="#28a028"/>
<circle cx="359.9" cy="366.3" r="1.75" fill="#28a028"/>
<circle cx="354.3" cy="370.0" r="1.75" fill="#28a028"/>
<circle cx="353.3" cy="372.9" r="1.75" fill="#28a028"/>
<circle cx="352.4" cy="376.6" r="1.75" fill="#28a028"/>
<circle cx="351.4" cy="382.2" r="1.75" fill="#28a028"/>
<circle cx="325.9" cy="463.8" r="1.75" fill="#28a028"/>
<circle cx="345.9" cy="384.0" r="1.75" fill="#28a028"/>
<circle cx="346.6" cy="378.9" r="1.75" fill="#28a028"/>
<circle cx="351.6" cy="377.0" r="1.75" fill="#28a028"/>
<circle cx="349.0" cy="377.5" r="1.75" fill="#28a028"/>
<circle cx="340.4" cy="400.5" r="1.75" fill="#28a028"/>
<circle cx="342.8" cy="397.4" r="1.75" fill="#28a028"/>
<circle cx="350.2" cy="389.3" r="1.75" fill="#28a028"/>
<circle cx="340.3" cy="395.1" r="1.75" fill="#28a028"/>
<circle cx="339.8" cy="397.2" r="1.75" fill="#28a028"/>
<circle cx="349.2" cy="388.6" r="1.75" fill="#28a028"/>
<circle cx="338.7" cy="400.6" r="1.75" fill="#28a028"/>
<circle cx="347.1" cy="395.5" r="1.75" fill="#28a028"/>
<circle cx="340.6" cy="401.1" r="1.75" fill="#28a028"/>
<circle cx="337.9" cy="418.6" r="1.75" fill="#28a028"/>
<circle cx="338.7" cy="423.5" r="1.75" fill="#28a028"/>
<circle cx="338.6" cy="423.8" r="1.75" fill="#28a028"/>
<circle cx="340.4" cy="413.2" r="1.75" fill="#28a028"/>
<circle cx="334.2" cy="427.6" r="1.75" fill="#28a028"/>
<circle cx="334.5" cy="424.4" r="1.75" fill="#28a028"/>
<circle cx="336.1" cy="419.4" r="1.75" fill="#28a028"/>
<circle cx="339.8" cy="421.8" r="1.75" fill="#28a028"/>
<circle cx="336.4" cy="423.0" r="1.75" fill="#28a028"/>
<circle cx="338.4" cy="423.4" r="1.75" fill="#28a028"/>
<circle cx="325.7" cy="437.0" r="1.75" fill="#28a028"/>
<circle cx="330.4" cy="437.9" r="1.75" fill="#28a028"/>
<circle cx="332.9" cy="434.9" r="1.75" fill="#28a028"/>
<circle cx="330.5" cy="437.3" r="1.75" fill="#28a028"/>
<circle cx="335.4" cy="442.0" r="1.75" fill="#28a028"/>
<circle cx="329.0" cy="436.1" r="1.75" fill="#28a028"/>
<circle cx="331.1" cy="442.8" r="1.75" fill="#28a028"/>
<circle cx="328.4" cy="455.4" r="1.75" fill="#28a028"/>
<circle cx="323.9" cy="456.2" r="1.75" fill="#28a028"/>
<circle cx="329.3" cy="452.1" r="1.75" fill="#28a028"/>
<circle cx="327.0" cy="456.3" r="1.75" fill="#28a028"/>
<circle cx="330.7" cy="464.8" r="1.75" fill="#28a028"/>
<circle cx="327.6" cy="463.0" r="1.75" fill="#28a028"/>
<circle cx="390.0" cy="353.9" r="1.75" fill="#ffa500"/>
<circle cx="367.3" cy="369.9" r="1.75" fill="#ffa500"/>
<circle cx="363.7" cy="401.8" r="1.75" fill="#ffa500"/>
<circle cx="355.9" cy="395.1" r="1.75" fill="#ffa500"/>
<circle cx="340.7" cy="418.3" r="1.75" fill="#ffa500"/>
<circle cx="352.2" cy="413.4" r="1.75" fill="#ffa500"/>
<circle cx="337.2" cy="442.4" r="1.75" fill="#ffa500"/>
<circle cx="391.8" cy="314.0" r="2.00" fill="#a6761d"/>
<circle cx="385.3" cy="327.2" r="2.00" fill="#a6761d"/>
<circle cx="378.1" cy="358.7" r="2.00" fill="#a6761d"/>
<circle cx="363.4" cy="369.3" r="2.00" fill="#a6761d"/>
<circle cx="361.5" cy="383.2" r="2.00" fill="#a6761d"/>
<circle cx="356.7" cy="399.8" r="2.00" fill="#a6761d"/>
<circle cx="368.6" cy="390.6" r="2.00" fill="#a6761d"/>
<circle cx="356.8" cy="423.6" r="2.00" fill="#a6761d"/>
<circle cx="350.5" cy="423.2" r="2.00" fill="#a6761d"/>
<circle cx="344.6" cy="435.6" r="2.00" fill="#a6761d"/>
<path d="M382.3 311.9L384.1 314.5L382.3 317.1L380.6 314.5Z" fill="#ff0000"/>
<path d="M399.1 311.9L400.9 314.5L399.1 317.1L397.4 314.5Z" fill="#ff0000"/>
<path d="M392.6 317.0L394.4 319.6L392.6 322.2L390.9 319.6Z" fill="#ff0000"/>
<path d="M397.2 324.4L398.9 327.0L397.2 329.6L395.4 327.0Z" fill="#ff0000"/>
<path d="M374.8 330.1L376.6 332.7L374.8 335.3L373.1 332.7Z" fill="#ff0000"/>
<path d="M374.8 339.4L376.6 342.0L374.8 344.6L373.1 342.0Z" fill="#ff0000"/>
<path d="M381.4 339.4L383.1 342.0L381.4 344.6L379.6 342.0Z" fill="#ff0000"/>
<path d="M386.0 353.4L387.8 356.0L386.0 358.6L384.2 356.0Z" fill="#ff0000"/>
<path d="M358.0 357.2L359.8 359.8L358.0 362.4L356.2 359.8Z" fill="#ff0000"/>
<path d="M362.7 366.5L364.4 369.1L362.7 371.8L360.9 369.1Z" fill="#ff0000"/>
<path d="M361.7 380.5L363.4 383.1L361.7 385.8L359.9 383.1Z" fill="#ff0000"/>
<path d="M416.2 297.7L417.9 300.3L416.2 302.9L414.4 300.3Z" fill="#ff0000"/>
<path d="M327.8 461.2L329.6 463.8L327.8 466.4L326.1 463.8Z" fill="#ff0000"/>
<path d="M404.5 311.9L406.3 314.5L404.5 317.2L402.8 314.5Z" fill="#ff0000"/>
<path d="M397.6 317.2L399.4 319.9L397.6 322.5L395.9 319.9Z" fill="#ff0000"/>
<path d="M385.1 324.0L386.9 326.6L385.1 329.3L383.4 326.6Z" fill="#ff0000"/>
<path d="M378.7 338.1L380.5 340.8L378.7 343.4L377.0 340.8Z" fill="#ff0000"/>
<path d="M387.7 343.4L389.4 346.1L387.7 348.7L385.9 346.1Z" fill="#ff0000"/>
<path d="M375.0 352.2L376.8 354.8L375.0 357.5L373.3 354.8Z" fill="#ff0000"/>
<path d="M364.5 355.8L366.3 358.4L364.5 361.1L362.8 358.4Z" fill="#ff0000"/>
<path d="M380.7 367.1L382.5 369.7L380.7 372.4L379.0 369.7Z" fill="#ff0000"/>
<path d="M368.0 373.0L369.7 375.6L368.0 378.3L366.2 375.6Z" fill="#ff0000"/>
<path d="M365.1 380.2L366.9 382.8L365.1 385.5L363.4 382.8Z" fill="#ff0000"/>
<path d="M368.2 374.6L370.0 377.3L368.2 379.9L366.5 377.3Z" fill="#ff0000"/>
<path d="M361.4 380.9L363.1 383.6L361.4 386.2L359.6 383.6Z" fill="#ff0000"/>
<path d="M359.1 374.9L360.8 377.5L359.1 380.2L357.3 377.5Z" fill="#ff0000"/>
<path d="M358.7 378.6L360.4 381.2L358.7 383.9L356.9 381.2Z" fill="#ff0000"/>
<path d="M363.2 373.4L365.0 376.1L363.2 378.7L361.5 376.1Z" fill="#ff0000"/>
<path d="M368.6 375.4L370.4 378.1L368.6 380.7L366.9 378.1Z" fill="#ff0000"/>
<path d="M362.0 377.3L363.8 379.9L362.0 382.6L360.3 379.9Z" fill="#ff0000"/>
<path d="M369.2 377.0L370.9 379.7L369.2 382.3L367.4 379.7Z" fill="#ff0000"/>
<path d="M359.0 399.2L360.8 401.9L359.0 404.5L357.3 401.9Z" fill="#ff0000"/>
<path d="M368.0 386.3L369.7 389.0L368.0 391.6L366.2 389.0Z" fill="#ff0000"/>
<path d="M367.0 388.6L368.8 391.3L367.0 393.9L365.3 391.3Z" fill="#ff0000"/>
<path d="M348.0 388.1L349.8 390.7L348.0 393.4L346.3 390.7Z" fill="#ff0000"/>
<path d="M362.5 398.8L364.3 401.4L362.5 404.1L360.8 401.4Z" fill="#ff0000"/>
<path d="M356.9 397.3L358.6 399.9L356.9 402.6L355.1 399.9Z" fill="#ff0000"/>
<path d="M360.2 389.8L361.9 392.4L360.2 395.1L358.4 392.4Z" fill="#ff0000"/>
<path d="M355.8 391.5L357.6 394.2L355.8 396.8L354.1 394.2Z" fill="#ff0000"/>
<path d="M360.0 391.3L361.8 393.9L360.0 396.6L358.3 393.9Z" fill="#ff0000"/>
<path d="M361.7 386.4L363.4 389.1L361.7 391.7L359.9 389.1Z" fill="#ff0000"/>
<path d="M355.4 392.1L357.2 394.7L355.4 397.4L353.7 394.7Z" fill="#ff0000"/>
<path d="M348.9 394.4L350.6 397.0L348.9 399.7L347.1 397.0Z" fill="#ff0000"/>
<path d="M367.1 386.8L368.9 389.5L367.1 392.1L365.4 389.5Z" fill="#ff0000"/>
<path d="M362.2 389.7L363.9 392.3L362.2 395.0L360.4 392.3Z" fill="#ff0000"/>
<path d="M352.1 395.9L353.8 398.6L352.1 401.2L350.3 398.6Z" fill="#ff0000"/>
<path d="M355.0 394.9L356.7 397.6L355.0 400.2L353.2 397.6Z" fill="#ff0000"/>
<path d="M363.2 389.5L365.0 392.2L363.2 394.8L361.5 392.2Z" fill="#ff0000"/>
<path d="M353.1 398.3L354.8 400.9L353.1 403.6L351.3 400.9Z" fill="#ff0000"/>
<path d="M360.8 390.2L362.5 392.9L360.8 395.5L359.0 392.9Z" fill="#ff0000"/>
<path d="M362.2 394.2L364.0 396.9L362.2 399.5L360.5 396.9Z" fill="#ff0000"/>
<path d="M363.3 390.1L365.1 392.8L363.3 395.4L361.6 392.8Z" fill="#ff0000"/>
<path d="M361.0 385.4L362.8 388.0L361.0 390.7L359.3 388.0Z" fill="#ff0000"/>
<path d="M339.8 423.0L341.5 425.6L339.8 428.3L338.0 425.6Z" fill="#ff0000"/>
<path d="M345.8 415.2L347.5 417.9L345.8 420.5L344.0 417.9Z" fill="#ff0000"/>
<path d="M348.7 419.9L350.4 422.6L348.7 425.2L346.9 422.6Z" fill="#ff0000"/>
<path d="M346.4 415.8L348.2 418.4L346.4 421.1L344.7 418.4Z" fill="#ff0000"/>
<path d="M352.5 420.4L354.3 423.0L352.5 425.7L350.8 423.0Z" fill="#ff0000"/>
<path d="M357.0 412.4L358.7 415.0L357.0 417.7L355.2 415.0Z" fill="#ff0000"/>
<path d="M353.5 416.8L355.3 419.5L353.5 422.1L351.8 419.5Z" fill="#ff0000"/>
<path d="M349.5 417.9L351.3 420.6L349.5 423.2L347.8 420.6Z" fill="#ff0000"/>
<path d="M343.1 413.1L344.8 415.8L343.1 418.4L341.3 415.8Z" fill="#ff0000"/>
<path d="M356.6 412.4L358.3 415.1L356.6 417.7L354.8 415.1Z" fill="#ff0000"/>
<path d="M350.6 416.0L352.4 418.6L350.6 421.3L348.9 418.6Z" fill="#ff0000"/>
<path d="M344.6 415.2L346.3 417.8L344.6 420.5L342.8 417.8Z" fill="#ff0000"/>
<path d="M346.2 409.7L348.0 412.3L346.2 415.0L344.5 412.3Z" fill="#ff0000"/>
<path d="M341.4 422.3L343.1 424.9L341.4 427.6L339.6 424.9Z" fill="#ff0000"/>
<path d="M347.7 416.4L349.4 419.0L347.7 421.7L345.9 419.0Z" fill="#ff0000"/>
<path d="M339.7 418.0L341.4 420.7L339.7 423.3L337.9 420.7Z" fill="#ff0000"/>
<path d="M349.1 423.1L350.9 425.7L349.1 428.4L347.4 425.7Z" fill="#ff0000"/>
<path d="M346.3 414.5L348.0 417.1L346.3 419.8L344.5 417.1Z" fill="#ff0000"/>
<path d="M346.1 423.6L347.9 426.2L346.1 428.9L344.4 426.2Z" fill="#ff0000"/>
<path d="M337.6 419.9L339.4 422.5L337.6 425.2L335.9 422.5Z" fill="#ff0000"/>
<path d="M357.7 422.1L359.5 424.8L357.7 427.4L356.0 424.8Z" fill="#ff0000"/>
<path d="M351.2 417.2L353.0 419.8L351.2 422.5L349.5 419.8Z" fill="#ff0000"/>
<path d="M337.7 434.9L339.4 437.5L337.7 440.2L335.9 437.5Z" fill="#ff0000"/>
<path d="M332.6 435.1L334.4 437.8L332.6 440.4L330.9 437.8Z" fill="#ff0000"/>
<path d="M343.2 438.6L344.9 441.2L343.2 443.9L341.4 441.2Z" fill="#ff0000"/>
<path d="M338.1 431.0L339.8 433.7L338.1 436.3L336.3 433.7Z" fill="#ff0000"/>
<path d="M336.6 434.0L338.3 436.6L336.6 439.3L334.8 436.6Z" fill="#ff0000"/>
<path d="M331.1 440.8L332.9 443.5L331.1 446.1L329.4 443.5Z" fill="#ff0000"/>
<path d="M329.5 441.0L331.2 443.6L329.5 446.3L327.7 443.6Z" fill="#ff0000"/>
<path d="M336.5 437.5L338.2 440.1L336.5 442.8L334.7 440.1Z" fill="#ff0000"/>
<path d="M338.7 433.8L340.4 436.5L338.7 439.1L336.9 436.5Z" fill="#ff0000"/>
<path d="M334.0 439.3L335.7 442.0L334.0 444.6L332.2 442.0Z" fill="#ff0000"/>
<path d="M335.2 430.3L336.9 433.0L335.2 435.6L333.4 433.0Z" fill="#ff0000"/>
<path d="M345.6 433.2L347.4 435.9L345.6 438.5L343.9 435.9Z" fill="#ff0000"/>
<path d="M347.9 429.4L349.7 432.1L347.9 434.7L346.2 432.1Z" fill="#ff0000"/>
<path d="M331.6 440.1L333.4 442.8L331.6 445.4L329.9 442.8Z" fill="#ff0000"/>
<path d="M335.0 453.4L336.8 456.0L335.0 458.7L333.3 456.0Z" fill="#ff0000"/>
<path d="M330.9 450.1L332.6 452.8L330.9 455.4L329.1 452.8Z" fill="#ff0000"/>
<path d="M328.3 454.4L330.1 457.1L328.3 459.7L326.6 457.1Z" fill="#ff0000"/>
<path d="M340.1 449.6L341.8 452.3L340.1 454.9L338.3 452.3Z" fill="#ff0000"/>
<path d="M338.7 451.4L340.5 454.0L338.7 456.7L337.0 454.0Z" fill="#ff0000"/>
<path d="M329.3 448.8L331.1 451.5L329.3 454.1L327.6 451.5Z" fill="#ff0000"/>
<path d="M333.0 451.9L334.7 454.6L333.0 457.2L331.2 454.6Z" fill="#ff0000"/>
<path d="M322.8 460.7L324.5 463.3L322.8 466.0L321.0 463.3Z" fill="#ff0000"/>
<path d="M318.1 460.6L319.9 463.3L318.1 465.9L316.4 463.3Z" fill="#ff0000"/>
<path d="M329.2 461.3L331.0 464.0L329.2 466.6L327.5 464.0Z" fill="#ff0000"/>
<path d="M326.4 463.1L328.2 465.8L326.4 468.4L324.7 465.8Z" fill="#ff0000"/>
<path d="M385.9 312.1V316.9L390.4 314.5Z" fill="#0000ff"/>
<path d="M403.7 312.1V316.9L408.2 314.5Z" fill="#0000ff"/>
<path d="M407.4 312.1V316.9L411.9 314.5Z" fill="#0000ff"/>
<path d="M398.0 317.2V322.0L402.5 319.6Z" fill="#0000ff"/>
<path d="M396.2 324.6V329.4L400.7 327.0Z" fill="#0000ff"/>
<path d="M376.6 330.3V335.1L381.1 332.7Z" fill="#0000ff"/>
<path d="M389.6 330.3V335.1L394.1 332.7Z" fill="#0000ff"/>
<path d="M377.5 339.6V344.4L382.0 342.0Z" fill="#0000ff"/>
<path d="M386.8 339.6V344.4L391.3 342.0Z" fill="#0000ff"/>
<path d="M391.5 339.6V344.4L396.0 342.0Z" fill="#0000ff"/>
<path d="M382.2 353.6V358.4L386.7 356.0Z" fill="#0000ff"/>
<path d="M383.1 352.7V357.5L387.6 355.1Z" fill="#0000ff"/>
<path d="M386.8 357.4V362.2L391.3 359.8Z" fill="#0000ff"/>
<path d="M365.3 366.7V371.5L369.8 369.1Z" fill="#0000ff"/>
<path d="M369.1 366.7V371.5L373.6 369.1Z" fill="#0000ff"/>
<path d="M369.1 373.3V378.1L373.6 375.7Z" fill="#0000ff"/>
<path d="M363.5 380.7V385.5L368.0 383.1Z" fill="#0000ff"/>
<path d="M369.1 380.7V385.5L373.6 383.1Z" fill="#0000ff"/>
<path d="M419.8 297.9V302.7L424.3 300.3Z" fill="#0000ff"/>
<path d="M327.7 461.4V466.2L332.2 463.8Z" fill="#0000ff"/>
<path d="M396.5 312.5V317.3L401.0 314.9Z" fill="#0000ff"/>
<path d="M397.4 318.6V323.4L402.0 321.0Z" fill="#0000ff"/>
<path d="M389.6 331.0V335.8L394.1 333.4Z" fill="#0000ff"/>
<path d="M382.0 339.0V343.8L386.5 341.4Z" fill="#0000ff"/>
<path d="M380.1 342.6V347.4L384.7 345.0Z" fill="#0000ff"/>
<path d="M366.0 352.6V357.4L370.6 355.0Z" fill="#0000ff"/>
<path d="M369.7 366.6V371.4L374.3 369.0Z" fill="#0000ff"/>
<path d="M369.7 373.0V377.8L374.3 375.4Z" fill="#0000ff"/>
<path d="M370.1 380.5V385.3L374.7 382.9Z" fill="#0000ff"/>
<path d="M367.0 375.0V379.8L371.5 377.4Z" fill="#0000ff"/>
<path d="M366.9 376.4V381.2L371.4 378.8Z" fill="#0000ff"/>
<path d="M368.9 377.9V382.7L373.5 380.3Z" fill="#0000ff"/>
<path d="M358.9 375.6V380.4L363.4 378.0Z" fill="#0000ff"/>
<path d="M362.4 379.5V384.3L367.0 381.9Z" fill="#0000ff"/>
<path d="M365.8 374.1V378.9L370.4 376.5Z" fill="#0000ff"/>
<path d="M369.1 378.2V383.0L373.7 380.6Z" fill="#0000ff"/>
<path d="M368.9 377.1V381.9L373.4 379.5Z" fill="#0000ff"/>
<path d="M357.0 392.8V397.6L361.5 395.2Z" fill="#0000ff"/>
<path d="M369.7 389.3V394.1L374.2 391.7Z" fill="#0000ff"/>
<path d="M355.5 396.5V401.3L360.1 398.9Z" fill="#0000ff"/>
<path d="M359.6 386.1V390.9L364.2 388.5Z" fill="#0000ff"/>
<path d="M363.8 388.4V393.2L368.4 390.8Z" fill="#0000ff"/>
<path d="M353.3 399.3V404.1L357.9 401.7Z" fill="#0000ff"/>
<path d="M365.3 393.1V397.9L369.9 395.5Z" fill="#0000ff"/>
<path d="M364.5 386.3V391.1L369.0 388.7Z" fill="#0000ff"/>
<path d="M353.6 398.7V403.5L358.2 401.1Z" fill="#0000ff"/>
<path d="M370.8 391.5V396.3L375.4 393.9Z" fill="#0000ff"/>
<path d="M360.4 387.9V392.7L365.0 390.3Z" fill="#0000ff"/>
<path d="M357.7 396.5V401.3L362.3 398.9Z" fill="#0000ff"/>
<path d="M360.1 395.1V399.9L364.6 397.5Z" fill="#0000ff"/>
<path d="M363.3 388.8V393.6L367.9 391.2Z" fill="#0000ff"/>
<path d="M360.3 395.4V400.2L364.8 397.8Z" fill="#0000ff"/>
<path d="M354.3 391.9V396.7L358.9 394.3Z" fill="#0000ff"/>
<path d="M363.5 385.9V390.7L368.1 388.3Z" fill="#0000ff"/>
<path d="M352.3 389.7V394.5L356.8 392.1Z" fill="#0000ff"/>
<path d="M360.6 388.8V393.6L365.2 391.2Z" fill="#0000ff"/>
<path d="M359.9 391.4V396.2L364.5 393.8Z" fill="#0000ff"/>
<path d="M364.7 387.7V392.5L369.3 390.1Z" fill="#0000ff"/>
<path d="M358.4 388.4V393.2L363.0 390.8Z" fill="#0000ff"/>
<path d="M351.2 412.2V417.0L355.8 414.6Z" fill="#0000ff"/>
<path d="M347.7 412.8V417.6L352.2 415.2Z" fill="#0000ff"/>
<path d="M344.9 423.0V427.8L349.4 425.4Z" fill="#0000ff"/>
<path d="M346.4 411.1V415.9L350.9 413.5Z" fill="#0000ff"/>
<path d="M351.7 417.6V422.4L356.2 420.0Z" fill="#0000ff"/>
<path d="M349.1 422.1V426.9L353.7 424.5Z" fill="#0000ff"/>
<path d="M340.1 417.6V422.4L344.6 420.0Z" fill="#0000ff"/>
<path d="M346.4 416.9V421.7L350.9 419.3Z" fill="#0000ff"/>
<path d="M348.3 412.2V417.0L352.8 414.6Z" fill="#0000ff"/>
<path d="M340.1 413.8V418.6L344.7 416.2Z" fill="#0000ff"/>
<path d="M339.2 422.1V426.9L343.7 424.5Z" fill="#0000ff"/>
<path d="M348.4 412.9V417.7L352.9 415.3Z" fill="#0000ff"/>
<path d="M343.2 414.6V419.4L347.8 417.0Z" fill="#0000ff"/>
<path d="M348.8 415.6V420.4L353.4 418.0Z" fill="#0000ff"/>
<path d="M349.0 420.4V425.2L353.5 422.8Z" fill="#0000ff"/>
<path d="M341.4 423.2V428.0L346.0 425.6Z" fill="#0000ff"/>
<path d="M350.3 416.8V421.6L354.8 419.2Z" fill="#0000ff"/>
<path d="M355.5 413.4V418.2L360.1 415.8Z" fill="#0000ff"/>
<path d="M347.8 410.7V415.5L352.4 413.1Z" fill="#0000ff"/>
<path d="M351.2 420.2V425.0L355.8 422.6Z" fill="#0000ff"/>
<path d="M354.4 414.1V418.9L358.9 416.5Z" fill="#0000ff"/>
<path d="M354.1 416.2V421.0L358.7 418.6Z" fill="#0000ff"/>
<path d="M340.8 430.7V435.5L345.4 433.1Z" fill="#0000ff"/>
<path d="M341.9 430.8V435.6L346.5 433.2Z" fill="#0000ff"/>
<path d="M332.3 440.2V445.0L336.9 442.6Z" fill="#0000ff"/>
<path d="M339.8 440.4V445.2L344.4 442.8Z" fill="#0000ff"/>
<path d="M343.3 432.4V437.2L347.9 434.8Z" fill="#0000ff"/>
<path d="M340.3 435.0V439.8L344.9 437.4Z" fill="#0000ff"/>
<path d="M335.5 441.1V445.9L340.1 443.5Z" fill="#0000ff"/>
<path d="M336.4 433.5V438.3L341.0 435.9Z" fill="#0000ff"/>
<path d="M331.0 429.8V434.6L335.6 432.2Z" fill="#0000ff"/>
<path d="M338.4 430.5V435.3L342.9 432.9Z" fill="#0000ff"/>
<path d="M329.4 437.9V442.7L333.9 440.3Z" fill="#0000ff"/>
<path d="M335.6 439.7V444.5L340.2 442.1Z" fill="#0000ff"/>
<path d="M335.7 433.5V438.3L340.2 435.9Z" fill="#0000ff"/>
<path d="M346.3 440.8V445.6L350.8 443.2Z" fill="#0000ff"/>
<path d="M327.6 451.4V456.2L332.2 453.8Z" fill="#0000ff"/>
<path d="M323.8 456.1V460.9L328.4 458.5Z" fill="#0000ff"/>
<path d="M339.6 449.3V454.1L344.2 451.7Z" fill="#0000ff"/>
<path d="M321.8 453.9V458.7L326.3 456.3Z" fill="#0000ff"/>
<path d="M334.9 453.1V457.9L339.5 455.5Z" fill="#0000ff"/>
<path d="M333.7 456.0V460.8L338.3 458.4Z" fill="#0000ff"/>
<path d="M330.7 450.2V455.0L335.2 452.6Z" fill="#0000ff"/>
<path d="M319.8 460.7V465.5L324.3 463.1Z" fill="#0000ff"/>
<path d="M323.5 459.9V464.7L328.1 462.3Z" fill="#0000ff"/>
<path d="M324.6 464.4V469.2L329.1 466.8Z" fill="#0000ff"/>
<path d="M329.9 460.4V465.2L334.4 462.8Z" fill="#0000ff"/>
<line x1="304.1" y1="497.0" x2="334.3" y2="290.3" stroke="#ff1a8c" stroke-width="1.2" stroke-dasharray="3.4 1.7"/>
<line x1="361.9" y1="497.0" x2="483.5" y2="290.3" stroke="#06a074" stroke-width="1.2" stroke-dasharray="3.4 1.7"/>
<line x1="311.2" y1="497.0" x2="473.2" y2="290.3" stroke="#7570b3" stroke-width="1.2" stroke-dasharray="3.4 1.7"/>
<line x1="314.0" y1="497.0" x2="418.1" y2="290.3" stroke="#ff4a00" stroke-width="1.2" stroke-dasharray="3.4 1.7"/>
<line x1="319.2" y1="497.0" x2="379.8" y2="290.3" stroke="#28a028" stroke-width="1.2" stroke-dasharray="3.4 1.7"/>
<line x1="314.5" y1="490.0" x2="410.5" y2="290.3" stroke="#a6761d" stroke-width="1.2" stroke-dasharray="3.4 1.7"/>
<line x1="314.5" y1="490.5" x2="411.5" y2="290.3" stroke="#ffa500" stroke-width="1.2" stroke-dasharray="3.4 1.7"/>
<line x1="314.5" y1="489.2" x2="409.5" y2="290.3" stroke="#ff0000" stroke-width="1.2" stroke-dasharray="3.4 1.7"/>
<line x1="314.5" y1="489.2" x2="414.8" y2="290.3" stroke="#0000ff" stroke-width="1.2" stroke-dasharray="3.4 1.7"/>
</g>
<rect x="315.0" y="290.3" width="206.7" height="206.7" fill="none" stroke="#6e6e6e" stroke-width="1.25"/>
<line x1="315.0" y1="497.0" x2="315.0" y2="500.0" stroke="#6e6e6e" stroke-width="0.9"/>
<text x="315.0" y="508.2" font-family="Liberation Sans" font-size="9.2" text-anchor="middle" fill="#222" textLength="14.63" lengthAdjust="spacingAndGlyphs" stroke="#222" stroke-width="0.18">0.0</text>
<line x1="340.8" y1="497.0" x2="340.8" y2="500.0" stroke="#6e6e6e" stroke-width="0.9"/>
<text x="340.8" y="508.2" font-family="Liberation Sans" font-size="9.2" text-anchor="middle" fill="#222" textLength="14.63" lengthAdjust="spacingAndGlyphs" stroke="#222" stroke-width="0.18">0.5</text>
<line x1="366.7" y1="497.0" x2="366.7" y2="500.0" stroke="#6e6e6e" stroke-width="0.9"/>
<text x="366.7" y="508.2" font-family="Liberation Sans" font-size="9.2" text-anchor="middle" fill="#222" textLength="14.63" lengthAdjust="spacingAndGlyphs" stroke="#222" stroke-width="0.18">1.0</text>
<line x1="392.5" y1="497.0" x2="392.5" y2="500.0" stroke="#6e6e6e" stroke-width="0.9"/>
<text x="392.5" y="508.2" font-family="Liberation Sans" font-size="9.2" text-anchor="middle" fill="#222" textLength="14.63" lengthAdjust="spacingAndGlyphs" stroke="#222" stroke-width="0.18">1.5</text>
<line x1="418.4" y1="497.0" x2="418.4" y2="500.0" stroke="#6e6e6e" stroke-width="0.9"/>
<text x="418.4" y="508.2" font-family="Liberation Sans" font-size="9.2" text-anchor="middle" fill="#222" textLength="14.63" lengthAdjust="spacingAndGlyphs" stroke="#222" stroke-width="0.18">2.0</text>
<line x1="444.2" y1="497.0" x2="444.2" y2="500.0" stroke="#6e6e6e" stroke-width="0.9"/>
<text x="444.2" y="508.2" font-family="Liberation Sans" font-size="9.2" text-anchor="middle" fill="#222" textLength="14.63" lengthAdjust="spacingAndGlyphs" stroke="#222" stroke-width="0.18">2.5</text>
<line x1="470.0" y1="497.0" x2="470.0" y2="500.0" stroke="#6e6e6e" stroke-width="0.9"/>
<text x="470.0" y="508.2" font-family="Liberation Sans" font-size="9.2" text-anchor="middle" fill="#222" textLength="14.63" lengthAdjust="spacingAndGlyphs" stroke="#222" stroke-width="0.18">3.0</text>
<line x1="495.9" y1="497.0" x2="495.9" y2="500.0" stroke="#6e6e6e" stroke-width="0.9"/>
<text x="495.9" y="508.2" font-family="Liberation Sans" font-size="9.2" text-anchor="middle" fill="#222" textLength="14.63" lengthAdjust="spacingAndGlyphs" stroke="#222" stroke-width="0.18">3.5</text>
<line x1="521.7" y1="497.0" x2="521.7" y2="500.0" stroke="#6e6e6e" stroke-width="0.9"/>
<text x="521.7" y="508.2" font-family="Liberation Sans" font-size="9.2" text-anchor="middle" fill="#222" textLength="14.63" lengthAdjust="spacingAndGlyphs" stroke="#222" stroke-width="0.18">4.0</text>
<line x1="312.0" y1="497.0" x2="315.0" y2="497.0" stroke="#6e6e6e" stroke-width="0.9"/>
<text x="310.5" y="500.3" font-family="Liberation Sans" font-size="9.0" text-anchor="end" fill="#222" textLength="14.31" lengthAdjust="spacingAndGlyphs" stroke="#222" stroke-width="0.18">0.0</text>
<line x1="312.0" y1="471.2" x2="315.0" y2="471.2" stroke="#6e6e6e" stroke-width="0.9"/>
<text x="310.5" y="474.5" font-family="Liberation Sans" font-size="9.0" text-anchor="end" fill="#222" textLength="14.31" lengthAdjust="spacingAndGlyphs" stroke="#222" stroke-width="0.18">0.5</text>
<line x1="312.0" y1="445.3" x2="315.0" y2="445.3" stroke="#6e6e6e" stroke-width="0.9"/>
<text x="310.5" y="448.6" font-family="Liberation Sans" font-size="9.0" text-anchor="end" fill="#222" textLength="14.31" lengthAdjust="spacingAndGlyphs" stroke="#222" stroke-width="0.18">1.0</text>
<line x1="312.0" y1="419.5" x2="315.0" y2="419.5" stroke="#6e6e6e" stroke-width="0.9"/>
<text x="310.5" y="422.8" font-family="Liberation Sans" font-size="9.0" text-anchor="end" fill="#222" textLength="14.31" lengthAdjust="spacingAndGlyphs" stroke="#222" stroke-width="0.18">1.5</text>
<line x1="312.0" y1="393.6" x2="315.0" y2="393.6" stroke="#6e6e6e" stroke-width="0.9"/>
<text x="310.5" y="396.9" font-family="Liberation Sans" font-size="9.0" text-anchor="end" fill="#222" textLength="14.31" lengthAdjust="spacingAndGlyphs" stroke="#222" stroke-width="0.18">2.0</text>
<line x1="312.0" y1="367.8" x2="315.0" y2="367.8" stroke="#6e6e6e" stroke-width="0.9"/>
<text x="310.5" y="371.1" font-family="Liberation Sans" font-size="9.0" text-anchor="end" fill="#222" textLength="14.31" lengthAdjust="spacingAndGlyphs" stroke="#222" stroke-width="0.18">2.5</text>
<line x1="312.0" y1="342.0" x2="315.0" y2="342.0" stroke="#6e6e6e" stroke-width="0.9"/>
<text x="310.5" y="345.3" font-family="Liberation Sans" font-size="9.0" text-anchor="end" fill="#222" textLength="14.31" lengthAdjust="spacingAndGlyphs" stroke="#222" stroke-width="0.18">3.0</text>
<line x1="312.0" y1="316.1" x2="315.0" y2="316.1" stroke="#6e6e6e" stroke-width="0.9"/>
<text x="310.5" y="319.4" font-family="Liberation Sans" font-size="9.0" text-anchor="end" fill="#222" textLength="14.31" lengthAdjust="spacingAndGlyphs" stroke="#222" stroke-width="0.18">3.5</text>
<line x1="312.0" y1="290.3" x2="315.0" y2="290.3" stroke="#6e6e6e" stroke-width="0.9"/>
<text x="310.5" y="293.6" font-family="Liberation Sans" font-size="9.0" text-anchor="end" fill="#222" textLength="14.31" lengthAdjust="spacingAndGlyphs" stroke="#222" stroke-width="0.18">4.0</text>
<text x="418.1" y="286.9" font-family="Liberation Sans" font-size="7.4" text-anchor="middle" fill="#222" textLength="62.49" lengthAdjust="spacingAndGlyphs" stroke="#222" stroke-width="0.08">LAI = 2, Random</text>
<g transform="translate(291.0,393.2) rotate(-90)">
<text x="0.0" y="0.0" font-family="Liberation Sans" font-size="9.4" text-anchor="middle" fill="#222" textLength="64.98" lengthAdjust="spacingAndGlyphs" stroke="#222" stroke-width="0.18">Reference LAI</text>
</g>
<text x="376.6" y="521.9" font-family="Liberation Serif" font-size="10" fill="#222" stroke="#222" stroke-width="0.2" textLength="21.0" lengthAdjust="spacingAndGlyphs">eLAI</text>
<text x="397.8" y="524.2" font-family="Liberation Serif" font-size="7.4" fill="#222" stroke="#222" stroke-width="0.15" textLength="10.2" lengthAdjust="spacingAndGlyphs">est</text>
<text x="406.3" y="541.2" font-family="Liberation Serif" font-size="12.8" text-anchor="middle" font-weight="bold" fill="#222">(d)</text>
<rect x="461.7" y="399.0" width="56.6" height="95.0" rx="2" ry="2" fill="#fff" fill-opacity="0.85" stroke="#d0d0d0" stroke-width="0.8"/>
<circle cx="471.7" cy="405.0" r="1.80" fill="#06a074"/>
<text x="484.1" y="406.8" font-family="Liberation Sans" font-size="7.2" fill="#222" textLength="10.48" lengthAdjust="spacingAndGlyphs" stroke="#222" stroke-width="0.1">LPI</text>
<text x="494.8" y="408.2" font-family="Liberation Sans" font-size="4.8" fill="#222" textLength="5.61" lengthAdjust="spacingAndGlyphs" stroke="#222" stroke-width="0.1">all</text>
<path d="M469.8 413.7H473.6L471.7 417.3Z" fill="#ff4a00"/>
<text x="484.1" y="417.1" font-family="Liberation Sans" font-size="7.2" fill="#222" textLength="10.48" lengthAdjust="spacingAndGlyphs" stroke="#222" stroke-width="0.1">LPI</text>
<text x="494.8" y="418.5" font-family="Liberation Sans" font-size="4.8" fill="#222" textLength="22.18" lengthAdjust="spacingAndGlyphs" stroke="#222" stroke-width="0.1">weighted</text>
<path d="M469.8 427.2H473.6L471.7 423.6Z" fill="#7570b3"/>
<text x="484.1" y="427.4" font-family="Liberation Sans" font-size="7.2" fill="#222" textLength="10.48" lengthAdjust="spacingAndGlyphs" stroke="#222" stroke-width="0.1">LPI</text>
<text x="494.8" y="428.8" font-family="Liberation Sans" font-size="4.8" fill="#222" textLength="9.38" lengthAdjust="spacingAndGlyphs" stroke="#222" stroke-width="0.1">first</text>
<rect x="470.0" y="434.2" width="3.4" height="3.4" fill="#ff1a8c"/>
<text x="484.1" y="437.7" font-family="Liberation Sans" font-size="7.2" fill="#222" textLength="10.48" lengthAdjust="spacingAndGlyphs" stroke="#222" stroke-width="0.1">LPI</text>
<text x="494.8" y="439.1" font-family="Liberation Sans" font-size="4.8" fill="#222" textLength="8.66" lengthAdjust="spacingAndGlyphs" stroke="#222" stroke-width="0.1">last</text>
<circle cx="471.7" cy="446.2" r="1.57" fill="#28a028"/>
<text x="484.1" y="448.0" font-family="Liberation Sans" font-size="7.2" fill="#222" textLength="10.48" lengthAdjust="spacingAndGlyphs" stroke="#222" stroke-width="0.1">LPI</text>
<text x="494.8" y="449.4" font-family="Liberation Sans" font-size="4.8" fill="#222" textLength="10.91" lengthAdjust="spacingAndGlyphs" stroke="#222" stroke-width="0.1">both</text>
<circle cx="471.7" cy="456.5" r="1.57" fill="#ffa500"/>
<text x="484.1" y="458.3" font-family="Liberation Sans" font-size="7.2" fill="#222" textLength="10.48" lengthAdjust="spacingAndGlyphs" stroke="#222" stroke-width="0.1">LPI</text>
<text x="494.8" y="459.7" font-family="Liberation Sans" font-size="4.8" fill="#222" textLength="19.74" lengthAdjust="spacingAndGlyphs" stroke="#222" stroke-width="0.1">r = 2.10</text>
<circle cx="471.7" cy="466.8" r="1.80" fill="#a6761d"/>
<text x="484.1" y="468.6" font-family="Liberation Sans" font-size="7.2" fill="#222" textLength="10.48" lengthAdjust="spacingAndGlyphs" stroke="#222" stroke-width="0.1">LPI</text>
<text x="494.8" y="470.0" font-family="Liberation Sans" font-size="4.8" fill="#222" textLength="18.14" lengthAdjust="spacingAndGlyphs" stroke="#222" stroke-width="0.1">nearest</text>
<path d="M471.7 474.7L473.3 477.1L471.7 479.5L470.1 477.1Z" fill="#ff0000"/>
<text x="484.1" y="478.9" font-family="Liberation Sans" font-size="7.2" fill="#222" textLength="10.48" lengthAdjust="spacingAndGlyphs" stroke="#222" stroke-width="0.1">LPI</text>
<text x="494.8" y="480.3" font-family="Liberation Sans" font-size="4.8" fill="#222" textLength="12.79" lengthAdjust="spacingAndGlyphs" stroke="#222" stroke-width="0.1">fitted</text>
<path d="M469.9 485.2V489.6L474.0 487.4Z" fill="#0000ff"/>
<text x="484.1" y="489.2" font-family="Liberation Sans" font-size="7.2" font-weight="bold" fill="#222" textLength="5.28" lengthAdjust="spacingAndGlyphs" stroke="#222" stroke-width="0.1">P</text>
<text x="489.6" y="490.6" font-family="Liberation Sans" font-size="4.8" font-weight="bold" fill="#222" textLength="10.11" lengthAdjust="spacingAndGlyphs" stroke="#222" stroke-width="0.1">gap</text>
</svg>
</body></html>
